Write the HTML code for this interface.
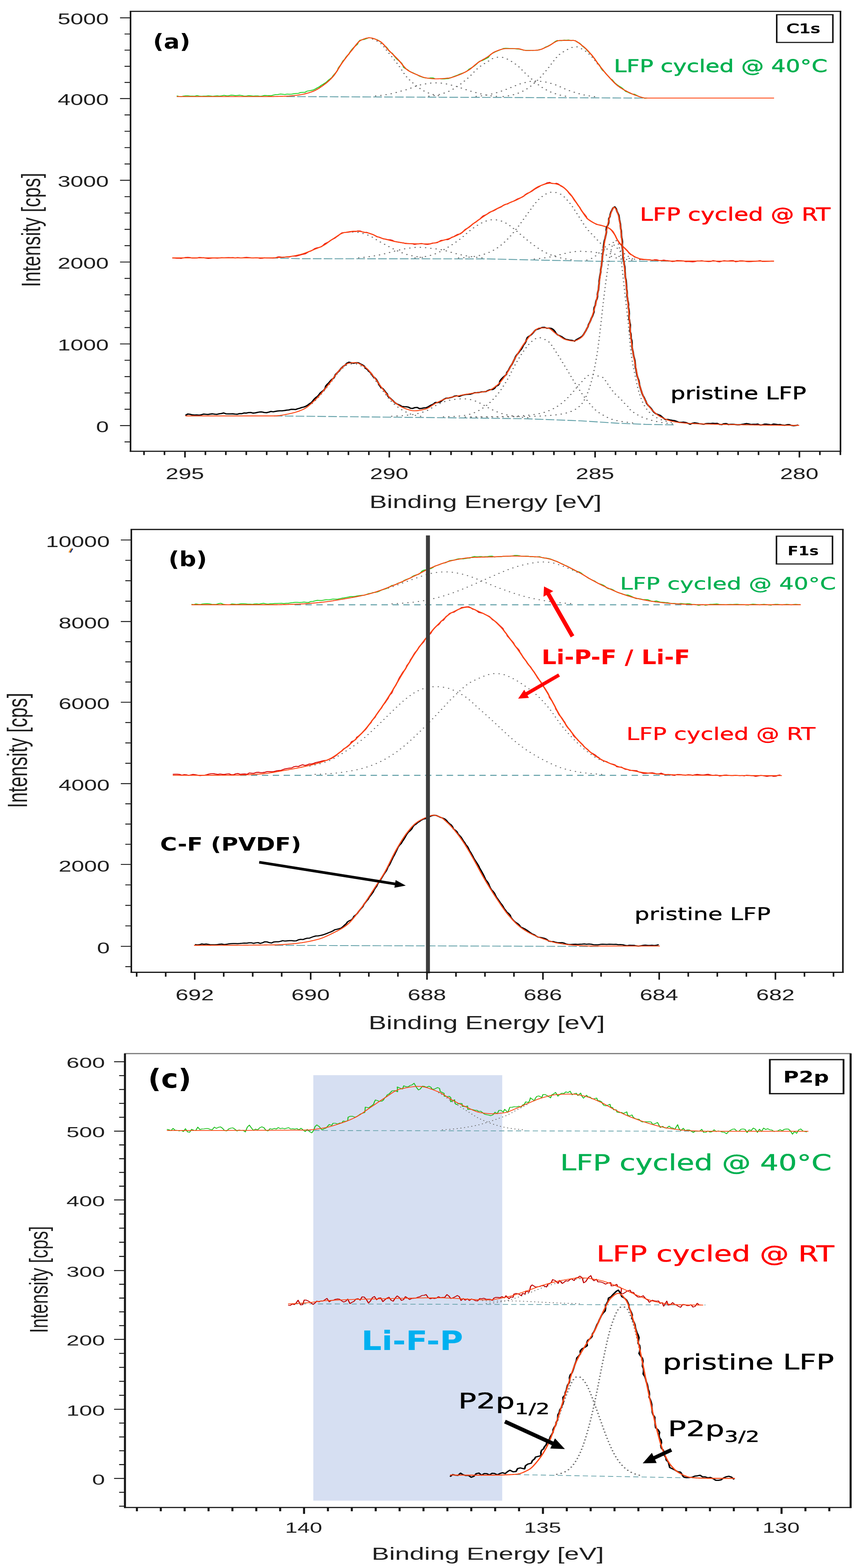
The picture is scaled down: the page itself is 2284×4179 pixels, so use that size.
<!DOCTYPE html>
<html lang="en"><head><meta charset="utf-8"><title>XPS spectra of LFP electrodes</title>
<style>html,body{margin:0;padding:0;background:#fff;overflow:hidden}svg{display:block}</style></head><body>
<svg width="2284" height="4179" viewBox="0 0 2284 4179">
<rect width="2284" height="4179" fill="#fff"/>
<g transform="scale(1.4 1)">
<g id="panel-a">
<path d="M545 257.4L1229.29 261.4" fill="none" stroke="#62a0a8" stroke-width="2.4" stroke-dasharray="16.4 4.3"/>
<path d="M709.29 104L710.71 104.7L712.14 105.5L713.57 106.4L715 107.4L716.43 108.4L717.86 109.5L719.29 110.6L720.71 111.8L722.14 113L723.57 114.3L725 115.9L726.43 117.8L727.86 119.9L729.29 122.1L730.71 124.6L732.14 127.1L733.57 129.7L735 132.4L736.43 135L737.86 137.6L739.29 140.2L740.71 142.6L742.14 145L743.57 147.4L745 149.8L746.43 152.3L747.86 154.7L749.29 157.2L750.71 159.7L752.14 162.2L753.57 164.8L755 167.3L756.43 170L757.86 172.6L759.29 175.4L760.71 178.2L762.14 181.2L763.57 184.2L765 187.2L766.43 190.2L767.86 193.2L769.29 196.1L770.71 198.9L772.14 201.6L773.57 204.1L775 206.4L776.43 208.5L777.86 210.6L779.29 212.5L780.71 214.5L782.14 216.3L783.57 218.1L785 219.9L786.43 221.6L787.86 223.3L789.29 225L790.71 226.6L792.14 228.2L793.57 229.8L795 231.3L796.43 232.8L797.86 234.3L799.29 235.7L800.71 237.1L802.14 238.4L803.57 239.7L805 240.9L806.43 242L807.86 243.1L809.29 244.1L810.71 245L812.14 245.9L813.57 246.7L815 247.5L816.43 248.3L817.86 249L819.29 249.7L820.71 250.4L822.14 251L823.57 251.5L825 252.1L826.43 252.6L827.86 253.1L829.29 253.5L830.71 253.9L832.14 254.3L833.57 254.7L835 255L836.43 255.3L837.86 255.6L839.29 255.9L840.71 256.2L842.14 256.4L843.57 256.6" fill="none" stroke="#6c6c6c" stroke-width="2.8" stroke-dasharray="0.1 10" stroke-linecap="round"/>
<path d="M715 255.7L716.43 255.6L717.86 255.4L719.29 255.2L720.71 255L722.14 254.8L723.57 254.5L725 254.3L726.43 254L727.86 253.8L729.29 253.5L730.71 253.2L732.14 252.9L733.57 252.6L735 252.3L736.43 252L737.86 251.7L739.29 251.3L740.71 250.9L742.14 250.5L743.57 250.1L745 249.7L746.43 249.2L747.86 248.7L749.29 248.2L750.71 247.7L752.14 247.2L753.57 246.7L755 246.1L756.43 245.5L757.86 244.9L759.29 244.4L760.71 243.8L762.14 243.3L763.57 242.7L765 242.2L766.43 241.7L767.86 241.2L769.29 240.6L770.71 240.1L772.14 239.6L773.57 239L775 238.4L776.43 237.7L777.86 237L779.29 236.3L780.71 235.5L782.14 234.8L783.57 234L785 233.3L786.43 232.5L787.86 231.7L789.29 231L790.71 230.3L792.14 229.6L793.57 228.9L795 228.2L796.43 227.7L797.86 227.1L799.29 226.6L800.71 226.1L802.14 225.7L803.57 225.3L805 224.9L806.43 224.5L807.86 224.2L809.29 223.8L810.71 223.4L812.14 223L813.57 222.6L815 222.3L816.43 222L817.86 221.8L819.29 221.6L820.71 221.4L822.14 221.2L823.57 221.1L825 221L826.43 220.9L827.86 220.9L829.29 220.9L830.71 220.8L832.14 220.8L833.57 220.9L835 221L836.43 221.1L837.86 221.2L839.29 221.4L840.71 221.6L842.14 221.8L843.57 222.1L845 222.4L846.43 222.7L847.86 223.1L849.29 223.5L850.71 224L852.14 224.4L853.57 224.9L855 225.4L856.43 225.9L857.86 226.4L859.29 226.9L860.71 227.4L862.14 227.9L863.57 228.4L865 228.9L866.43 229.4L867.86 230L869.29 230.5L870.71 231.1L872.14 231.8L873.57 232.4L875 233.1L876.43 233.8L877.86 234.5L879.29 235.2L880.71 235.9L882.14 236.6L883.57 237.3L885 237.9L886.43 238.6L887.86 239.3L889.29 240L890.71 240.6L892.14 241.3L893.57 241.9L895 242.5L896.43 243.1L897.86 243.7L899.29 244.2L900.71 244.8L902.14 245.3L903.57 245.9L905 246.4L906.43 246.9L907.86 247.5L909.29 248L910.71 248.6L912.14 249.1L913.57 249.6L915 250.1L916.43 250.6L917.86 251.1L919.29 251.5L920.71 252L922.14 252.4L923.57 252.8L925 253.2L926.43 253.5L927.86 253.8L929.29 254.2L930.71 254.5L932.14 254.8L933.57 255L935 255.3L936.43 255.5L937.86 255.8L939.29 256L940.71 256.2L942.14 256.5L943.57 256.7L945 256.9L946.43 257.1L947.86 257.2" fill="none" stroke="#6c6c6c" stroke-width="2.8" stroke-dasharray="0.1 10" stroke-linecap="round"/>
<path d="M816.43 256.3L817.86 256.1L819.29 255.9L820.71 255.7L822.14 255.4L823.57 255.1L825 254.9L826.43 254.6L827.86 254.2L829.29 253.9L830.71 253.5L832.14 253.1L833.57 252.7L835 252.2L836.43 251.8L837.86 251.3L839.29 250.7L840.71 250.2L842.14 249.6L843.57 249L845 248.3L846.43 247.7L847.86 247L849.29 246.2L850.71 245.5L852.14 244.7L853.57 243.9L855 243L856.43 242.1L857.86 241.1L859.29 240.1L860.71 239L862.14 237.9L863.57 236.7L865 235.5L866.43 234.2L867.86 232.9L869.29 231.6L870.71 230.2L872.14 228.8L873.57 227.4L875 225.9L876.43 224.5L877.86 223L879.29 221.4L880.71 219.9L882.14 218.3L883.57 216.6L885 215L886.43 213.3L887.86 211.6L889.29 209.8L890.71 208.1L892.14 206.3L893.57 204.5L895 202.6L896.43 200.6L897.86 198.5L899.29 196.4L900.71 194.3L902.14 192.2L903.57 190.1L905 188L906.43 186L907.86 184.1L909.29 182.3L910.71 180.6L912.14 179L913.57 177.5L915 176L916.43 174.6L917.86 173.3L919.29 172L920.71 170.8L922.14 169.5L923.57 168.3L925 167.1L926.43 166L927.86 164.8L929.29 163.5L930.71 162.2L932.14 160.8L933.57 159.5L935 158.2L936.43 157L937.86 155.9L939.29 155L940.71 154.2L942.14 153.7L943.57 153.3L945 153L946.43 152.7L947.86 152.5L949.29 152.4L950.71 152.3L952.14 152.3L953.57 152.4L955 152.6L956.43 152.9L957.86 153.3L959.29 153.8L960.71 154.4L962.14 155.2L963.57 156L965 157L966.43 158L967.86 159L969.29 160.1L970.71 161.2L972.14 162.4L973.57 163.6L975 164.9L976.43 166.1L977.86 167.5L979.29 168.9L980.71 170.3L982.14 171.7L983.57 173.2L985 174.7L986.43 176.4L987.86 178.2L989.29 180.1L990.71 182.1L992.14 184.1L993.57 186.1L995 188.2L996.43 190.3L997.86 192.3L999.29 194.3L1000.71 196.2L1002.14 198.1L1003.57 199.9L1005 201.7L1006.43 203.5L1007.86 205.3L1009.29 207.1L1010.71 209L1012.14 210.8L1013.57 212.5L1015 214.3L1016.43 216.1L1017.86 217.8L1019.29 219.5L1020.71 221.2L1022.14 222.9L1023.57 224.5L1025 226.1L1026.43 227.6L1027.86 229.1L1029.29 230.4L1030.71 231.8L1032.14 233.1L1033.57 234.3L1035 235.5L1036.43 236.7L1037.86 237.9L1039.29 239L1040.71 240.1L1042.14 241.1L1043.57 242.1L1045 243.1L1046.43 244L1047.86 244.9L1049.29 245.7L1050.71 246.5L1052.14 247.3L1053.57 248L1055 248.7L1056.43 249.4L1057.86 250.1L1059.29 250.7L1060.71 251.3L1062.14 251.9L1063.57 252.5L1065 253L1066.43 253.5L1067.86 254L1069.29 254.5L1070.71 254.9L1072.14 255.3L1073.57 255.7L1075 256.1L1076.43 256.4L1077.86 256.7L1079.29 257L1080.71 257.3L1082.14 257.5L1083.57 257.7L1085 258" fill="none" stroke="#6c6c6c" stroke-width="2.8" stroke-dasharray="0.1 10" stroke-linecap="round"/>
<path d="M906.43 256.9L907.86 256.7L909.29 256.5L910.71 256.3L912.14 256.1L913.57 255.9L915 255.6L916.43 255.4L917.86 255.1L919.29 254.9L920.71 254.6L922.14 254.3L923.57 254L925 253.7L926.43 253.3L927.86 253L929.29 252.6L930.71 252.2L932.14 251.8L933.57 251.3L935 250.8L936.43 250.3L937.86 249.8L939.29 249.3L940.71 248.7L942.14 248.2L943.57 247.6L945 247.1L946.43 246.5L947.86 245.9L949.29 245.2L950.71 244.6L952.14 243.9L953.57 243.2L955 242.5L956.43 241.8L957.86 241.1L959.29 240.4L960.71 239.6L962.14 238.9L963.57 238.2L965 237.4L966.43 236.7L967.86 235.9L969.29 235.1L970.71 234.3L972.14 233.5L973.57 232.7L975 231.9L976.43 231.1L977.86 230.3L979.29 229.4L980.71 228.6L982.14 227.8L983.57 226.9L985 226.1L986.43 225.3L987.86 224.6L989.29 223.9L990.71 223.3L992.14 222.7L993.57 222.2L995 221.6L996.43 221.1L997.86 220.6L999.29 220.1L1000.71 219.6L1002.14 219.1L1003.57 218.6L1005 218.2L1006.43 217.7L1007.86 217.3L1009.29 217L1010.71 216.7L1012.14 216.4L1013.57 216.2L1015 216L1016.43 215.9L1017.86 215.9L1019.29 215.8L1020.71 215.9L1022.14 216L1023.57 216.1L1025 216.3L1026.43 216.4L1027.86 216.6L1029.29 216.8L1030.71 217L1032.14 217.2L1033.57 217.4L1035 217.7L1036.43 218.1L1037.86 218.4L1039.29 218.8L1040.71 219.3L1042.14 219.8L1043.57 220.3L1045 220.8L1046.43 221.3L1047.86 221.9L1049.29 222.4L1050.71 223L1052.14 223.6L1053.57 224.2L1055 224.9L1056.43 225.6L1057.86 226.3L1059.29 227L1060.71 227.8L1062.14 228.7L1063.57 229.5L1065 230.4L1066.43 231.4L1067.86 232.3L1069.29 233.2L1070.71 234.1L1072.14 235L1073.57 235.9L1075 236.7L1076.43 237.6L1077.86 238.4L1079.29 239.2L1080.71 239.9L1082.14 240.7L1083.57 241.4L1085 242.1L1086.43 242.8L1087.86 243.5L1089.29 244.1L1090.71 244.8L1092.14 245.4L1093.57 246L1095 246.7L1096.43 247.3L1097.86 247.9L1099.29 248.5L1100.71 249.1L1102.14 249.7L1103.57 250.3L1105 250.8L1106.43 251.3L1107.86 251.8L1109.29 252.2L1110.71 252.7L1112.14 253.1L1113.57 253.5L1115 253.9L1116.43 254.3L1117.86 254.7L1119.29 255L1120.71 255.4L1122.14 255.7L1123.57 256L1125 256.3L1126.43 256.6L1127.86 256.9L1129.29 257.1L1130.71 257.4L1132.14 257.6L1133.57 257.9L1135 258.1L1136.43 258.3" fill="none" stroke="#6c6c6c" stroke-width="2.8" stroke-dasharray="0.1 10" stroke-linecap="round"/>
<path d="M957.86 257.2L959.29 257L960.71 256.7L962.14 256.5L963.57 256.2L965 255.9L966.43 255.6L967.86 255.3L969.29 254.9L970.71 254.6L972.14 254.2L973.57 253.7L975 253.3L976.43 252.8L977.86 252.2L979.29 251.7L980.71 251.1L982.14 250.4L983.57 249.8L985 249L986.43 248.3L987.86 247.5L989.29 246.7L990.71 245.9L992.14 245L993.57 244.1L995 243.2L996.43 242.2L997.86 241.1L999.29 240L1000.71 238.9L1002.14 237.6L1003.57 236.4L1005 235L1006.43 233.6L1007.86 232.2L1009.29 230.7L1010.71 229.1L1012.14 227.5L1013.57 225.9L1015 224.2L1016.43 222.5L1017.86 220.7L1019.29 218.9L1020.71 217.1L1022.14 215.3L1023.57 213.4L1025 211.5L1026.43 209.4L1027.86 207.3L1029.29 205.2L1030.71 202.9L1032.14 200.6L1033.57 198.3L1035 195.9L1036.43 193.5L1037.86 191.1L1039.29 188.7L1040.71 186.3L1042.14 183.9L1043.57 181.4L1045 178.9L1046.43 176.3L1047.86 173.7L1049.29 171L1050.71 168.4L1052.14 165.7L1053.57 163.1L1055 160.5L1056.43 158L1057.86 155.5L1059.29 153.2L1060.71 151L1062.14 148.9L1063.57 147L1065 145.2L1066.43 143.7L1067.86 142.3L1069.29 140.9L1070.71 139.6L1072.14 138.3L1073.57 137.1L1075 135.9L1076.43 134.8L1077.86 133.7L1079.29 132.6L1080.71 131.6L1082.14 130.6L1083.57 129.6L1085 128.7L1086.43 127.8L1087.86 127L1089.29 126.2L1090.71 125.4L1092.14 124.7L1093.57 124.3L1095 124.2L1096.43 124.3L1097.86 124.7L1099.29 125.2L1100.71 125.9L1102.14 126.7L1103.57 127.6L1105 128.6L1106.43 129.6L1107.86 130.6L1109.29 131.6L1110.71 132.7L1112.14 133.9L1113.57 135.2L1115 136.6L1116.43 138.1L1117.86 139.8L1119.29 141.5L1120.71 143.3L1122.14 145.1L1123.57 147L1125 149L1126.43 151L1127.86 153.2L1129.29 155.5L1130.71 157.9L1132.14 160.5L1133.57 163.1L1135 165.8L1136.43 168.4L1137.86 171.1L1139.29 173.7L1140.71 176.2" fill="none" stroke="#6c6c6c" stroke-width="2.8" stroke-dasharray="0.1 10" stroke-linecap="round"/>
<path d="M336.43 255.5L340.72 257L345 257.5L349.29 256.1L353.57 255.3L357.86 255.3L362.14 256L366.43 256.1L370.72 256.3L375 254.7L379.29 256L383.57 256.5L387.86 256.2L392.14 256L396.43 255.3L400.71 255.9L405 256.6L409.29 255.9L413.57 255.4L417.86 256.1L422.14 255.3L426.43 254L430.71 255.1L435 255.3L439.28 253.7L443.57 253.9L447.86 254.8L452.14 254.4L456.42 253.7L460.71 254.8L465 256.2L469.29 255.8L473.57 254.8L477.86 255.4L482.14 256.2L486.43 255.6L490.71 255.7L495 256.5L499.29 255.8L503.54 254.4L507.85 254.7L512.16 254.8L516.48 255.1L520.69 253.3L524.92 252.1L529.22 251.9L533.45 250.7L537.8 251.2L542.17 252L546.39 250.8L550.78 251.1L555.12 251L559.32 249.9L563.54 249.1L567.83 248.9L571.91 246.7L576.16 246.2L580.52 246.1L584.3 243L588.48 242L592.71 240.9L596.88 239.5L600.64 236.8L604.26 233.8L608.1 231.2L611.34 227.5L615.07 224.6L618.63 221.4L622.04 217.9L625.08 213.8L628.55 210.3L631.78 206.4L634.27 201.6L637.02 197.1L639.86 192.6L642.47 187.8L643.74 182.2L646.05 177.2L648.74 172.5L650.83 167.4L652.88 162.3L655.99 158.1L658.2 153.1L660.86 148.5L664.19 144.5L666.01 139.2L668.51 134.4L671.15 129.9L674.06 125.5L677.47 121.5L680.65 117.5L682.31 111.8L685.21 107.3L689.73 105.9L694.09 104.9L697.96 102.8L701.95 100.5L706.26 101L710.38 102.6L714.51 104.3L718.63 106.3L722.27 109.4L725.63 113L728.94 116.8L731.99 121.1L735.2 125.2L737.99 129.7L740.11 134.9L743.25 139.1L747.1 142.4L749.46 147.4L752.13 152L754.77 156.6L758.1 160.6L761.61 164.4L764.79 168.6L766.73 174L768.38 179.6L772.23 183.2L776.24 186.1L779.38 190L783.33 192.5L787.3 194.8L791.16 197.3L795 199.9L798.64 203.1L802.76 205L806.83 207L811.15 207.8L815.42 208.5L819.82 207.7L824.09 207.5L828.23 209.9L832.51 210L836.8 210L841.11 210.3L845.44 210.5L849.73 210L854.03 209.3L858.19 207.5L862.08 204.9L866.02 202.7L870.08 200.8L873.95 198.3L877.94 196.2L882.05 194.3L886.05 191.9L889.68 188.8L892.66 184.6L896.34 181.5L900.16 178.4L903.77 174.9L907.06 171.1L909.94 166.7L913.26 163L917.8 161.5L921.71 158.9L925.51 156L929.52 153.2L932.03 148.1L935.12 144L938.87 141L942.66 138.3L946.61 136.1L950.51 133.7L954.52 131.7L958.48 129.1L962.86 128.7L967.19 128.9L971.47 129.3L975.76 129.3L980.04 129.8L984.28 130.6L988.47 130.9L992.63 132.2L996.79 133.7L1001.08 134.2L1005.34 134.2L1009.61 134L1013.91 134.3L1018.2 134.2L1022.5 134.2L1026.57 132.2L1030.8 131.2L1034.7 128.7L1038.3 125.5L1042.36 123.5L1046.12 120.7L1049.94 117.8L1053.44 114.4L1056.83 110.7L1060.81 108L1065.38 108.3L1069.61 108.4L1073.89 106.8L1078.18 107.1L1082.46 106.5L1086.75 108.3L1091.06 107.5L1095.33 108.5L1098.71 112.2L1102.86 114.6L1106.09 118.5L1108.84 123.1L1112.17 126.8L1115.51 130.6L1118.33 135.1L1121.36 139.3L1124.34 143.7L1127.25 148.1L1129.73 153L1132.61 157.6L1134.82 162.7L1137.31 167.5L1140.33 172L1142.58 177L1144.42 182.5L1147.04 187.2L1150.46 191.2L1153.13 195.9L1156.07 200.3L1159.09 204.6L1161.83 209.2L1165.55 212.8L1168.17 217.4L1171.04 221.8L1174.39 225.6L1177.93 229L1181.61 232L1185.02 235.5L1188.05 239.7L1191.22 243.8L1195.38 245.8L1199.24 248.5L1203.31 250.6L1207.9 251.2L1211.67 253.9L1215.34 257L1219.54 258.5L1223.62 260.3L1227.8 261.9L1232.14 261" fill="none" stroke="#20d020" stroke-width="2.2" stroke-linejoin="round" />
<path d="M336.43 257.4L337.86 257.4L339.29 257.4L340.71 257.4L342.14 257.4L343.57 257.4L345 257.4L346.43 257.4L347.86 257.4L349.29 257.4L350.71 257.4L352.14 257.4L353.57 257.4L355 257.4L356.43 257.4L357.86 257.4L359.29 257.4L360.71 257.4L362.14 257.4L363.57 257.4L365 257.4L366.43 257.4L367.86 257.4L369.29 257.4L370.71 257.4L372.14 257.4L373.57 257.4L375 257.4L376.43 257.4L377.86 257.4L379.29 257.4L380.71 257.4L382.14 257.4L383.57 257.4L385 257.4L386.43 257.4L387.86 257.4L389.29 257.4L390.71 257.4L392.14 257.4L393.57 257.4L395 257.4L396.43 257.4L397.86 257.4L399.29 257.4L400.71 257.4L402.14 257.4L403.57 257.4L405 257.4L406.43 257.4L407.86 257.4L409.29 257.4L410.71 257.4L412.14 257.4L413.57 257.4L415 257.4L416.43 257.4L417.86 257.4L419.29 257.4L420.71 257.4L422.14 257.4L423.57 257.4L425 257.4L426.43 257.4L427.86 257.4L429.29 257.4L430.71 257.4L432.14 257.4L433.57 257.4L435 257.4L436.43 257.4L437.86 257.4L439.29 257.4L440.71 257.4L442.14 257.4L443.57 257.4L445 257.4L446.43 257.4L447.86 257.4L449.29 257.4L450.71 257.4L452.14 257.4L453.57 257.4L455 257.4L456.43 257.4L457.86 257.4L459.29 257.4L460.71 257.4L462.14 257.4L463.57 257.4L465 257.4L466.43 257.4L467.86 257.4L469.29 257.4L470.71 257.4L472.14 257.4L473.57 257.4L475 257.4L476.43 257.4L477.86 257.4L479.29 257.4L480.71 257.4L482.14 257.4L483.57 257.4L485 257.4L486.43 257.4L487.86 257.4L489.29 257.4L490.71 257.4L492.14 257.4L493.57 257.4L495 257.4L496.43 257.4L497.86 257.4L499.29 257.4L500.71 257.4L502.14 257.4L503.57 257.4L505 257.4L506.43 257.4L507.86 257.4L509.29 257.4L510.71 257.3L512.14 257.3L513.57 257.3L515 257.3L516.43 257.3L517.86 257.2L519.29 257.2L520.71 257.2L522.14 257.1L523.57 257.1L525 257.1L526.43 257L527.86 257L529.29 257L530.71 256.9L532.14 256.9L533.57 256.8L535 256.8L536.43 256.7L537.86 256.7L539.29 256.6L540.71 256.6L542.14 256.5L543.57 256.5L545 256.4L546.43 256.3L547.86 256.2L549.29 256.1L550.71 256L552.14 255.8L553.57 255.7L555 255.5L556.43 255.3L557.86 255.1L559.29 254.9L560.71 254.6L562.14 254.4L563.57 254.1L565 253.9L566.43 253.6L567.86 253.3L569.29 253L570.71 252.8L572.14 252.4L573.57 252.1L575 251.7L576.43 251.3L577.86 250.9L579.29 250.5L580.71 250L582.14 249.5L583.57 249L585 248.4L586.43 247.9L587.86 247.3L589.29 246.6L590.71 246L592.14 245.3L593.57 244.6L595 243.9L596.43 243.2L597.86 242.3L599.29 241.4L600.71 240.4L602.14 239.3L603.57 238.2L605 237L606.43 235.8L607.86 234.5L609.29 233.2L610.71 231.8L612.14 230.5L613.57 229.1L615 227.6L616.43 226.2L617.86 224.7L619.29 223.2L620.71 221.7L622.14 220L623.57 218.4L625 216.6L626.43 214.8L627.86 212.9L629.29 211L630.71 208.9L632.14 206.8L633.57 204.6L635 202.3L636.43 199.7L637.86 197L639.29 194L640.71 190.9L642.14 187.8L643.57 184.5L645 181.3L646.43 178L647.86 174.8L649.29 171.7L650.71 168.7L652.14 165.9L653.57 163.2L655 160.4L656.43 157.7L657.86 155.1L659.29 152.4L660.71 149.8L662.14 147.2L663.57 144.7L665 142.2L666.43 139.7L667.86 137.2L669.29 134.8L670.71 132.4L672.14 129.8L673.57 127.2L675 124.6L676.43 121.9L677.86 119.3L679.29 116.9L680.71 114.6L682.14 112.4L683.57 110.6L685 109L686.43 107.7L687.86 106.8L689.29 105.9L690.71 105L692.14 104.2L693.57 103.5L695 102.8L696.43 102.2L697.86 101.7L699.29 101.3L700.71 101L702.14 100.8L703.57 100.8L705 100.9L706.43 101.2L707.86 101.5L709.29 102L710.71 102.5L712.14 103.2L713.57 103.9L715 104.7L716.43 105.6L717.86 106.5L719.29 107.4L720.71 108.4L722.14 109.4L723.57 110.4L725 111.7L726.43 113.3L727.86 115.2L729.29 117.2L730.71 119.3L732.14 121.6L733.57 123.9L735 126.2L736.43 128.5L737.86 130.8L739.29 133L740.71 135L742.14 137L743.57 139L745 140.9L746.43 142.9L747.86 144.8L749.29 146.8L750.71 148.8L752.14 150.7L753.57 152.7L755 154.8L756.43 156.8L757.86 158.9L759.29 161L760.71 163.3L762.14 165.7L763.57 168.1L765 170.6L766.43 173.1L767.86 175.6L769.29 177.9L770.71 180.2L772.14 182.3L773.57 184.2L775 185.8L776.43 187.3L777.86 188.6L779.29 189.8L780.71 190.9L782.14 192L783.57 193L785 194L786.43 194.9L787.86 195.8L789.29 196.7L790.71 197.5L792.14 198.3L793.57 199.1L795 199.9L796.43 200.8L797.86 201.6L799.29 202.4L800.71 203.2L802.14 204L803.57 204.8L805 205.5L806.43 206.1L807.86 206.7L809.29 207.1L810.71 207.5L812.14 207.8L813.57 208.1L815 208.4L816.43 208.7L817.86 208.9L819.29 209.2L820.71 209.4L822.14 209.6L823.57 209.7L825 209.9L826.43 210L827.86 210.1L829.29 210.1L830.71 210.1L832.14 210.1L833.57 210L835 210L836.43 209.9L837.86 209.8L839.29 209.7L840.71 209.6L842.14 209.5L843.57 209.4L845 209.2L846.43 209.1L847.86 208.9L849.29 208.7L850.71 208.5L852.14 208.3L853.57 208.1L855 207.9L856.43 207.5L857.86 207.1L859.29 206.6L860.71 206.1L862.14 205.5L863.57 204.9L865 204.2L866.43 203.5L867.86 202.8L869.29 202L870.71 201.2L872.14 200.5L873.57 199.7L875 198.9L876.43 198.1L877.86 197.3L879.29 196.4L880.71 195.5L882.14 194.6L883.57 193.6L885 192.6L886.43 191.5L887.86 190.4L889.29 189.2L890.71 188.1L892.14 186.9L893.57 185.6L895 184.1L896.43 182.6L897.86 181L899.29 179.3L900.71 177.5L902.14 175.8L903.57 174.1L905 172.3L906.43 170.7L907.86 169.1L909.29 167.6L910.71 166.2L912.14 164.9L913.57 163.7L915 162.5L916.43 161.3L917.86 160.2L919.29 159L920.71 157.9L922.14 156.8L923.57 155.6L925 154.4L926.43 153.2L927.86 151.9L929.29 150.6L930.71 149.1L932.14 147.5L933.57 145.9L935 144.3L936.43 142.8L937.86 141.3L939.29 140L940.71 138.8L942.14 137.9L943.57 137.1L945 136.3L946.43 135.4L947.86 134.7L949.29 133.9L950.71 133.2L952.14 132.5L953.57 131.9L955 131.3L956.43 130.8L957.86 130.4L959.29 130L960.71 129.8L962.14 129.6L963.57 129.6L965 129.6L966.43 129.6L967.86 129.6L969.29 129.6L970.71 129.6L972.14 129.6L973.57 129.6L975 129.6L976.43 129.6L977.86 129.6L979.29 129.6L980.71 129.6L982.14 129.6L983.57 129.6L985 129.6L986.43 129.8L987.86 130L989.29 130.5L990.71 131L992.14 131.5L993.57 132.1L995 132.7L996.43 133.3L997.86 133.8L999.29 134.2L1000.71 134.5L1002.14 134.6L1003.57 134.6L1005 134.6L1006.43 134.6L1007.86 134.5L1009.29 134.5L1010.71 134.4L1012.14 134.4L1013.57 134.3L1015 134.2L1016.43 134.1L1017.86 134.1L1019.29 134L1020.71 133.8L1022.14 133.7L1023.57 133.6L1025 133.4L1026.43 133L1027.86 132.5L1029.29 131.9L1030.71 131.2L1032.14 130.4L1033.57 129.6L1035 128.7L1036.43 127.7L1037.86 126.8L1039.29 125.9L1040.71 125L1042.14 124.2L1043.57 123.2L1045 122.1L1046.43 121L1047.86 119.8L1049.29 118.5L1050.71 117.2L1052.14 115.9L1053.57 114.6L1055 113.4L1056.43 112.2L1057.86 111.1L1059.29 110.2L1060.71 109.3L1062.14 108.6L1063.57 108.1L1065 107.8L1066.43 107.7L1067.86 107.7L1069.29 107.7L1070.71 107.7L1072.14 107.7L1073.57 107.7L1075 107.7L1076.43 107.7L1077.86 107.7L1079.29 107.7L1080.71 107.7L1082.14 107.7L1083.57 107.7L1085 107.7L1086.43 107.7L1087.86 107.7L1089.29 107.7L1090.71 107.7L1092.14 107.8L1093.57 108.1L1095 108.8L1096.43 109.6L1097.86 110.7L1099.29 112L1100.71 113.3L1102.14 114.8L1103.57 116.3L1105 117.9L1106.43 119.5L1107.86 121.1L1109.29 122.5L1110.71 124.1L1112.14 125.8L1113.57 127.5L1115 129.4L1116.43 131.3L1117.86 133.4L1119.29 135.5L1120.71 137.6L1122.14 139.8L1123.57 142.1L1125 144.3L1126.43 146.7L1127.86 149L1129.29 151.6L1130.71 154.3L1132.14 157.1L1133.57 160L1135 162.9L1136.43 165.8L1137.86 168.6L1139.29 171.4L1140.71 174L1142.14 176.6L1143.57 179.2L1145 181.7L1146.43 184.2L1147.86 186.7L1149.29 189.1L1150.71 191.5L1152.14 193.9L1153.57 196.3L1155 198.6L1156.43 200.9L1157.86 203.1L1159.29 205.3L1160.71 207.5L1162.14 209.7L1163.57 211.9L1165 214L1166.43 216.1L1167.86 218.2L1169.29 220.2L1170.71 222.2L1172.14 224.1L1173.57 225.8L1175 227.5L1176.43 229.1L1177.86 230.5L1179.29 232L1180.71 233.3L1182.14 234.6L1183.57 235.9L1185 237.1L1186.43 238.3L1187.86 239.4L1189.29 240.5L1190.71 241.6L1192.14 242.6L1193.57 243.6L1195 244.7L1196.43 245.7L1197.86 246.6L1199.29 247.6L1200.71 248.6L1202.14 249.5L1203.57 250.4L1205 251.3L1206.43 252.1L1207.86 252.9L1209.29 253.6L1210.71 254.4L1212.14 255L1213.57 255.7L1215 256.4L1216.43 257.1L1217.86 257.8L1219.29 258.5L1220.71 259.2L1222.14 259.7L1223.57 260.3L1225 260.7L1226.43 261.1L1227.86 261.3L1229.29 261.4L1230.71 261.4L1232.14 261.4L1233.57 261.4L1235 261.4L1236.43 261.4L1237.86 261.4L1239.29 261.4L1240.71 261.4L1242.14 261.4L1243.57 261.4L1245 261.4L1246.43 261.4L1247.86 261.4L1249.29 261.4L1250.71 261.4L1252.14 261.4L1253.57 261.4L1255 261.4L1256.43 261.4L1257.86 261.4L1259.29 261.4L1260.71 261.4L1262.14 261.4L1263.57 261.4L1265 261.4L1266.43 261.4L1267.86 261.4L1269.29 261.4L1270.71 261.4L1272.14 261.4L1273.57 261.4L1275 261.4L1276.43 261.4L1277.86 261.4L1279.29 261.4L1280.71 261.4L1282.14 261.4L1283.57 261.4L1285 261.4L1286.43 261.4L1287.86 261.4L1289.29 261.4L1290.71 261.4L1292.14 261.4L1293.57 261.4L1295 261.4L1296.43 261.4L1297.86 261.4L1299.29 261.4L1300.71 261.4L1302.14 261.4L1303.57 261.4L1305 261.4L1306.43 261.4L1307.86 261.4L1309.29 261.4L1310.71 261.4L1312.14 261.4L1313.57 261.4L1315 261.4L1316.43 261.4L1317.86 261.4L1319.29 261.4L1320.71 261.4L1322.14 261.4L1323.57 261.4L1325 261.4L1326.43 261.4L1327.86 261.4L1329.29 261.4L1330.71 261.4L1332.14 261.4L1333.57 261.4L1335 261.4L1336.43 261.4L1337.86 261.4L1339.29 261.4L1340.71 261.4L1342.14 261.4L1343.57 261.4L1345 261.4L1346.43 261.4L1347.86 261.4L1349.29 261.4L1350.71 261.4L1352.14 261.4L1353.57 261.4L1355 261.4L1356.43 261.4L1357.86 261.4L1359.29 261.4L1360.71 261.4L1362.14 261.4L1363.57 261.4L1365 261.4L1366.43 261.4L1367.86 261.4L1369.29 261.4L1370.71 261.4L1372.14 261.4L1373.57 261.4L1375 261.4L1376.43 261.4L1377.86 261.4L1379.29 261.4L1380.71 261.4L1382.14 261.4L1383.57 261.4L1385 261.4L1386.43 261.4L1387.86 261.4L1389.29 261.4L1390.71 261.4L1392.14 261.4L1393.57 261.4L1395 261.4L1396.43 261.4L1397.86 261.4L1399.29 261.4L1400.71 261.4L1402.14 261.4L1403.57 261.4L1405 261.4L1406.43 261.4L1407.86 261.4L1409.29 261.4L1410.71 261.4L1412.14 261.4L1413.57 261.4L1415 261.4L1416.43 261.4L1417.86 261.4L1419.29 261.4L1420.71 261.4L1422.14 261.4L1423.57 261.4L1425 261.4L1426.43 261.4L1427.86 261.4L1429.29 261.4L1430.71 261.4L1432.14 261.4L1433.57 261.4L1435 261.4L1436.43 261.4L1437.86 261.4L1439.29 261.4L1440.71 261.4L1442.14 261.4L1443.57 261.4L1445 261.4L1446.43 261.4L1447.86 261.4L1449.29 261.4L1450.71 261.4L1452.14 261.4L1453.57 261.4L1455 261.4L1456.43 261.4L1457.86 261.4L1459.29 261.4L1460.71 261.4L1462.14 261.4L1463.57 261.4L1465 261.4L1466.43 261.4L1467.86 261.4L1469.29 261.4L1470.71 261.4L1472.14 261.4L1473.57 261.4" fill="none" stroke="#ff4612" stroke-width="2.4" stroke-linejoin="round" />
<path d="M512.86 687.5L571.43 689.5L928.57 690L1035.71 693.5L1142.86 696.5L1285.71 696" fill="none" stroke="#62a0a8" stroke-width="2.4" stroke-dasharray="16.4 4.3"/>
<path d="M671.43 618.4L672.86 618.4L674.29 618.4L675.71 618.5L677.14 618.6L678.57 618.8L680 619L681.43 619.3L682.86 619.6L684.29 620L685.71 620.4L687.14 620.9L688.57 621.3L690 621.9L691.43 622.4L692.86 623L694.29 623.6L695.71 624.3L697.14 624.9L698.57 625.6L700 626.3L701.43 627L702.86 627.8L704.29 628.7L705.71 629.7L707.14 630.8L708.57 631.9L710 633.1L711.43 634.3L712.86 635.6L714.29 636.8L715.71 638.1L717.14 639.4L718.57 640.6L720 641.8L721.43 643L722.86 644.1L724.29 645.2L725.71 646.3L727.14 647.4L728.57 648.4L730 649.5L731.43 650.6L732.86 651.7L734.29 652.7L735.71 653.8L737.14 654.9L738.57 655.9L740 657L741.43 658L742.86 659.1L744.29 660.1L745.71 661.2L747.14 662.2L748.57 663.2L750 664.3L751.43 665.2L752.86 666.2L754.29 667.2L755.71 668.1L757.14 669L758.57 669.9L760 670.8L761.43 671.6L762.86 672.4L764.29 673.2L765.71 673.9L767.14 674.7L768.57 675.4L770 676.1L771.43 676.8L772.86 677.4L774.29 678.1L775.71 678.7L777.14 679.2L778.57 679.8L780 680.3L781.43 680.8L782.86 681.3L784.29 681.7L785.71 682.1L787.14 682.6L788.57 682.9L790 683.3L791.43 683.7L792.86 684L794.29 684.3L795.71 684.7L797.14 685L798.57 685.2L800 685.5L801.43 685.8L802.86 686L804.29 686.2L805.71 686.4L807.14 686.6L808.57 686.8L810 687L811.43 687.2" fill="none" stroke="#6c6c6c" stroke-width="2.8" stroke-dasharray="0.1 10" stroke-linecap="round"/>
<path d="M682.86 687.1L684.29 686.9L685.71 686.8L687.14 686.6L688.57 686.4L690 686.2L691.43 686L692.86 685.8L694.29 685.6L695.71 685.4L697.14 685.1L698.57 684.9L700 684.6L701.43 684.3L702.86 684L704.29 683.7L705.71 683.4L707.14 683.1L708.57 682.8L710 682.5L711.43 682.2L712.86 681.9L714.29 681.6L715.71 681.2L717.14 680.9L718.57 680.5L720 680.1L721.43 679.8L722.86 679.3L724.29 678.9L725.71 678.5L727.14 678L728.57 677.5L730 677.1L731.43 676.6L732.86 676.1L734.29 675.5L735.71 675L737.14 674.5L738.57 674L740 673.4L741.43 672.9L742.86 672.4L744.29 671.8L745.71 671.3L747.14 670.8L748.57 670.3L750 669.7L751.43 669.2L752.86 668.7L754.29 668.2L755.71 667.8L757.14 667.3L758.57 666.8L760 666.3L761.43 665.8L762.86 665.4L764.29 664.9L765.71 664.5L767.14 664.1L768.57 663.7L770 663.3L771.43 662.9L772.86 662.6L774.29 662.3L775.71 662L777.14 661.7L778.57 661.4L780 661.1L781.43 660.8L782.86 660.6L784.29 660.3L785.71 660.1L787.14 659.9L788.57 659.7L790 659.5L791.43 659.4L792.86 659.3L794.29 659.2L795.71 659.2L797.14 659.1L798.57 659.1L800 659.2L801.43 659.2L802.86 659.3L804.29 659.4L805.71 659.5L807.14 659.7L808.57 659.8L810 660L811.43 660.3L812.86 660.5L814.29 660.8L815.71 661.1L817.14 661.3L818.57 661.5L820 661.8L821.43 662L822.86 662.2L824.29 662.4L825.71 662.6L827.14 662.8L828.57 663.1L830 663.3L831.43 663.6L832.86 663.8L834.29 664.1L835.71 664.4L837.14 664.8L838.57 665.1L840 665.5L841.43 665.9L842.86 666.4L844.29 666.8L845.71 667.3L847.14 667.8L848.57 668.4L850 668.9L851.43 669.5L852.86 670.1L854.29 670.6L855.71 671.2L857.14 671.8L858.57 672.4L860 672.9L861.43 673.5L862.86 674.1L864.29 674.6L865.71 675.2L867.14 675.7L868.57 676.2L870 676.7L871.43 677.2L872.86 677.7L874.29 678.2L875.71 678.6L877.14 679L878.57 679.4L880 679.8L881.43 680.2L882.86 680.6L884.29 681L885.71 681.3L887.14 681.7L888.57 682L890 682.4L891.43 682.7L892.86 683L894.29 683.3L895.71 683.7L897.14 683.9L898.57 684.2L900 684.5L901.43 684.8L902.86 685.1L904.29 685.3L905.71 685.6L907.14 685.8L908.57 686L910 686.2L911.43 686.5L912.86 686.6L914.29 686.8L915.71 687L917.14 687.2L918.57 687.4" fill="none" stroke="#6c6c6c" stroke-width="2.8" stroke-dasharray="0.1 10" stroke-linecap="round"/>
<path d="M790 687.3L791.43 687.1L792.86 686.9L794.29 686.7L795.71 686.5L797.14 686.3L798.57 686L800 685.8L801.43 685.5L802.86 685.2L804.29 684.9L805.71 684.6L807.14 684.3L808.57 683.9L810 683.6L811.43 683.2L812.86 682.8L814.29 682.4L815.71 681.9L817.14 681.5L818.57 681L820 680.4L821.43 679.9L822.86 679.3L824.29 678.6L825.71 678L827.14 677.2L828.57 676.5L830 675.7L831.43 674.9L832.86 674L834.29 673.1L835.71 672.1L837.14 671.1L838.57 670.1L840 669.1L841.43 668L842.86 666.9L844.29 665.8L845.71 664.7L847.14 663.5L848.57 662.4L850 661.2L851.43 660.1L852.86 658.9L854.29 657.7L855.71 656.4L857.14 655.2L858.57 653.9L860 652.7L861.43 651.4L862.86 650L864.29 648.7L865.71 647.4L867.14 646L868.57 644.6L870 643.3L871.43 641.8L872.86 640.4L874.29 638.9L875.71 637.3L877.14 635.7L878.57 634.1L880 632.4L881.43 630.7L882.86 629L884.29 627.2L885.71 625.5L887.14 623.7L888.57 621.9L890 620.2L891.43 618.4L892.86 616.7L894.29 615L895.71 613.4L897.14 611.8L898.57 610.2L900 608.7L901.43 607.3L902.86 605.9L904.29 604.5L905.71 603.2L907.14 602L908.57 600.7L910 599.5L911.43 598.3L912.86 597.2L914.29 596L915.71 595L917.14 594L918.57 593L920 592L921.43 591.2L922.86 590.3L924.29 589.6L925.71 588.9L927.14 588.2L928.57 587.6L930 587.1L931.43 586.7L932.86 586.3L934.29 586L935.71 585.8L937.14 585.6L938.57 585.5L940 585.5L941.43 585.6L942.86 585.7L944.29 585.9L945.71 586.1L947.14 586.5L948.57 586.9L950 587.3L951.43 587.9L952.86 588.5L954.29 589.1L955.71 589.9L957.14 590.7L958.57 591.5L960 592.5L961.43 593.5L962.86 594.5L964.29 595.7L965.71 596.9L967.14 598.1L968.57 599.5L970 600.9L971.43 602.3L972.86 603.8L974.29 605.3L975.71 606.9L977.14 608.5L978.57 610.2L980 611.8L981.43 613.5L982.86 615.2L984.29 616.8L985.71 618.5L987.14 620.2L988.57 621.9L990 623.6L991.43 625.3L992.86 627L994.29 628.7L995.71 630.4L997.14 632.1L998.57 633.8L1000 635.5L1001.43 637.2L1002.86 638.8L1004.29 640.5L1005.71 642.2L1007.14 643.8L1008.57 645.4L1010 647L1011.43 648.5L1012.86 650L1014.29 651.5L1015.71 653L1017.14 654.4L1018.57 655.8L1020 657.2L1021.43 658.6L1022.86 660L1024.29 661.4L1025.71 662.7L1027.14 664L1028.57 665.3L1030 666.6L1031.43 667.8L1032.86 668.9L1034.29 670.1L1035.71 671.1L1037.14 672.2L1038.57 673.2L1040 674.2L1041.43 675.2L1042.86 676.1L1044.29 677L1045.71 677.8L1047.14 678.6L1048.57 679.4L1050 680.2L1051.43 681L1052.86 681.7L1054.29 682.4L1055.71 683L1057.14 683.7L1058.57 684.3L1060 684.8L1061.43 685.4L1062.86 685.9L1064.29 686.4L1065.71 686.9L1067.14 687.4L1068.57 687.8L1070 688.2L1071.43 688.7L1072.86 689.1L1074.29 689.4L1075.71 689.8L1077.14 690.1L1078.57 690.5L1080 690.8L1081.43 691.1L1082.86 691.4L1084.29 691.6L1085.71 691.9L1087.14 692.1L1088.57 692.4" fill="none" stroke="#6c6c6c" stroke-width="2.8" stroke-dasharray="0.1 10" stroke-linecap="round"/>
<path d="M872.86 687.4L874.29 687.3L875.71 687.2L877.14 687.1L878.57 687L880 686.9L881.43 686.7L882.86 686.6L884.29 686.5L885.71 686.3L887.14 686.1L888.57 686L890 685.8L891.43 685.6L892.86 685.4L894.29 685.1L895.71 684.9L897.14 684.7L898.57 684.4L900 684.1L901.43 683.8L902.86 683.5L904.29 683.2L905.71 682.9L907.14 682.5L908.57 682.2L910 681.8L911.43 681.3L912.86 680.9L914.29 680.4L915.71 679.9L917.14 679.4L918.57 678.8L920 678.2L921.43 677.6L922.86 677L924.29 676.3L925.71 675.6L927.14 674.8L928.57 674L930 673.2L931.43 672.4L932.86 671.5L934.29 670.6L935.71 669.6L937.14 668.6L938.57 667.6L940 666.5L941.43 665.4L942.86 664.2L944.29 662.9L945.71 661.6L947.14 660.3L948.57 658.9L950 657.4L951.43 655.9L952.86 654.4L954.29 652.8L955.71 651.1L957.14 649.4L958.57 647.6L960 645.8L961.43 643.9L962.86 641.9L964.29 639.9L965.71 637.9L967.14 635.8L968.57 633.7L970 631.6L971.43 629.4L972.86 627.2L974.29 624.9L975.71 622.6L977.14 620.2L978.57 617.9L980 615.4L981.43 613L982.86 610.5L984.29 607.9L985.71 605.3L987.14 602.7L988.57 600L990 597.3L991.43 594.6L992.86 591.8L994.29 589L995.71 586.2L997.14 583.4L998.57 580.6L1000 577.8L1001.43 575L1002.86 572.3L1004.29 569.5L1005.71 566.8L1007.14 564.1L1008.57 561.3L1010 558.5L1011.43 555.8L1012.86 553L1014.29 550.3L1015.71 547.6L1017.14 545L1018.57 542.4L1020 539.9L1021.43 537.6L1022.86 535.3L1024.29 533.2L1025.71 531.2L1027.14 529.4L1028.57 527.7L1030 526L1031.43 524.4L1032.86 522.9L1034.29 521.4L1035.71 520.1L1037.14 518.8L1038.57 517.6L1040 516.5L1041.43 515.5L1042.86 514.6L1044.29 513.8L1045.71 513.2L1047.14 512.7L1048.57 512.3L1050 512.1L1051.43 512L1052.86 512L1054.29 512.1L1055.71 512.4L1057.14 512.7L1058.57 513.2L1060 513.7L1061.43 514.3L1062.86 515L1064.29 515.8L1065.71 516.6L1067.14 517.5L1068.57 518.6L1070 519.9L1071.43 521.4L1072.86 523.2L1074.29 525L1075.71 527L1077.14 529.1L1078.57 531.3L1080 533.6L1081.43 535.9L1082.86 538.2L1084.29 540.6L1085.71 543.1L1087.14 545.7L1088.57 548.5L1090 551.4L1091.43 554.4L1092.86 557.5L1094.29 560.6L1095.71 563.7L1097.14 566.8L1098.57 569.9L1100 573L1101.43 576L1102.86 579L1104.29 582.1L1105.71 585.3L1107.14 588.5L1108.57 591.8L1110 595L1111.43 598.1L1112.86 601.2L1114.29 604.2L1115.71 607L1117.14 609.6L1118.57 612L1120 614.2L1121.43 616.3L1122.86 618.4L1124.29 620.5L1125.71 622.6L1127.14 624.7L1128.57 626.7L1130 628.8L1131.43 631L1132.86 633.1L1134.29 635.2L1135.71 637.4L1137.14 639.5L1138.57 641.7L1140 643.8L1141.43 645.8L1142.86 647.8L1144.29 649.8L1145.71 651.7L1147.14 653.6L1148.57 655.5L1150 657.2L1151.43 659L1152.86 660.7L1154.29 662.3L1155.71 663.8L1157.14 665.3L1158.57 666.8L1160 668.2L1161.43 669.5L1162.86 670.8L1164.29 672L1165.71 673.2L1167.14 674.4L1168.57 675.7L1170 677.1L1171.43 678.5L1172.86 679.8L1174.29 681L1175.71 682L1177.14 682.8L1178.57 683.5L1180 684.1L1181.43 684.6L1182.86 685.1L1184.29 685.6L1185.71 686L1187.14 686.3L1188.57 686.7L1190 687L1191.43 687.3L1192.86 687.7L1194.29 688L1195.71 688.3L1197.14 688.7L1198.57 689L1200 689.3L1201.43 689.6L1202.86 689.9L1204.29 690.1L1205.71 690.3L1207.14 690.6L1208.57 690.8L1210 691L1211.43 691.3L1212.86 691.5L1214.29 691.8L1215.71 692L1217.14 692.1L1218.57 692.3L1220 692.3L1221.43 692.4" fill="none" stroke="#6c6c6c" stroke-width="2.8" stroke-dasharray="0.1 10" stroke-linecap="round"/>
<path d="M1017.14 690.3L1018.57 690.1L1020 690L1021.43 689.8L1022.86 689.6L1024.29 689.4L1025.71 689.2L1027.14 689L1028.57 688.8L1030 688.6L1031.43 688.3L1032.86 688.1L1034.29 687.8L1035.71 687.5L1037.14 687.2L1038.57 686.9L1040 686.6L1041.43 686.3L1042.86 685.9L1044.29 685.5L1045.71 685.2L1047.14 684.8L1048.57 684.4L1050 684L1051.43 683.6L1052.86 683.1L1054.29 682.7L1055.71 682.2L1057.14 681.8L1058.57 681.3L1060 680.8L1061.43 680.4L1062.86 679.9L1064.29 679.3L1065.71 678.8L1067.14 678.3L1068.57 677.8L1070 677.3L1071.43 676.8L1072.86 676.3L1074.29 675.8L1075.71 675.4L1077.14 674.9L1078.57 674.5L1080 674L1081.43 673.6L1082.86 673.2L1084.29 672.7L1085.71 672.3L1087.14 672L1088.57 671.6L1090 671.3L1091.43 671.1L1092.86 670.8L1094.29 670.6L1095.71 670.4L1097.14 670.3L1098.57 670.1L1100 670L1101.43 669.8L1102.86 669.7L1104.29 669.7L1105.71 669.7L1107.14 669.7L1108.57 669.8L1110 669.9L1111.43 670L1112.86 670.2L1114.29 670.3L1115.71 670.5L1117.14 670.6L1118.57 670.7L1120 670.7L1121.43 670.8L1122.86 670.9L1124.29 671L1125.71 671.1L1127.14 671.3L1128.57 671.5L1130 671.7L1131.43 672L1132.86 672.3L1134.29 672.7L1135.71 673.1L1137.14 673.5L1138.57 674L1140 674.4L1141.43 674.9L1142.86 675.5L1144.29 676L1145.71 676.5L1147.14 677L1148.57 677.5L1150 678.1L1151.43 678.6L1152.86 679.2L1154.29 679.8L1155.71 680.3L1157.14 680.9L1158.57 681.4L1160 682L1161.43 682.5L1162.86 683L1164.29 683.5L1165.71 684.1L1167.14 684.6L1168.57 685.3L1170 686L1171.43 686.7L1172.86 687.3L1174.29 687.9L1175.71 688.5L1177.14 688.9L1178.57 689.3L1180 689.6L1181.43 689.9L1182.86 690.2L1184.29 690.4L1185.71 690.7L1187.14 690.9L1188.57 691.1L1190 691.3L1191.43 691.5L1192.86 691.7L1194.29 692L1195.71 692.2L1197.14 692.4L1198.57 692.6L1200 692.8L1201.43 693L1202.86 693.2L1204.29 693.4L1205.71 693.6L1207.14 693.7" fill="none" stroke="#6c6c6c" stroke-width="2.8" stroke-dasharray="0.1 10" stroke-linecap="round"/>
<path d="M1117.14 693.1L1118.57 692.7L1120 692.2L1121.43 691.5L1122.86 690.8L1124.29 690L1125.71 689.1L1127.14 688.1L1128.57 687L1130 685.8L1131.43 684.4L1132.86 683L1134.29 681.4L1135.71 679.7L1137.14 678L1138.57 676.2L1140 674.3L1141.43 672.4L1142.86 670.4L1144.29 668.4L1145.71 666.4L1147.14 664.4L1148.57 662.5L1150 660.7L1151.43 658.9L1152.86 657.3L1154.29 655.8L1155.71 654.5L1157.14 653.4L1158.57 652.4L1160 651.7L1161.43 651.1L1162.86 650.8L1164.29 650.7L1165.71 650.9L1167.14 651.5L1168.57 652.7L1170 654.4L1171.43 656.3L1172.86 658.5L1174.29 660.5L1175.71 662.4L1177.14 664.1L1178.57 665.7L1180 667.2L1181.43 668.7L1182.86 670.2L1184.29 671.7L1185.71 673.1L1187.14 674.6L1188.57 676L1190 677.4L1191.43 678.9L1192.86 680.3L1194.29 681.7L1195.71 683.1L1197.14 684.5L1198.57 685.7L1200 686.9L1201.43 688L1202.86 689L1204.29 689.9L1205.71 690.7L1207.14 691.4L1208.57 692.1L1210 692.7L1211.43 693.3L1212.86 693.8" fill="none" stroke="#6c6c6c" stroke-width="2.8" stroke-dasharray="0.1 10" stroke-linecap="round"/>
<path d="M327.86 687.2L332.14 687.9L336.43 688.2L340.71 688.1L345 688.7L349.29 687.1L353.57 686.2L357.86 685.9L362.14 686.5L366.43 687.9L370.71 687.7L375 687.5L379.29 686.1L383.57 686.4L387.86 686.6L392.14 688L396.43 688.7L400.71 688.3L405 687.6L409.29 687.6L413.57 688L417.86 687.3L422.14 686.7L426.43 686.9L430.71 686.7L435 686.5L439.29 686.7L443.57 686.5L447.86 687.4L452.14 686.4L456.43 687L460.71 687.1L465 686.5L469.29 686L473.57 686.4L477.86 687L482.14 687.2L486.43 686.9L490.71 687L495 688.6L499.29 688.4L503.57 687L507.86 687.6L512.14 687.6L516.43 687.5L520.74 687.7L525 686.8L529.18 684.8L533.47 684.8L537.84 685.8L542.09 685.1L546.38 684.7L550.73 684.8L554.87 683.1L559.19 682.6L563.61 682.5L567.79 681.1L571.96 679.5L576.13 677.9L580.48 676.7L584.27 673.8L587.93 670.7L592.03 668.8L595.75 665.9L599.36 662.6L603.39 660.6L607.74 659.3L611.89 657.4L615.2 653.7L618.35 649.8L622.24 647.1L626.04 644.1L629.54 640.6L633.31 637.5L637.24 634.8L640.62 631.2L644.12 627.8L647.39 624L651.01 620.6L655.45 619.6L659.83 619.4L664.07 618.5L668.27 617.6L672.5 617.1L676.73 617.1L681.07 615.5L685.44 615.6L689.53 617.8L693.63 619.5L698.09 619.3L702.1 621.5L706.14 623.4L710.3 625.1L714.03 628L717.74 631L722.14 632.1L726.02 634.5L730 636.7L734.38 637.3L738.54 638.8L742.94 639.1L747.06 640.7L750.94 643.4L755.17 644.4L759.4 645.3L763.59 646.5L767.8 647.5L771.98 649L776.28 649.3L780.6 649.1L784.87 649.7L789.13 651.3L793.44 650.4L797.73 650L802.03 648.9L806.3 650.1L810.59 651L814.91 651.2L819.21 650.1L823.27 647.9L827.61 647.5L831.96 646.8L835.77 643.9L839.52 641L843.89 640.1L848.1 638.8L852.66 638.5L856.48 635.8L860.07 632.4L864.16 630.5L867.76 627.4L871.5 624.7L876.08 623.4L879.65 620L882.59 615.7L885.67 611.6L889.48 608.5L893.26 605.3L896.5 601.4L899.61 597.4L903.18 594L906.86 590.8L910.05 586.9L913.74 583.7L916.68 579.4L919.91 575.5L923.96 572.9L927.82 570.1L931.2 566.5L935.13 563.8L939.37 561.9L943.11 559L946.74 555.9L950.7 553.5L954.55 550.9L957.96 547.3L961.83 544.7L966.27 543.6L969.9 540.4L973.8 538L977.86 536L981.6 533.2L985.32 530.3L989.38 528.1L993.37 525.7L997.09 522.7L1000.21 518.6L1003.85 515.4L1007.91 513L1011.76 510.1L1015.28 506.6L1018.77 503.2L1022.47 500.2L1026.19 497.5L1029.76 494.3L1033.76 492.2L1037.82 490.2L1041.75 487.3L1046.19 486.1L1050.58 489.1L1054.84 489.4L1059.54 488.6L1063.56 491L1066.89 495L1070.6 497.7L1074.13 501.1L1077.39 505.1L1080.48 509.3L1082.93 514.1L1085.66 518.7L1088.69 523L1091.06 528L1093.21 533.1L1095.95 537.9L1098.44 542.8L1100.75 547.8L1103.49 552.5L1105.45 557.8L1107.76 562.9L1110.45 567.7L1113.23 572.4L1115.86 577.1L1117.66 582.5L1121.21 586L1124.8 589.3L1128.41 592.5L1132.15 595.4L1135.95 598.2L1140.28 599.3L1144.49 600.5L1148.55 602.3L1152.63 604.1L1156.63 606.2L1160.48 609L1163.68 612.9L1166.26 617.5L1168.67 622.3L1171.11 627.4L1172.9 632.8L1174.76 638.2L1177.07 643.3L1179.16 648.5L1182.33 652.7L1185.64 656.7L1188.9 660.7L1191.94 665L1194.93 669.2L1197.36 674.2L1200.57 678.2L1204.64 680.8L1207.83 684.8L1212.11 686.6L1216.11 688.7L1220.1 691.1L1224.42 691.8L1228.77 691.7L1233.07 692L1237.34 692.5L1241.57 693.6L1245.94 692.3L1250.23 692.4L1254.43 694.1L1258.72 694.3L1263.06 693.3L1267.31 694.1L1271.57 694.7L1275.83 695.8L1280.1 697.1L1284.4 696.4L1288.69 694.4L1292.98 694.7L1297.26 695L1301.55 695.8L1305.83 697.3L1310.12 696.8L1314.4 697.4L1318.69 697.9L1322.97 697.1L1327.26 695.6L1331.55 695.6L1335.83 695L1340.12 696.1L1344.4 696.6L1348.69 697.1L1352.97 696.9L1357.26 694.8L1361.55 695.6L1365.83 697.1L1370.12 697.7L1374.4 696.2L1378.69 695L1382.98 695.7L1387.26 695.4L1391.55 694.6L1395.83 694.7L1400.12 697.5L1404.4 696.9L1408.69 695.1L1412.98 695.3L1417.26 695.9L1421.55 697L1425.83 697.4L1430.12 697.1L1434.4 696.5L1438.69 696.3L1442.98 695.7L1447.26 694.7L1451.55 696.9L1455.83 696.8L1460.12 696.6L1464.4 696.4L1468.69 695.9L1472.98 696" fill="none" stroke="#e00000" stroke-width="2.4" stroke-linejoin="round" />
<path d="M327.86 687.2L329.29 687.2L330.71 687.2L332.14 687.2L333.57 687.2L335 687.2L336.43 687.2L337.86 687.2L339.29 687.2L340.71 687.2L342.14 687.2L343.57 687.2L345 687.2L346.43 687.2L347.86 687.2L349.29 687.2L350.71 687.2L352.14 687.2L353.57 687.2L355 687.2L356.43 687.2L357.86 687.2L359.29 687.2L360.71 687.2L362.14 687.2L363.57 687.2L365 687.2L366.43 687.2L367.86 687.2L369.29 687.2L370.71 687.2L372.14 687.2L373.57 687.2L375 687.2L376.43 687.2L377.86 687.2L379.29 687.2L380.71 687.2L382.14 687.2L383.57 687.2L385 687.2L386.43 687.2L387.86 687.2L389.29 687.2L390.71 687.2L392.14 687.2L393.57 687.2L395 687.2L396.43 687.2L397.86 687.2L399.29 687.2L400.71 687.2L402.14 687.2L403.57 687.2L405 687.2L406.43 687.2L407.86 687.2L409.29 687.2L410.71 687.2L412.14 687.2L413.57 687.2L415 687.2L416.43 687.2L417.86 687.2L419.29 687.2L420.71 687.2L422.14 687.2L423.57 687.2L425 687.2L426.43 687.2L427.86 687.2L429.29 687.2L430.71 687.2L432.14 687.2L433.57 687.2L435 687.2L436.43 687.2L437.86 687.2L439.29 687.2L440.71 687.2L442.14 687.2L443.57 687.2L445 687.2L446.43 687.2L447.86 687.2L449.29 687.2L450.71 687.2L452.14 687.2L453.57 687.2L455 687.2L456.43 687.2L457.86 687.2L459.29 687.2L460.71 687.2L462.14 687.2L463.57 687.2L465 687.2L466.43 687.2L467.86 687.2L469.29 687.2L470.71 687.2L472.14 687.2L473.57 687.2L475 687.2L476.43 687.2L477.86 687.2L479.29 687.2L480.71 687.2L482.14 687.2L483.57 687.2L485 687.2L486.43 687.2L487.86 687.2L489.29 687.2L490.71 687.2L492.14 687.2L493.57 687.2L495 687.2L496.43 687.2L497.86 687.2L499.29 687.2L500.71 687.2L502.14 687.2L503.57 687.2L505 687.2L506.43 687.2L507.86 687.2L509.29 687.2L510.71 687.2L512.14 687.2L513.57 687.2L515 687.2L516.43 687.2L517.86 687.1L519.29 687.1L520.71 687L522.14 686.9L523.57 686.9L525 686.8L526.43 686.7L527.86 686.5L529.29 686.4L530.71 686.3L532.14 686.2L533.57 686L535 685.9L536.43 685.7L537.86 685.6L539.29 685.4L540.71 685.2L542.14 685.1L543.57 684.9L545 684.7L546.43 684.5L547.86 684.3L549.29 684.1L550.71 683.8L552.14 683.6L553.57 683.3L555 683L556.43 682.6L557.86 682.3L559.29 681.9L560.71 681.6L562.14 681.2L563.57 680.8L565 680.3L566.43 679.9L567.86 679.5L569.29 679L570.71 678.6L572.14 678.1L573.57 677.5L575 677L576.43 676.4L577.86 675.7L579.29 675.1L580.71 674.4L582.14 673.7L583.57 672.9L585 672.2L586.43 671.4L587.86 670.7L589.29 669.9L590.71 669.1L592.14 668.3L593.57 667.5L595 666.7L596.43 665.9L597.86 665.1L599.29 664.3L600.71 663.5L602.14 662.7L603.57 661.9L605 661.1L606.43 660.3L607.86 659.4L609.29 658.6L610.71 657.7L612.14 656.7L613.57 655.8L615 654.7L616.43 653.7L617.86 652.5L619.29 651.3L620.71 649.9L622.14 648.5L623.57 647L625 645.5L626.43 644L627.86 642.4L629.29 641L630.71 639.5L632.14 638.1L633.57 636.8L635 635.6L636.43 634.3L637.86 632.9L639.29 631.6L640.71 630.3L642.14 629L643.57 627.7L645 626.4L646.43 625.2L647.86 624.1L649.29 623.1L650.71 622.2L652.14 621.4L653.57 620.7L655 620.2L656.43 619.7L657.86 619.3L659.29 618.9L660.71 618.5L662.14 618.2L663.57 617.8L665 617.5L666.43 617.2L667.86 616.9L669.29 616.7L670.71 616.5L672.14 616.3L673.57 616.2L675 616.1L676.43 616.1L677.86 616.1L679.29 616.2L680.71 616.3L682.14 616.5L683.57 616.7L685 616.9L686.43 617.1L687.86 617.4L689.29 617.8L690.71 618.1L692.14 618.5L693.57 618.8L695 619.2L696.43 619.6L697.86 620.1L699.29 620.5L700.71 620.9L702.14 621.4L703.57 621.9L705 622.5L706.43 623.3L707.86 624.1L709.29 624.9L710.71 625.8L712.14 626.7L713.57 627.6L715 628.6L716.43 629.5L717.86 630.4L719.29 631.2L720.71 632L722.14 632.8L723.57 633.4L725 634.1L726.43 634.7L727.86 635.3L729.29 635.9L730.71 636.4L732.14 637L733.57 637.5L735 638.1L736.43 638.6L737.86 639.1L739.29 639.6L740.71 640.1L742.14 640.6L743.57 641.1L745 641.6L746.43 642.1L747.86 642.5L749.29 643L750.71 643.5L752.14 643.9L753.57 644.4L755 644.8L756.43 645.2L757.86 645.5L759.29 645.9L760.71 646.2L762.14 646.5L763.57 646.8L765 647L766.43 647.3L767.86 647.6L769.29 647.8L770.71 648.1L772.14 648.3L773.57 648.5L775 648.7L776.43 648.9L777.86 649L779.29 649.2L780.71 649.3L782.14 649.4L783.57 649.4L785 649.5L786.43 649.5L787.86 649.5L789.29 649.6L790.71 649.6L792.14 649.6L793.57 649.7L795 649.7L796.43 649.7L797.86 649.8L799.29 649.8L800.71 649.8L802.14 649.8L803.57 649.8L805 649.9L806.43 649.9L807.86 649.9L809.29 649.9L810.71 649.9L812.14 649.9L813.57 649.9L815 649.9L816.43 649.8L817.86 649.7L819.29 649.5L820.71 649.2L822.14 648.9L823.57 648.6L825 648.2L826.43 647.8L827.86 647.3L829.29 646.8L830.71 646.3L832.14 645.7L833.57 645.1L835 644.5L836.43 643.9L837.86 643.3L839.29 642.6L840.71 642L842.14 641.3L843.57 640.7L845 640L846.43 639.4L847.86 638.8L849.29 638.2L850.71 637.5L852.14 636.9L853.57 636.3L855 635.6L856.43 635L857.86 634.3L859.29 633.5L860.71 632.8L862.14 632L863.57 631.2L865 630.4L866.43 629.5L867.86 628.6L869.29 627.7L870.71 626.7L872.14 625.7L873.57 624.6L875 623.5L876.43 622.2L877.86 620.9L879.29 619.6L880.71 618.1L882.14 616.7L883.57 615.2L885 613.7L886.43 612.1L887.86 610.5L889.29 608.9L890.71 607.3L892.14 605.7L893.57 604.1L895 602.5L896.43 601L897.86 599.4L899.29 597.9L900.71 596.4L902.14 595L903.57 593.6L905 592.2L906.43 590.8L907.86 589.4L909.29 588L910.71 586.6L912.14 585.2L913.57 583.8L915 582.4L916.43 581L917.86 579.6L919.29 578.2L920.71 576.9L922.14 575.5L923.57 574.2L925 572.9L926.43 571.6L927.86 570.3L929.29 569.1L930.71 567.8L932.14 566.6L933.57 565.4L935 564.3L936.43 563.2L937.86 562L939.29 561L940.71 559.9L942.14 558.8L943.57 557.8L945 556.7L946.43 555.7L947.86 554.7L949.29 553.7L950.71 552.7L952.14 551.8L953.57 550.8L955 549.9L956.43 548.9L957.86 548L959.29 547.1L960.71 546.1L962.14 545.2L963.57 544.3L965 543.4L966.43 542.6L967.86 541.8L969.29 541L970.71 540.2L972.14 539.4L973.57 538.6L975 537.8L976.43 537L977.86 536.2L979.29 535.4L980.71 534.6L982.14 533.7L983.57 532.8L985 531.8L986.43 530.8L987.86 529.8L989.29 528.7L990.71 527.5L992.14 526.4L993.57 525.2L995 524L996.43 522.8L997.86 521.6L999.29 520.4L1000.71 519.1L1002.14 517.9L1003.57 516.7L1005 515.4L1006.43 514.2L1007.86 512.9L1009.29 511.6L1010.71 510.2L1012.14 508.7L1013.57 507.3L1015 505.9L1016.43 504.4L1017.86 503L1019.29 501.7L1020.71 500.4L1022.14 499.2L1023.57 498.1L1025 497.1L1026.43 496.2L1027.86 495.5L1029.29 494.8L1030.71 494L1032.14 493.3L1033.57 492.6L1035 491.9L1036.43 491.3L1037.86 490.7L1039.29 490.2L1040.71 489.7L1042.14 489.2L1043.57 488.9L1045 488.6L1046.43 488.4L1047.86 488.3L1049.29 488.3L1050.71 488.4L1052.14 488.6L1053.57 488.9L1055 489.2L1056.43 489.6L1057.86 490.1L1059.29 490.7L1060.71 491.2L1062.14 491.8L1063.57 492.5L1065 493.2L1066.43 493.9L1067.86 494.7L1069.29 495.8L1070.71 497.1L1072.14 498.5L1073.57 500.1L1075 501.9L1076.43 503.8L1077.86 505.7L1079.29 507.8L1080.71 509.8L1082.14 512L1083.57 514.1L1085 516.2L1086.43 518.6L1087.86 521.1L1089.29 523.8L1090.71 526.6L1092.14 529.5L1093.57 532.4L1095 535.4L1096.43 538.5L1097.86 541.5L1099.29 544.5L1100.71 547.4L1102.14 550.2L1103.57 553.1L1105 556.2L1106.43 559.4L1107.86 562.6L1109.29 565.8L1110.71 568.9L1112.14 572L1113.57 574.9L1115 577.6L1116.43 580L1117.86 582.2L1119.29 584.1L1120.71 585.6L1122.14 587.1L1123.57 588.5L1125 589.8L1126.43 591L1127.86 592.2L1129.29 593.2L1130.71 594.3L1132.14 595.2L1133.57 596.1L1135 596.9L1136.43 597.7L1137.86 598.5L1139.29 599.2L1140.71 599.7L1142.14 600.3L1143.57 600.8L1145 601.2L1146.43 601.7L1147.86 602.1L1149.29 602.6L1150.71 603.2L1152.14 603.8L1153.57 604.4L1155 605.2L1156.43 606.1L1157.86 607.1L1159.29 608.2L1160.71 609.4L1162.14 610.8L1163.57 612.4L1165 614.2L1166.43 616.2L1167.86 619.1L1169.29 622.6L1170.71 626.6L1172.14 630.7L1173.57 634.8L1175 638.5L1176.43 641.6L1177.86 644.3L1179.29 646.9L1180.71 649.3L1182.14 651.6L1183.57 653.8L1185 655.9L1186.43 658L1187.86 660L1189.29 662L1190.71 664L1192.14 666L1193.57 668L1195 670L1196.43 671.9L1197.86 673.8L1199.29 675.6L1200.71 677.3L1202.14 678.8L1203.57 680.2L1205 681.4L1206.43 682.6L1207.86 683.7L1209.29 684.7L1210.71 685.7L1212.14 686.6L1213.57 687.5L1215 688.2L1216.43 688.9L1217.86 689.4L1219.29 689.8L1220.71 690.1L1222.14 690.4L1223.57 690.7L1225 691L1226.43 691.3L1227.86 691.5L1229.29 691.7L1230.71 691.9L1232.14 692.1L1233.57 692.3L1235 692.5L1236.43 692.7L1237.86 692.8L1239.29 693L1240.71 693.1L1242.14 693.3L1243.57 693.4L1245 693.5L1246.43 693.6L1247.86 693.7L1249.29 693.9L1250.71 694L1252.14 694.1L1253.57 694.2L1255 694.3L1256.43 694.4L1257.86 694.5L1259.29 694.6L1260.71 694.7L1262.14 694.8L1263.57 694.9L1265 695L1266.43 695.1L1267.86 695.2L1269.29 695.3L1270.71 695.4L1272.14 695.4L1273.57 695.5L1275 695.5L1276.43 695.6L1277.86 695.6L1279.29 695.7L1280.71 695.7L1282.14 695.7L1283.57 695.7L1285 695.7L1286.43 695.7L1287.86 695.7L1289.29 695.7L1290.71 695.7L1292.14 695.7L1293.57 695.7L1295 695.7L1296.43 695.8L1297.86 695.8L1299.29 695.8L1300.71 695.8L1302.14 695.8L1303.57 695.8L1305 695.8L1306.43 695.8L1307.86 695.8L1309.29 695.8L1310.71 695.8L1312.14 695.8L1313.57 695.8L1315 695.8L1316.43 695.8L1317.86 695.8L1319.29 695.8L1320.71 695.8L1322.14 695.8L1323.57 695.8L1325 695.8L1326.43 695.8L1327.86 695.8L1329.29 695.8L1330.71 695.9L1332.14 695.9L1333.57 695.9L1335 695.9L1336.43 695.9L1337.86 695.9L1339.29 695.9L1340.71 695.9L1342.14 695.9L1343.57 695.9L1345 695.9L1346.43 695.9L1347.86 695.9L1349.29 695.9L1350.71 695.9L1352.14 695.9L1353.57 695.9L1355 695.9L1356.43 695.9L1357.86 695.9L1359.29 695.9L1360.71 695.9L1362.14 695.9L1363.57 695.9L1365 695.9L1366.43 695.9L1367.86 695.9L1369.29 695.9L1370.71 695.9L1372.14 695.9L1373.57 695.9L1375 695.9L1376.43 695.9L1377.86 695.9L1379.29 695.9L1380.71 695.9L1382.14 695.9L1383.57 696L1385 696L1386.43 696L1387.86 696L1389.29 696L1390.71 696L1392.14 696L1393.57 696L1395 696L1396.43 696L1397.86 696L1399.29 696L1400.71 696L1402.14 696L1403.57 696L1405 696L1406.43 696L1407.86 696L1409.29 696L1410.71 696L1412.14 696L1413.57 696L1415 696L1416.43 696L1417.86 696L1419.29 696L1420.71 696L1422.14 696L1423.57 696L1425 696L1426.43 696L1427.86 696L1429.29 696L1430.71 696L1432.14 696L1433.57 696L1435 696L1436.43 696L1437.86 696L1439.29 696L1440.71 696L1442.14 696L1443.57 696L1445 696L1446.43 696L1447.86 696L1449.29 696L1450.71 696L1452.14 696L1453.57 696L1455 696L1456.43 696L1457.86 696L1459.29 696L1460.71 696L1462.14 696L1463.57 696L1465 696L1466.43 696L1467.86 696L1469.29 696L1470.71 696L1472.14 696L1473.57 696" fill="none" stroke="#ff4612" stroke-width="2.4" stroke-linejoin="round" />
<path d="M521.43 1108.5L857.14 1113.5L1000 1116L1105.71 1121.6L1176.43 1128L1228.57 1131L1285.71 1132.5" fill="none" stroke="#62a0a8" stroke-width="2.4" stroke-dasharray="16.4 4.3"/>
<path d="M594.29 1075.2L595.71 1073.4L597.14 1071.5L598.57 1069.6L600 1067.8L601.43 1065.8L602.86 1063.8L604.29 1061.7L605.71 1059.6L607.14 1057.4L608.57 1055.2L610 1053L611.43 1050.7L612.86 1048.3L614.29 1046L615.71 1043.6L617.14 1041.2L618.57 1038.8L620 1036.3L621.43 1033.9L622.86 1031.4L624.29 1029L625.71 1026.6L627.14 1024.1L628.57 1021.6L630 1019L631.43 1016.2L632.86 1013.5L634.29 1010.6L635.71 1007.8L637.14 1005L638.57 1002.2L640 999.5L641.43 996.9L642.86 994.4L644.29 992.1L645.71 989.9L647.14 987.9L648.57 986L650 984.1L651.43 982.2L652.86 980.3L654.29 978.5L655.71 976.8L657.14 975.3L658.57 973.9L660 972.7L661.43 971.8L662.86 971.2L664.29 970.8L665.71 970.5L667.14 970.3L668.57 970L670 969.8L671.43 969.7L672.86 969.6L674.29 969.5L675.71 969.5L677.14 969.7L678.57 970L680 970.5L681.43 971.1L682.86 971.9L684.29 972.8L685.71 973.8L687.14 974.9L688.57 976.1L690 977.4L691.43 978.7L692.86 980L694.29 981.4L695.71 982.8L697.14 984.3L698.57 986L700 987.9L701.43 990.1L702.86 992.4L704.29 994.8L705.71 997.3L707.14 999.9L708.57 1002.6L710 1005.2L711.43 1007.8L712.86 1010.3L714.29 1013L715.71 1015.7L717.14 1018.5L718.57 1021.4L720 1024.3L721.43 1027.2L722.86 1030.1L724.29 1033L725.71 1035.8L727.14 1038.5L728.57 1041.1L730 1043.7L731.43 1046.4L732.86 1049L734.29 1051.6L735.71 1054.2L737.14 1056.8L738.57 1059.3L740 1061.8L741.43 1064.1L742.86 1066.5L744.29 1068.7L745.71 1070.8L747.14 1072.8L748.57 1074.6L750 1076.4L751.43 1078.1L752.86 1079.8L754.29 1081.5L755.71 1083.1L757.14 1084.7L758.57 1086.2L760 1087.7L761.43 1089.1L762.86 1090.4L764.29 1091.7L765.71 1092.9L767.14 1094L768.57 1095.1L770 1096.1L771.43 1097.1L772.86 1098.1L774.29 1099.1L775.71 1100L777.14 1100.9L778.57 1101.8L780 1102.6L781.43 1103.4L782.86 1104.1L784.29 1104.7L785.71 1105.3L787.14 1105.9L788.57 1106.4L790 1106.8L791.43 1107.3L792.86 1107.6L794.29 1108L795.71 1108.4L797.14 1108.7L798.57 1109L800 1109.3L801.43 1109.5L802.86 1109.8L804.29 1110.1" fill="none" stroke="#6c6c6c" stroke-width="2.8" stroke-dasharray="0.1 10" stroke-linecap="round"/>
<path d="M745.71 1109.3L747.14 1109.3L748.57 1109.2L750 1109.1L751.43 1109L752.86 1108.9L754.29 1108.8L755.71 1108.7L757.14 1108.6L758.57 1108.5L760 1108.4L761.43 1108.3L762.86 1108.1L764.29 1108L765.71 1107.8L767.14 1107.7L768.57 1107.5L770 1107.3L771.43 1107.1L772.86 1106.9L774.29 1106.7L775.71 1106.5L777.14 1106.3L778.57 1106.1L780 1105.9L781.43 1105.6L782.86 1105.4L784.29 1105.2L785.71 1104.9L787.14 1104.6L788.57 1104.3L790 1103.9L791.43 1103.5L792.86 1103L794.29 1102.5L795.71 1102L797.14 1101.5L798.57 1101L800 1100.4L801.43 1099.8L802.86 1099.2L804.29 1098.6L805.71 1098L807.14 1097.3L808.57 1096.7L810 1096.1L811.43 1095.3L812.86 1094.5L814.29 1093.5L815.71 1092.4L817.14 1091.3L818.57 1090.1L820 1088.8L821.43 1087.6L822.86 1086.3L824.29 1085L825.71 1083.8L827.14 1082.6L828.57 1081.5L830 1080.5L831.43 1079.5L832.86 1078.5L834.29 1077.5L835.71 1076.6L837.14 1075.6L838.57 1074.7L840 1073.8L841.43 1072.9L842.86 1072.1L844.29 1071.3L845.71 1070.6L847.14 1069.9L848.57 1069.2L850 1068.6L851.43 1068.1L852.86 1067.6L854.29 1067.2L855.71 1066.7L857.14 1066.3L858.57 1066L860 1065.6L861.43 1065.3L862.86 1065L864.29 1064.7L865.71 1064.5L867.14 1064.3L868.57 1064L870 1063.8L871.43 1063.6L872.86 1063.5L874.29 1063.3L875.71 1063.2L877.14 1063.1L878.57 1063L880 1063L881.43 1063L882.86 1063L884.29 1063L885.71 1063.1L887.14 1063.3L888.57 1063.4L890 1063.6L891.43 1063.9L892.86 1064.2L894.29 1064.5L895.71 1065L897.14 1065.4L898.57 1065.9L900 1066.5L901.43 1067.1L902.86 1067.8L904.29 1068.5L905.71 1069.3L907.14 1070.1L908.57 1071L910 1071.9L911.43 1072.9L912.86 1073.8L914.29 1074.9L915.71 1075.9L917.14 1077L918.57 1078.1L920 1079.2L921.43 1080.3L922.86 1081.4L924.29 1082.6L925.71 1083.7L927.14 1084.9L928.57 1086L930 1087.1L931.43 1088.2L932.86 1089.2L934.29 1090.2L935.71 1091.2L937.14 1092.1L938.57 1093L940 1093.9L941.43 1094.8L942.86 1095.7L944.29 1096.5L945.71 1097.4L947.14 1098.2L948.57 1099L950 1099.7L951.43 1100.4L952.86 1101L954.29 1101.7L955.71 1102.3L957.14 1102.9L958.57 1103.5L960 1104L961.43 1104.5L962.86 1105L964.29 1105.5L965.71 1106L967.14 1106.4L968.57 1106.8L970 1107.2L971.43 1107.6L972.86 1107.9L974.29 1108.3L975.71 1108.6L977.14 1108.9L978.57 1109.3L980 1109.6L981.43 1109.8L982.86 1110.1L984.29 1110.4L985.71 1110.7L987.14 1110.9L988.57 1111.1L990 1111.4L991.43 1111.6L992.86 1111.8L994.29 1112L995.71 1112.2L997.14 1112.3L998.57 1112.5L1000 1112.7L1001.43 1112.9L1002.86 1113L1004.29 1113.2L1005.71 1113.4L1007.14 1113.6L1008.57 1113.8L1010 1113.9L1011.43 1114.1" fill="none" stroke="#6c6c6c" stroke-width="2.8" stroke-dasharray="0.1 10" stroke-linecap="round"/>
<path d="M844.29 1110.8L845.71 1110.8L847.14 1110.7L848.57 1110.7L850 1110.7L851.43 1110.6L852.86 1110.6L854.29 1110.5L855.71 1110.5L857.14 1110.4L858.57 1110.4L860 1110.3L861.43 1110.2L862.86 1110.1L864.29 1110L865.71 1109.9L867.14 1109.8L868.57 1109.7L870 1109.5L871.43 1109.4L872.86 1109.2L874.29 1109L875.71 1108.8L877.14 1108.6L878.57 1108.4L880 1108.1L881.43 1107.8L882.86 1107.5L884.29 1107.2L885.71 1106.8L887.14 1106.4L888.57 1106L890 1105.5L891.43 1105.1L892.86 1104.5L894.29 1104L895.71 1103.4L897.14 1102.7L898.57 1102.1L900 1101.4L901.43 1100.6L902.86 1099.8L904.29 1099L905.71 1098.1L907.14 1097.1L908.57 1096.2L910 1095.1L911.43 1094.1L912.86 1092.9L914.29 1091.8L915.71 1090.6L917.14 1089.3L918.57 1088L920 1086.7L921.43 1085.3L922.86 1083.9L924.29 1082.4L925.71 1080.9L927.14 1079.3L928.57 1077.8L930 1076.1L931.43 1074.4L932.86 1072.5L934.29 1070.6L935.71 1068.6L937.14 1066.6L938.57 1064.5L940 1062.3L941.43 1060L942.86 1057.8L944.29 1055.5L945.71 1053.2L947.14 1050.8L948.57 1048.3L950 1045.7L951.43 1043L952.86 1040.3L954.29 1037.4L955.71 1034.4L957.14 1031.4L958.57 1028.3L960 1025.2L961.43 1022L962.86 1018.8L964.29 1015.6L965.71 1012.2L967.14 1008.6L968.57 1004.9L970 1001.1L971.43 997.2L972.86 993.2L974.29 989.2L975.71 985.3L977.14 981.4L978.57 977.5L980 973.8L981.43 970.3L982.86 966.8L984.29 963.4L985.71 960L987.14 956.6L988.57 953.3L990 950.1L991.43 946.9L992.86 943.8L994.29 940.8L995.71 937.8L997.14 935L998.57 932.2L1000 929.6L1001.43 926.9L1002.86 924.4L1004.29 921.8L1005.71 919.4L1007.14 917.1L1008.57 914.9L1010 912.8L1011.43 911L1012.86 909.3L1014.29 907.9L1015.71 906.4L1017.14 904.9L1018.57 903.5L1020 902.2L1021.43 901.1L1022.86 900.3L1024.29 899.7L1025.71 899.5L1027.14 899.7L1028.57 900.2L1030 900.9L1031.43 901.5L1032.86 902.3L1034.29 903L1035.71 903.8L1037.14 904.7L1038.57 905.6L1040 906.6L1041.43 907.7L1042.86 908.9L1044.29 910.5L1045.71 912.5L1047.14 914.7L1048.57 917.2L1050 919.9L1051.43 922.8L1052.86 925.8L1054.29 928.9L1055.71 931.9L1057.14 935L1058.57 938.1L1060 941L1061.43 944L1062.86 947.2L1064.29 950.4L1065.71 953.7L1067.14 957L1068.57 960.4L1070 963.8L1071.43 967.1L1072.86 970.5L1074.29 973.8L1075.71 977.1L1077.14 980.4L1078.57 983.6L1080 986.8L1081.43 990.1L1082.86 993.5L1084.29 996.9L1085.71 1000.2L1087.14 1003.6L1088.57 1007L1090 1010.4L1091.43 1013.8L1092.86 1017.1L1094.29 1020.3L1095.71 1023.5L1097.14 1026.7L1098.57 1029.8L1100 1032.8L1101.43 1035.9L1102.86 1038.9L1104.29 1042L1105.71 1045L1107.14 1048L1108.57 1050.8L1110 1053.6L1111.43 1056.2L1112.86 1058.8L1114.29 1061.3L1115.71 1063.9L1117.14 1066.4L1118.57 1068.9L1120 1071.5L1121.43 1074L1122.86 1076.4L1124.29 1078.8L1125.71 1081.1L1127.14 1083.4L1128.57 1085.6L1130 1087.7L1131.43 1089.7L1132.86 1091.7L1134.29 1093.5L1135.71 1095.2L1137.14 1096.8L1138.57 1098.2L1140 1099.5L1141.43 1100.8L1142.86 1102L1144.29 1103.2L1145.71 1104.3L1147.14 1105.5L1148.57 1106.7L1150 1107.9L1151.43 1109L1152.86 1110.1L1154.29 1111.2L1155.71 1112.2L1157.14 1113.2L1158.57 1114.1L1160 1115L1161.43 1115.8L1162.86 1116.6L1164.29 1117.3L1165.71 1117.9L1167.14 1118.5L1168.57 1119.1L1170 1119.7L1171.43 1120.2L1172.86 1120.7L1174.29 1121.1L1175.71 1121.5L1177.14 1121.9L1178.57 1122.2L1180 1122.5L1181.43 1122.8L1182.86 1123.2L1184.29 1123.5L1185.71 1123.9L1187.14 1124.1L1188.57 1124.4L1190 1124.7L1191.43 1124.9L1192.86 1125.2L1194.29 1125.4L1195.71 1125.6L1197.14 1125.9L1198.57 1126.2L1200 1126.5L1201.43 1126.7L1202.86 1126.9L1204.29 1127.1" fill="none" stroke="#6c6c6c" stroke-width="2.8" stroke-dasharray="0.1 10" stroke-linecap="round"/>
<path d="M885.71 1111.5L887.14 1111.4L888.57 1111.4L890 1111.4L891.43 1111.4L892.86 1111.4L894.29 1111.3L895.71 1111.3L897.14 1111.3L898.57 1111.3L900 1111.2L901.43 1111.2L902.86 1111.2L904.29 1111.1L905.71 1111.1L907.14 1111.1L908.57 1111.1L910 1111L911.43 1111L912.86 1111L914.29 1111L915.71 1110.9L917.14 1110.9L918.57 1110.9L920 1110.9L921.43 1110.9L922.86 1110.9L924.29 1110.8L925.71 1110.8L927.14 1110.8L928.57 1110.8L930 1110.8L931.43 1110.8L932.86 1110.8L934.29 1110.7L935.71 1110.7L937.14 1110.7L938.57 1110.7L940 1110.7L941.43 1110.6L942.86 1110.6L944.29 1110.6L945.71 1110.6L947.14 1110.5L948.57 1110.5L950 1110.5L951.43 1110.4L952.86 1110.4L954.29 1110.4L955.71 1110.3L957.14 1110.3L958.57 1110.2L960 1110.2L961.43 1110.1L962.86 1110.1L964.29 1110L965.71 1109.9L967.14 1109.9L968.57 1109.8L970 1109.7L971.43 1109.6L972.86 1109.5L974.29 1109.4L975.71 1109.3L977.14 1109.2L978.57 1109.1L980 1109L981.43 1108.9L982.86 1108.8L984.29 1108.7L985.71 1108.6L987.14 1108.5L988.57 1108.4L990 1108.2L991.43 1108.1L992.86 1108L994.29 1107.8L995.71 1107.7L997.14 1107.5L998.57 1107.4L1000 1107.2L1001.43 1107.1L1002.86 1106.9L1004.29 1106.8L1005.71 1106.6L1007.14 1106.4L1008.57 1106.2L1010 1106L1011.43 1105.8L1012.86 1105.6L1014.29 1105.3L1015.71 1105L1017.14 1104.7L1018.57 1104.4L1020 1104.1L1021.43 1103.7L1022.86 1103.4L1024.29 1103L1025.71 1102.6L1027.14 1102.2L1028.57 1101.8L1030 1101.3L1031.43 1100.8L1032.86 1100.3L1034.29 1099.8L1035.71 1099.2L1037.14 1098.6L1038.57 1097.9L1040 1097.2L1041.43 1096.4L1042.86 1095.6L1044.29 1094.8L1045.71 1094L1047.14 1093.1L1048.57 1092.2L1050 1091.3L1051.43 1090.4L1052.86 1089.5L1054.29 1088.5L1055.71 1087.4L1057.14 1086.3L1058.57 1085.1L1060 1083.9L1061.43 1082.6L1062.86 1081.3L1064.29 1079.9L1065.71 1078.5L1067.14 1077L1068.57 1075.5L1070 1073.9L1071.43 1072.3L1072.86 1070.6L1074.29 1068.8L1075.71 1067L1077.14 1065.1L1078.57 1063.1L1080 1061L1081.43 1059L1082.86 1056.9L1084.29 1054.7L1085.71 1052.6L1087.14 1050.4L1088.57 1048.2L1090 1045.9L1091.43 1043.7L1092.86 1041.4L1094.29 1039L1095.71 1036.6L1097.14 1034.2L1098.57 1031.8L1100 1029.4L1101.43 1027L1102.86 1024.6L1104.29 1022.3L1105.71 1020.2L1107.14 1018L1108.57 1015.8L1110 1013.5L1111.43 1011.3L1112.86 1009.1L1114.29 1006.9L1115.71 1005L1117.14 1003.2L1118.57 1001.7L1120 1000.6L1121.43 999.6L1122.86 998.9L1124.29 998.4L1125.71 998.2L1127.14 998.1L1128.57 998.2L1130 998.6L1131.43 999.1L1132.86 999.7L1134.29 1000.3L1135.71 1001L1137.14 1001.6L1138.57 1002.2L1140 1002.3L1141.43 1002.3L1142.86 1002.7L1144.29 1003.4L1145.71 1004.2L1147.14 1005.5L1148.57 1007.4L1150 1009.7L1151.43 1012.2L1152.86 1015L1154.29 1017.9L1155.71 1021L1157.14 1024.1L1158.57 1027.1L1160 1030.1L1161.43 1033L1162.86 1035.9L1164.29 1038.6L1165.71 1041.1L1167.14 1043.4L1168.57 1045.8L1170 1048.1L1171.43 1050.4L1172.86 1052.5L1174.29 1054.4L1175.71 1056.1L1177.14 1057.8L1178.57 1059.4L1180 1061L1181.43 1062.9L1182.86 1065.4L1184.29 1068L1185.71 1070.4L1187.14 1072.5L1188.57 1074.5L1190 1076.5L1191.43 1078.5L1192.86 1080.3L1194.29 1082.2L1195.71 1084.2L1197.14 1086.5L1198.57 1089.4L1200 1092.4L1201.43 1094.8L1202.86 1096.4L1204.29 1097.7L1205.71 1098.8L1207.14 1099.9L1208.57 1101L1210 1102.2L1211.43 1103.5L1212.86 1104.9L1214.29 1106.1L1215.71 1107.2L1217.14 1108.2L1218.57 1109.2L1220 1110.2L1221.43 1111.1L1222.86 1112L1224.29 1112.9L1225.71 1113.7L1227.14 1114.4L1228.57 1115.1L1230 1115.8L1231.43 1116.4L1232.86 1117.1L1234.29 1117.7L1235.71 1118.3L1237.14 1118.9L1238.57 1119.5L1240 1120L1241.43 1120.5L1242.86 1121.1L1244.29 1121.6L1245.71 1122.1L1247.14 1122.6L1248.57 1123.1L1250 1123.5L1251.43 1124L1252.86 1124.4L1254.29 1124.8L1255.71 1125.2L1257.14 1125.6L1258.57 1125.9L1260 1126.2L1261.43 1126.5L1262.86 1126.8L1264.29 1127.1L1265.71 1127.4L1267.14 1127.6L1268.57 1127.9L1270 1128.1L1271.43 1128.4L1272.86 1128.6L1274.29 1128.8L1275.71 1129L1277.14 1129.2L1278.57 1129.4L1280 1129.6L1281.43 1129.7L1282.86 1129.8L1284.29 1130" fill="none" stroke="#6c6c6c" stroke-width="2.8" stroke-dasharray="0.1 10" stroke-linecap="round"/>
<path d="M897.14 1111.7L898.57 1111.7L900 1111.7L901.43 1111.6L902.86 1111.6L904.29 1111.6L905.71 1111.6L907.14 1111.6L908.57 1111.6L910 1111.5L911.43 1111.5L912.86 1111.5L914.29 1111.5L915.71 1111.5L917.14 1111.5L918.57 1111.5L920 1111.5L921.43 1111.5L922.86 1111.5L924.29 1111.5L925.71 1111.5L927.14 1111.5L928.57 1111.5L930 1111.5L931.43 1111.5L932.86 1111.5L934.29 1111.5L935.71 1111.4L937.14 1111.4L938.57 1111.4L940 1111.4L941.43 1111.4L942.86 1111.4L944.29 1111.4L945.71 1111.4L947.14 1111.4L948.57 1111.4L950 1111.4L951.43 1111.3L952.86 1111.3L954.29 1111.3L955.71 1111.3L957.14 1111.2L958.57 1111.2L960 1111.2L961.43 1111.2L962.86 1111.1L964.29 1111.1L965.71 1111.1L967.14 1111L968.57 1111L970 1110.9L971.43 1110.9L972.86 1110.8L974.29 1110.8L975.71 1110.7L977.14 1110.7L978.57 1110.6L980 1110.6L981.43 1110.5L982.86 1110.5L984.29 1110.4L985.71 1110.4L987.14 1110.3L988.57 1110.3L990 1110.2L991.43 1110.2L992.86 1110.1L994.29 1110.1L995.71 1110L997.14 1110L998.57 1109.9L1000 1109.8L1001.43 1109.8L1002.86 1109.8L1004.29 1109.8L1005.71 1109.7L1007.14 1109.7L1008.57 1109.7L1010 1109.6L1011.43 1109.6L1012.86 1109.6L1014.29 1109.5L1015.71 1109.5L1017.14 1109.4L1018.57 1109.3L1020 1109.3L1021.43 1109.2L1022.86 1109.1L1024.29 1109.1L1025.71 1109L1027.14 1108.9L1028.57 1108.8L1030 1108.8L1031.43 1108.7L1032.86 1108.6L1034.29 1108.5L1035.71 1108.4L1037.14 1108.3L1038.57 1108.1L1040 1108L1041.43 1107.8L1042.86 1107.7L1044.29 1107.5L1045.71 1107.3L1047.14 1107.2L1048.57 1107L1050 1106.9L1051.43 1106.7L1052.86 1106.5L1054.29 1106.3L1055.71 1106.1L1057.14 1105.9L1058.57 1105.7L1060 1105.4L1061.43 1105.2L1062.86 1104.9L1064.29 1104.6L1065.71 1104.3L1067.14 1104L1068.57 1103.6L1070 1103.3L1071.43 1102.9L1072.86 1102.5L1074.29 1102L1075.71 1101.5L1077.14 1101L1078.57 1100.5L1080 1099.9L1081.43 1099.3L1082.86 1098.7L1084.29 1098L1085.71 1097.3L1087.14 1096.5L1088.57 1095.7L1090 1094.9L1091.43 1093.9L1092.86 1092.9L1094.29 1091.9L1095.71 1090.7L1097.14 1089.4L1098.57 1088L1100 1086.5L1101.43 1084.9L1102.86 1083.1L1104.29 1081.2L1105.71 1079.1L1107.14 1076.9L1108.57 1074.4L1110 1071.5L1111.43 1068.4L1112.86 1064.9L1114.29 1061.1L1115.71 1056.9L1117.14 1052.4L1118.57 1047.5L1120 1042.3L1121.43 1036.7L1122.86 1030.7L1124.29 1024.1L1125.71 1017.1L1127.14 1009.6L1128.57 1001.5L1130 992.9L1131.43 983.6L1132.86 973.7L1134.29 963L1135.71 951.4L1137.14 939L1138.57 925.4L1140 910L1141.43 893.4L1142.86 876.3L1144.29 858.6L1145.71 840.3L1147.14 822L1148.57 804.6L1150 787.9L1151.43 771.6L1152.86 755.9L1154.29 741.1L1155.71 727.2L1157.14 714L1158.57 701.5L1160 689.8L1161.43 679.4L1162.86 670.2L1164.29 661.7L1165.71 653.8L1167.14 647.2L1168.57 642.7L1170 640.5L1171.43 640.1L1172.86 641.1L1174.29 643.1L1175.71 645.9L1177.14 650.6L1178.57 657.3L1180 665.8L1181.43 677.9L1182.86 695L1184.29 714.5L1185.71 733.3L1187.14 751.3L1188.57 769.3L1190 787.4L1191.43 805.3L1192.86 822.9L1194.29 840.4L1195.71 858.6L1197.14 878.9L1198.57 901.7L1200 924.1L1201.43 942.6L1202.86 956.5L1204.29 968.2L1205.71 978.6L1207.14 988.3L1208.57 997.9L1210 1007.6L1211.43 1017.2L1212.86 1026.4L1214.29 1034.7L1215.71 1042.1L1217.14 1048.6L1218.57 1054.8L1220 1060.5L1221.43 1065.7L1222.86 1070.6L1224.29 1074.9L1225.71 1078.8L1227.14 1082.3L1228.57 1085.4L1230 1088.4L1231.43 1091.1L1232.86 1093.6L1234.29 1095.9L1235.71 1098.1L1237.14 1100L1238.57 1101.9L1240 1103.6L1241.43 1105.2L1242.86 1106.7L1244.29 1108.1L1245.71 1109.5L1247.14 1110.8L1248.57 1112L1250 1113.2L1251.43 1114.3L1252.86 1115.3L1254.29 1116.2L1255.71 1117.1L1257.14 1117.9L1258.57 1118.6L1260 1119.3L1261.43 1120L1262.86 1120.7L1264.29 1121.3L1265.71 1121.9L1267.14 1122.5L1268.57 1123L1270 1123.6L1271.43 1124.1L1272.86 1124.5L1274.29 1125L1275.71 1125.4L1277.14 1125.8L1278.57 1126.2L1280 1126.5L1281.43 1126.8L1282.86 1127L1284.29 1127.3" fill="none" stroke="#6c6c6c" stroke-width="2.8" stroke-dasharray="0.1 10" stroke-linecap="round"/>
<path d="M353.05 1107.3L357.24 1103.5L361.54 1104.1L365.87 1105.7L370.18 1106.1L374.46 1105.9L378.77 1106.5L383.03 1105.5L387.27 1103.7L391.58 1104.2L395.88 1104.6L400.14 1103.6L404.42 1103L408.73 1103.8L413.03 1104.3L417.29 1102.9L421.55 1102.1L425.8 1100.6L430.16 1102.9L434.46 1103.1L438.75 1103.1L443.04 1103L447.36 1103.6L451.67 1104L455.9 1102.4L460.2 1102.5L464.43 1100.7L468.74 1101L472.98 1099.6L477.26 1099.3L481.61 1101L485.89 1100.4L490.14 1099.1L494.39 1098L498.68 1098L503.03 1099.4L507.34 1099.9L511.58 1098.5L515.81 1096.6L520.14 1097.5L524.36 1096.4L528.53 1095.3L532.8 1094.8L537.24 1094.9L541.53 1094.1L545.68 1093.2L549.86 1092.6L553.95 1091L558.19 1090.9L562.58 1091.5L566.57 1089.6L570.58 1087.9L574.49 1086L578.6 1084.7L582.53 1082.5L586.07 1079.5L589.25 1076L592.89 1073L595.55 1068.6L598.1 1064L601.08 1060L604.53 1056.5L607.25 1052.1L609.72 1047.4L613.11 1043.7L616.46 1039.9L619.05 1035.3L620.16 1029.4L622.67 1024.8L625.83 1020.8L628.39 1016.3L631.25 1011.9L634.9 1008.2L637.09 1003.2L638.79 997.9L641.87 993.8L644.75 989.4L647.56 984.9L650.31 980.4L653.49 976.3L657.16 973L660.08 968.3L664.2 965.3L668.96 967.1L673.28 968.1L677.5 966.7L682.03 966.9L685.9 969.9L689.83 972.5L693.39 975.9L695.86 980.9L699.18 984.6L702.09 988.9L705.13 993.2L707.91 997.8L709.93 1003L713.47 1007L716.4 1011.5L718.52 1016.7L720.74 1021.8L722.54 1027.2L725.05 1032.1L728.83 1035.9L731.57 1040.6L734.12 1045.4L736.97 1049.9L738.39 1055.7L741.67 1059.8L744.92 1063.9L748.06 1067.9L750.96 1072.1L754.14 1075.5L757.86 1078L761.6 1080.3L765.07 1083.4L769.34 1083.9L773.58 1084.2L777.63 1085.1L781.42 1088.1L785.69 1088.5L789.87 1086.3L794.2 1085.8L798.49 1089.1L802.76 1088.3L806.93 1087.1L811.18 1086.7L815 1084.4L818.37 1081.4L821.91 1078.9L825.58 1076.6L828.65 1072.7L833.73 1072.8L838.11 1071.4L841.31 1067.4L844.97 1064.3L848.79 1061.5L853.24 1061L857.39 1059.6L861.55 1058.2L865.5 1055.7L869.79 1055L874.48 1056.3L878.46 1054L882.59 1052.5L886.8 1051.4L891.1 1050.8L895.4 1050.5L899.49 1048.7L903.6 1046.7L907.91 1046.5L912.2 1046L916.34 1044.5L920.66 1044.1L925 1043.6L928.86 1040.9L932.75 1038.7L937.86 1038.2L941.45 1034.7L943.99 1029.7L948.19 1026.9L950.7 1022L951.81 1015.8L954.21 1011L957.16 1006.6L960.56 1002.4L963.82 998.1L965.09 992.3L967.76 987.5L969.78 982.2L971.76 976.9L974.17 971.8L976.18 966.5L978.01 961.1L980.02 955.8L981.71 950.3L984.1 945.3L986.94 940.5L989.32 935.5L992.23 930.8L994.37 925.7L996.16 920.3L998.87 915.6L1001.02 910.4L1002.47 904.7L1004.16 899.2L1008.03 895.5L1011.56 891.6L1014.53 887.4L1017.19 882.8L1020.31 878.7L1024.49 876.8L1028.03 875.1L1032.12 872.7L1036.41 872.4L1040.62 874.6L1044.93 874.4L1049.96 875.3L1053.68 879L1056.41 883.5L1058.55 888.8L1061.81 892.6L1065.87 895.2L1069.83 897.9L1073.12 901.4L1076.77 904.3L1080.98 905.4L1085.12 906.7L1089.32 907.2L1093.72 909.2L1097.28 905.3L1100.9 902.5L1104.68 899.7L1108.29 896.3L1110.92 891.6L1113.12 886.4L1115.35 881.2L1117.2 875.8L1119.29 870.5L1120.5 864.8L1122.52 859.5L1124.28 854L1125.76 848.3L1127.67 842.9L1129.13 837.2L1130.59 831.5L1130.7 825.4L1131.36 819.5L1133.26 813.9L1133.98 808L1134.75 802.1L1136.39 796.4L1137.33 790.5L1137.37 784.5L1138.13 778.5L1139.16 772.7L1139.6 766.7L1140.02 760.7L1140.61 754.8L1140.69 748.8L1141.39 742.8L1141.93 736.9L1142.66 731L1143.49 725.1L1143.62 719L1144.34 713.1L1145.09 707.2L1145.43 701.2L1146.09 695.3L1146.46 689.3L1146.78 683.3L1147.45 677.4L1148.07 671.4L1149 665.5L1148.79 659.5L1149.34 653.5L1149.89 647.6L1150.66 641.7L1151.89 635.8L1152.67 629.9L1153.65 624.1L1154.41 618.1L1154.16 612L1154.88 606.1L1156.92 600.5L1158.38 594.8L1158.89 588.8L1159.12 582.8L1161.03 577.2L1161.76 571.3L1163.09 565.6L1164.98 560.1L1166.8 554.7L1170.19 551.2L1173.02 556.5L1174.2 562.3L1176.01 567.8L1177.82 573.4L1178.56 579.3L1179.14 585.2L1179.99 591.1L1180.88 597L1181.19 603L1181.66 608.9L1182.54 614.9L1182.75 620.9L1182.95 626.9L1183.34 632.8L1184.25 638.8L1184.73 644.7L1184.53 650.7L1184.53 656.8L1185.02 662.7L1185.6 668.7L1185.87 674.7L1186.09 680.7L1186.22 686.7L1186.88 692.6L1187.89 698.5L1188.2 704.5L1189.16 710.4L1189.46 716.4L1189.62 722.4L1190.01 728.4L1190.19 734.4L1190.64 740.3L1191.63 746.2L1192.02 752.2L1192.37 758.2L1192.66 764.2L1192.82 770.2L1193.59 776.1L1193.78 782.1L1193.68 788.1L1194.48 794L1194.91 800L1195.81 805.9L1196.39 811.9L1196.1 817.9L1197.01 823.9L1197.55 829.8L1197.77 835.8L1197.54 841.8L1197.45 847.9L1198.32 853.8L1198.79 859.8L1199.82 865.7L1199.64 871.7L1199.42 877.7L1199.55 883.7L1200.89 889.6L1201.23 895.6L1201.29 901.6L1202.59 907.5L1203.03 913.4L1203.01 919.4L1203.24 925.4L1203.91 931.4L1204.96 937.2L1205.56 943.2L1206.31 949.1L1207.38 954.9L1208.4 960.7L1208.9 966.7L1209.42 972.7L1209.67 978.7L1210.8 984.5L1211.43 990.4L1212.2 996.3L1213.05 1002.2L1214.4 1008L1215.8 1013.7L1216.68 1019.5L1217.33 1025.5L1218.48 1031.3L1219.69 1037L1221.01 1042.7L1222.3 1048.4L1223.91 1054L1226.01 1059.3L1227.73 1064.8L1229.68 1070.1L1231.33 1075.7L1234 1080.5L1237 1084.9L1239.89 1089.4L1242.32 1094.3L1245.11 1098.8L1248.53 1102.6L1252.81 1105L1256.96 1107.2L1260.1 1111.1L1263.41 1114.9L1267.03 1118.2L1271.87 1118L1276.04 1119.4L1280.2 1120.4L1284.37 1121.2L1288.41 1123.3L1292.46 1125.6L1296.8 1125.7L1301.16 1125.2L1305.4 1126L1309.54 1128.2L1313.72 1130.7L1318.16 1128L1322.49 1126.9L1326.75 1127.8L1330.99 1129.4L1335.27 1129.9L1339.54 1130.7L1343.86 1129.1L1348.16 1128.6L1352.44 1128.9L1356.74 1128.1L1361.02 1128.7L1365.31 1128.4L1369.55 1131.1L1373.83 1131.7L1378.15 1129.3L1382.45 1128.9L1386.69 1131.5L1390.99 1131L1395.28 1130.8L1399.55 1131.5L1403.83 1132.1L1408.12 1132L1412.42 1131L1416.72 1130.2L1421.02 1128.9L1425.29 1129.9L1429.56 1131.3L1433.85 1131L1438.14 1131L1442.43 1130.2L1446.69 1132.9L1450.98 1132.5L1455.29 1130.4L1459.57 1130.5L1463.85 1131.3L1468.12 1132.5L1472.43 1130.1L1476.71 1130.9L1480.99 1131.8L1485.28 1131.5L1489.55 1133L1493.84 1133.5L1498.13 1132L1502.42 1131.7L1506.7 1133.9L1510.98 1134.7L1515.27 1133.9L1519.56 1132.8" fill="none" stroke="#000" stroke-width="3.3" stroke-linejoin="round" />
<path d="M353 1108.5L354.43 1108.5L355.86 1108.5L357.29 1108.5L358.71 1108.5L360.14 1108.5L361.57 1108.5L363 1108.5L364.43 1108.5L365.86 1108.5L367.29 1108.5L368.71 1108.5L370.14 1108.5L371.57 1108.5L373 1108.5L374.43 1108.5L375.86 1108.5L377.29 1108.5L378.71 1108.5L380.14 1108.5L381.57 1108.5L383 1108.5L384.43 1108.5L385.86 1108.5L387.29 1108.5L388.71 1108.5L390.14 1108.5L391.57 1108.5L393 1108.5L394.43 1108.5L395.86 1108.5L397.29 1108.5L398.71 1108.5L400.14 1108.5L401.57 1108.5L403 1108.5L404.43 1108.5L405.86 1108.5L407.29 1108.5L408.71 1108.5L410.14 1108.5L411.57 1108.5L413 1108.5L414.43 1108.5L415.86 1108.5L417.29 1108.5L418.71 1108.5L420.14 1108.5L421.57 1108.5L423 1108.5L424.43 1108.5L425.86 1108.5L427.29 1108.5L428.71 1108.5L430.14 1108.5L431.57 1108.5L433 1108.5L434.43 1108.5L435.86 1108.5L437.29 1108.5L438.71 1108.5L440.14 1108.5L441.57 1108.5L443 1108.5L444.43 1108.5L445.86 1108.5L447.29 1108.5L448.71 1108.5L450.14 1108.5L451.57 1108.5L453 1108.5L454.43 1108.5L455.86 1108.5L457.29 1108.5L458.71 1108.5L460.14 1108.5L461.57 1108.5L463 1108.5L464.43 1108.5L465.86 1108.5L467.29 1108.5L468.71 1108.5L470.14 1108.5L471.57 1108.5L473 1108.5L474.43 1108.5L475.86 1108.5L477.29 1108.5L478.71 1108.5L480.14 1108.5L481.57 1108.5L483 1108.5L484.43 1108.5L485.86 1108.5L487.29 1108.5L488.71 1108.5L490.14 1108.5L491.57 1108.5L493 1108.5L494.43 1108.5L495.86 1108.5L497.29 1108.5L498.71 1108.5L500.14 1108.5L501.57 1108.5L503 1108.5L504.43 1108.5L505.86 1108.5L507.29 1108.5L508.71 1108.5L510.14 1108.5L511.57 1108.5L513 1108.5L514.43 1108.5L515.86 1108.5L517.29 1108.5L518.71 1108.5L520.14 1108.5L521.57 1108.5L523 1108.5L524.43 1108.4L525.86 1108.3L527.29 1108.2L528.71 1108L530.14 1107.8L531.57 1107.6L533 1107.3L534.43 1107L535.86 1106.7L537.29 1106.4L538.71 1106L540.14 1105.7L541.57 1105.3L543 1104.9L544.43 1104.5L545.86 1104.1L547.29 1103.7L548.71 1103.3L550.14 1102.8L551.57 1102.4L553 1102L554.43 1101.6L555.86 1101.1L557.29 1100.6L558.71 1100.1L560.14 1099.6L561.57 1099.1L563 1098.5L564.43 1097.9L565.86 1097.2L567.29 1096.6L568.71 1095.9L570.14 1095.1L571.57 1094.3L573 1093.5L574.43 1092.7L575.86 1091.8L577.29 1090.9L578.71 1090L580.14 1088.9L581.57 1087.7L583 1086.4L584.43 1085L585.86 1083.4L587.29 1081.8L588.71 1080.2L590.14 1078.5L591.57 1076.7L593 1074.9L594.43 1073L595.86 1071.1L597.29 1069.3L598.71 1067.4L600.14 1065.5L601.57 1063.5L603 1061.5L604.43 1059.4L605.86 1057.3L607.29 1055.1L608.71 1052.9L610.14 1050.6L611.57 1048.3L613 1045.9L614.43 1043.6L615.86 1041.2L617.29 1038.7L618.71 1036.3L620.14 1033.9L621.57 1031.4L623 1029L624.43 1026.5L625.86 1024L627.29 1021.6L628.71 1019L630.14 1016.4L631.57 1013.6L633 1010.8L634.43 1008L635.86 1005.1L637.29 1002.3L638.71 999.5L640.14 996.8L641.57 994.1L643 991.6L644.43 989.3L645.86 987.1L647.29 985.1L648.71 983.2L650.14 981.3L651.57 979.3L653 977.4L654.43 975.6L655.86 973.9L657.29 972.4L658.71 971L660.14 969.9L661.57 969L663 968.3L664.43 968L665.86 967.7L667.29 967.4L668.71 967.1L670.14 966.9L671.57 966.7L673 966.6L674.43 966.5L675.86 966.5L677.29 966.6L678.71 966.9L680.14 967.4L681.57 968L683 968.8L684.43 969.7L685.86 970.7L687.29 971.8L688.71 973L690.14 974.2L691.57 975.5L693 976.8L694.43 978.1L695.86 979.4L697.29 980.9L698.71 982.6L700.14 984.5L701.57 986.6L703 988.9L704.43 991.3L705.86 993.8L707.29 996.4L708.71 999L710.14 1001.6L711.57 1004.1L713 1006.6L714.43 1009.2L715.86 1011.9L717.29 1014.7L718.71 1017.5L720.14 1020.4L721.57 1023.3L723 1026.1L724.43 1028.9L725.86 1031.7L727.29 1034.3L728.71 1036.9L730.14 1039.4L731.57 1042L733 1044.6L734.43 1047.1L735.86 1049.7L737.29 1052.2L738.71 1054.6L740.14 1057L741.57 1059.3L743 1061.6L744.43 1063.7L745.86 1065.7L747.29 1067.6L748.71 1069.3L750.14 1070.9L751.57 1072.5L753 1074.1L754.43 1075.6L755.86 1077.1L757.29 1078.5L758.71 1079.9L760.14 1081.2L761.57 1082.4L763 1083.6L764.43 1084.6L765.86 1085.6L767.29 1086.5L768.71 1087.3L770.14 1088.1L771.57 1088.8L773 1089.6L774.43 1090.3L775.86 1091L777.29 1091.7L778.71 1092.3L780.14 1092.9L781.57 1093.4L783 1093.9L784.43 1094.3L785.86 1094.6L787.29 1094.8L788.71 1094.9L790.14 1094.9L791.57 1094.8L793 1094.7L794.43 1094.5L795.86 1094.3L797.29 1094L798.71 1093.7L800.14 1093.3L801.57 1092.9L803 1092.5L804.43 1092L805.86 1091.6L807.29 1091.1L808.71 1090.6L810.14 1090.1L811.57 1089.4L813 1088.6L814.43 1087.6L815.86 1086.5L817.29 1085.4L818.71 1084.1L820.14 1082.8L821.57 1081.5L823 1080.2L824.43 1078.8L825.86 1077.6L827.29 1076.4L828.71 1075.2L830.14 1074.2L831.57 1073.2L833 1072.2L834.43 1071.2L835.86 1070.2L837.29 1069.3L838.71 1068.3L840.14 1067.4L841.57 1066.5L843 1065.6L844.43 1064.8L845.86 1064L847.29 1063.2L848.71 1062.5L850.14 1061.9L851.57 1061.3L853 1060.8L854.43 1060.2L855.86 1059.7L857.29 1059.3L858.71 1058.8L860.14 1058.4L861.57 1057.9L863 1057.5L864.43 1057.1L865.86 1056.7L867.29 1056.3L868.71 1055.9L870.14 1055.5L871.57 1055.1L873 1054.7L874.43 1054.3L875.86 1053.9L877.29 1053.5L878.71 1053.1L880.14 1052.7L881.57 1052.3L883 1051.9L884.43 1051.5L885.86 1051.2L887.29 1050.8L888.71 1050.5L890.14 1050.1L891.57 1049.8L893 1049.4L894.43 1049.1L895.86 1048.8L897.29 1048.5L898.71 1048.2L900.14 1048L901.57 1047.7L903 1047.5L904.43 1047.3L905.86 1047L907.29 1046.8L908.71 1046.6L910.14 1046.3L911.57 1046.1L913 1045.8L914.43 1045.6L915.86 1045.3L917.29 1045L918.71 1044.7L920.14 1044.4L921.57 1044L923 1043.6L924.43 1043.2L925.86 1042.8L927.29 1042.3L928.71 1041.8L930.14 1041.1L931.57 1040.3L933 1039.4L934.43 1038.4L935.86 1037.2L937.29 1036L938.71 1034.7L940.14 1033.3L941.57 1031.8L943 1030.3L944.43 1028.8L945.86 1027.2L947.29 1025.5L948.71 1023.7L950.14 1021.7L951.57 1019.5L953 1017.3L954.43 1014.9L955.86 1012.4L957.29 1009.8L958.71 1007.1L960.14 1004.4L961.57 1001.6L963 998.7L964.43 995.8L965.86 992.7L967.29 989.3L968.71 985.8L970.14 982.1L971.57 978.4L973 974.5L974.43 970.7L975.86 966.8L977.29 963L978.71 959.2L980.14 955.6L981.57 952.2L983 948.8L984.43 945.4L985.86 942L987.29 938.7L988.71 935.4L990.14 932.1L991.57 928.9L993 925.7L994.43 922.6L995.86 919.6L997.29 916.7L998.71 913.8L1000.14 911L1001.57 908.2L1003 905.4L1004.43 902.6L1005.86 900L1007.29 897.4L1008.71 894.9L1010.14 892.6L1011.57 890.4L1013 888.4L1014.43 886.6L1015.86 884.7L1017.29 882.8L1018.71 880.9L1020.14 879.1L1021.57 877.5L1023 876.2L1024.43 875.1L1025.86 874.3L1027.29 874L1028.71 874L1030.14 874L1031.57 874L1033 874L1034.43 874L1035.86 874L1037.29 874L1038.71 874L1040.14 874L1041.57 874L1043 874.2L1044.43 874.7L1045.86 875.6L1047.29 876.7L1048.71 878.1L1050.14 879.6L1051.57 881.3L1053 883L1054.43 884.8L1055.86 886.5L1057.29 888.1L1058.71 889.6L1060.14 890.9L1061.57 892.2L1063 893.6L1064.43 895L1065.86 896.5L1067.29 897.9L1068.71 899.2L1070.14 900.5L1071.57 901.8L1073 902.9L1074.43 903.9L1075.86 904.7L1077.29 905.3L1078.71 905.8L1080.14 906.3L1081.57 906.8L1083 907.3L1084.43 907.7L1085.86 908.1L1087.29 908.4L1088.71 908.6L1090.14 908.8L1091.57 908.8L1093 908.7L1094.43 908.3L1095.86 907.8L1097.29 907L1098.71 906.2L1100.14 905.1L1101.57 904L1103 902.8L1104.43 901.5L1105.86 900.2L1107.29 898.5L1108.71 896.3L1110.14 893.6L1111.57 890.5L1113 887.1L1114.43 883.4L1115.86 879.6L1117.29 875.6L1118.71 871.5L1120.14 867.4L1121.57 863.1L1123 858.5L1124.43 853.6L1125.86 848.3L1127.29 842.7L1128.71 836.7L1130.14 830.2L1131.57 823.2L1133 815.5L1134.43 806.9L1135.86 797.3L1137.29 786.8L1138.71 774.8L1140.14 760.3L1141.57 744.6L1143 728.8L1144.43 712.8L1145.86 696.2L1147.29 680.1L1148.71 665.7L1150.14 652.2L1151.57 639.5L1153 627.5L1154.43 616.5L1155.86 606.6L1157.29 597.3L1158.71 588.5L1160.14 580.6L1161.57 573.7L1163 568.1L1164.43 562.7L1165.86 557.8L1167.29 554L1168.71 552.3L1170.14 553L1171.57 555.3L1173 558.8L1174.43 563L1175.86 567.7L1177.29 574.4L1178.71 583L1180.14 593.5L1181.57 608.1L1183 628.4L1184.43 650.9L1185.86 672.1L1187.29 692.2L1188.71 712.5L1190.14 732.7L1191.57 752.6L1193 772L1194.43 791.5L1195.86 811.9L1197.29 834.8L1198.71 861L1200.14 886.4L1201.57 907L1203 922L1204.43 934.8L1205.86 946.1L1207.29 956.7L1208.71 967.4L1210.14 978.4L1211.57 989.3L1213 999.7L1214.43 1009.3L1215.86 1017.6L1217.29 1025L1218.71 1032.1L1220.14 1038.7L1221.57 1044.8L1223 1050.5L1224.43 1055.6L1225.86 1060.2L1227.29 1064.3L1228.71 1068.1L1230.14 1071.6L1231.57 1075L1233 1078.1L1234.43 1081L1235.86 1083.8L1237.29 1086.3L1238.71 1088.7L1240.14 1091L1241.57 1093.1L1243 1095.1L1244.43 1097L1245.86 1098.9L1247.29 1100.7L1248.71 1102.4L1250.14 1104L1251.57 1105.6L1253 1107L1254.43 1108.4L1255.86 1109.6L1257.29 1110.8L1258.71 1111.8L1260.14 1112.8L1261.57 1113.8L1263 1114.7L1264.43 1115.6L1265.86 1116.5L1267.29 1117.3L1268.71 1118.1L1270.14 1118.9L1271.57 1119.6L1273 1120.3L1274.43 1121L1275.86 1121.6L1277.29 1122.2L1278.71 1122.7L1280.14 1123.2L1281.57 1123.6L1283 1123.9L1284.43 1124.3L1285.86 1124.6L1287.29 1124.9L1288.71 1125.2L1290.14 1125.4L1291.57 1125.7L1293 1126L1294.43 1126.2L1295.86 1126.4L1297.29 1126.7L1298.71 1126.9L1300.14 1127.1L1301.57 1127.3L1303 1127.5L1304.43 1127.7L1305.86 1127.8L1307.29 1128L1308.71 1128.2L1310.14 1128.3L1311.57 1128.4L1313 1128.6L1314.43 1128.7L1315.86 1128.8L1317.29 1128.9L1318.71 1129L1320.14 1129.1L1321.57 1129.2L1323 1129.3L1324.43 1129.3L1325.86 1129.4L1327.29 1129.5L1328.71 1129.6L1330.14 1129.6L1331.57 1129.7L1333 1129.8L1334.43 1129.8L1335.86 1129.9L1337.29 1129.9L1338.71 1130L1340.14 1130L1341.57 1130.1L1343 1130.2L1344.43 1130.2L1345.86 1130.2L1347.29 1130.3L1348.71 1130.3L1350.14 1130.4L1351.57 1130.4L1353 1130.5L1354.43 1130.5L1355.86 1130.5L1357.29 1130.6L1358.71 1130.6L1360.14 1130.7L1361.57 1130.7L1363 1130.7L1364.43 1130.8L1365.86 1130.8L1367.29 1130.9L1368.71 1130.9L1370.14 1131L1371.57 1131L1373 1131L1374.43 1131.1L1375.86 1131.1L1377.29 1131.2L1378.71 1131.2L1380.14 1131.2L1381.57 1131.3L1383 1131.3L1384.43 1131.4L1385.86 1131.4L1387.29 1131.4L1388.71 1131.5L1390.14 1131.5L1391.57 1131.6L1393 1131.6L1394.43 1131.6L1395.86 1131.7L1397.29 1131.7L1398.71 1131.7L1400.14 1131.8L1401.57 1131.8L1403 1131.9L1404.43 1131.9L1405.86 1131.9L1407.29 1132L1408.71 1132L1410.14 1132L1411.57 1132.1L1413 1132.1L1414.43 1132.2L1415.86 1132.2L1417.29 1132.2L1418.71 1132.3L1420.14 1132.3L1421.57 1132.3L1423 1132.4L1424.43 1132.4L1425.86 1132.4L1427.29 1132.5L1428.71 1132.5L1430.14 1132.5L1431.57 1132.6L1433 1132.6L1434.43 1132.6L1435.86 1132.7L1437.29 1132.7L1438.71 1132.7L1440.14 1132.7L1441.57 1132.8L1443 1132.8L1444.43 1132.8L1445.86 1132.9L1447.29 1132.9L1448.71 1132.9L1450.14 1132.9L1451.57 1133L1453 1133L1454.43 1133L1455.86 1133.1L1457.29 1133.1L1458.71 1133.1L1460.14 1133.1L1461.57 1133.2L1463 1133.2L1464.43 1133.2L1465.86 1133.2L1467.29 1133.2L1468.71 1133.3L1470.14 1133.3L1471.57 1133.3L1473 1133.3L1474.43 1133.4L1475.86 1133.4L1477.29 1133.4L1478.71 1133.4L1480.14 1133.4L1481.57 1133.4L1483 1133.5L1484.43 1133.5L1485.86 1133.5L1487.29 1133.5L1488.71 1133.5L1490.14 1133.5L1491.57 1133.6L1493 1133.6L1494.43 1133.6L1495.86 1133.6L1497.29 1133.6L1498.71 1133.6L1500.14 1133.6L1501.57 1133.6L1503 1133.6L1504.43 1133.7L1505.86 1133.7L1507.29 1133.7L1508.71 1133.7L1510.14 1133.7L1511.57 1133.7L1513 1133.7L1514.43 1133.7L1515.86 1133.7L1517.29 1133.7L1518.71 1133.7L1520.14 1133.7L1521.43 1133.7" fill="none" stroke="#ff4612" stroke-width="2.4" stroke-linejoin="round" />
<rect x="1478.64" y="39.2" width="106.86" height="73.9" fill="#fff" stroke="#111" stroke-width="2.9"/>
<path d="M237.07 1177.8H248.5M237.07 1134.3H248.5M237.07 1090.8H248.5M237.07 1047.2H248.5M237.07 1003.7H248.5M237.07 960.1H248.5M237.07 916.6H248.5M237.07 873H248.5M237.07 829.3H248.5M237.07 785.7H248.5M237.07 742H248.5M237.07 698.4H248.5M237.07 654.8H248.5M237.07 611.2H248.5M237.07 567.7H248.5M237.07 524.1H248.5M237.07 480.5H248.5M237.07 437H248.5M237.07 393.4H248.5M237.07 349.9H248.5M237.07 306.3H248.5M237.07 262.8H248.5M237.07 219.7H248.5M237.07 176.7H248.5M237.07 133.6H248.5M237.07 90.6H248.5M237.07 47.5H248.5M228.5 1134.3H248.5M228.5 916.6H248.5M228.5 698.4H248.5M228.5 480.5H248.5M228.5 262.8H248.5M228.5 47.5H248.5" fill="none" stroke="#161616" stroke-width="2.4"/>
<path d="M1599.8 1202.8V1212.8M1560.79 1202.8V1212.8M1521.79 1202.8V1212.8M1482.89 1202.8V1212.8M1444 1202.8V1212.8M1405.11 1202.8V1212.8M1366.21 1202.8V1212.8M1327.32 1202.8V1212.8M1288.43 1202.8V1212.8M1249.54 1202.8V1212.8M1210.64 1202.8V1212.8M1171.75 1202.8V1212.8M1132.86 1202.8V1212.8M1093.68 1202.8V1212.8M1054.5 1202.8V1212.8M1015.32 1202.8V1212.8M976.14 1202.8V1212.8M936.96 1202.8V1212.8M897.79 1202.8V1212.8M858.61 1202.8V1212.8M819.43 1202.8V1212.8M780.25 1202.8V1212.8M741.07 1202.8V1212.8M702.18 1202.8V1212.8M663.29 1202.8V1212.8M624.39 1202.8V1212.8M585.5 1202.8V1212.8M546.61 1202.8V1212.8M507.71 1202.8V1212.8M468.82 1202.8V1212.8M429.93 1202.8V1212.8M391.04 1202.8V1212.8M352.14 1202.8V1212.8M313.14 1202.8V1212.8M274.13 1202.8V1212.8M352.14 1202.8V1219.3M741.07 1202.8V1219.3M1132.86 1202.8V1219.3M1521.79 1202.8V1219.3" fill="none" stroke="#161616" stroke-width="3.0"/>
<path d="M248.5 30.2H1600" fill="none" stroke="#161616" stroke-width="3.1" stroke-linecap="square"/>
<path d="M248.5 1202.8H1600" fill="none" stroke="#161616" stroke-width="3.1" stroke-linecap="square"/>
<path d="M248.5 30.2V1204.3M1600 30.2V1204.3" fill="none" stroke="#161616" stroke-width="3.0"/>
</g>
<g id="panel-b">
<path d="M560.71 1611.8L1342.86 1611.8" fill="none" stroke="#62a0a8" stroke-width="2.8" stroke-dasharray="12.1 8.6"/>
<path d="M739.29 1567.5L740.71 1566.8L742.14 1566.1L743.57 1565.4L745 1564.7L746.43 1564L747.86 1563.3L749.29 1562.6L750.71 1561.9L752.14 1561.2L753.57 1560.5L755 1559.8L756.43 1559.1L757.86 1558.3L759.29 1557.6L760.71 1556.9L762.14 1556.1L763.57 1555.4L765 1554.7L766.43 1553.9L767.86 1553.2L769.29 1552.4L770.71 1551.7L772.14 1550.9L773.57 1550.2L775 1549.5L776.43 1548.7L777.86 1548L779.29 1547.2L780.71 1546.5L782.14 1545.8L783.57 1545L785 1544.3L786.43 1543.6L787.86 1542.9L789.29 1542.2L790.71 1541.5L792.14 1540.8L793.57 1540.1L795 1539.4L796.43 1538.7L797.86 1538L799.29 1537.3L800.71 1536.6L802.14 1535.8L803.57 1535.1L805 1534.4L806.43 1533.8L807.86 1533.1L809.29 1532.4L810.71 1531.8L812.14 1531.2L813.57 1530.6L815 1530.1L816.43 1529.6L817.86 1529.1L819.29 1528.7L820.71 1528.2L822.14 1527.8L823.57 1527.4L825 1527.1L826.43 1526.7L827.86 1526.4L829.29 1526.1L830.71 1525.8L832.14 1525.5L833.57 1525.3L835 1525.1L836.43 1524.9L837.86 1524.8L839.29 1524.6L840.71 1524.5L842.14 1524.4L843.57 1524.3L845 1524.2L846.43 1524.2L847.86 1524.2L849.29 1524.1L850.71 1524.2L852.14 1524.2L853.57 1524.3L855 1524.4L856.43 1524.5L857.86 1524.7L859.29 1524.9L860.71 1525.1L862.14 1525.4L863.57 1525.7L865 1526L866.43 1526.3L867.86 1526.6L869.29 1527L870.71 1527.4L872.14 1527.8L873.57 1528.2L875 1528.6L876.43 1529L877.86 1529.5L879.29 1529.9L880.71 1530.4L882.14 1531L883.57 1531.5L885 1532L886.43 1532.6L887.86 1533.2L889.29 1533.8L890.71 1534.4L892.14 1535.1L893.57 1535.7L895 1536.4L896.43 1537.1L897.86 1537.8L899.29 1538.6L900.71 1539.3L902.14 1540.1L903.57 1540.9L905 1541.6L906.43 1542.4L907.86 1543.2L909.29 1544L910.71 1544.8L912.14 1545.6L913.57 1546.4L915 1547.2L916.43 1548L917.86 1548.9L919.29 1549.7L920.71 1550.5L922.14 1551.3L923.57 1552.2L925 1553L926.43 1553.8L927.86 1554.6L929.29 1555.5L930.71 1556.3L932.14 1557.1L933.57 1557.9L935 1558.8L936.43 1559.6L937.86 1560.4L939.29 1561.2L940.71 1562L942.14 1562.8L943.57 1563.6L945 1564.4L946.43 1565.2L947.86 1565.9L949.29 1566.7L950.71 1567.5L952.14 1568.2L953.57 1569L955 1569.7L956.43 1570.4L957.86 1571.2L959.29 1571.9L960.71 1572.6L962.14 1573.4L963.57 1574.1L965 1574.8L966.43 1575.5L967.86 1576.2L969.29 1576.9L970.71 1577.6L972.14 1578.3L973.57 1579L975 1579.6L976.43 1580.3L977.86 1581L979.29 1581.6L980.71 1582.3L982.14 1582.9L983.57 1583.6L985 1584.2L986.43 1584.8L987.86 1585.4L989.29 1586L990.71 1586.6L992.14 1587.2L993.57 1587.8L995 1588.3L996.43 1588.9L997.86 1589.4L999.29 1589.9L1000.71 1590.5L1002.14 1591L1003.57 1591.5L1005 1592L1006.43 1592.5L1007.86 1593L1009.29 1593.4L1010.71 1593.9L1012.14 1594.3L1013.57 1594.8L1015 1595.2L1016.43 1595.6L1017.86 1596.1L1019.29 1596.5L1020.71 1596.9L1022.14 1597.3L1023.57 1597.7L1025 1598L1026.43 1598.4L1027.86 1598.8L1029.29 1599.2L1030.71 1599.5L1032.14 1599.9L1033.57 1600.2L1035 1600.5L1036.43 1600.9L1037.86 1601.2L1039.29 1601.5L1040.71 1601.8L1042.14 1602.1L1043.57 1602.4L1045 1602.7L1046.43 1603L1047.86 1603.3L1049.29 1603.5L1050.71 1603.8L1052.14 1604.1L1053.57 1604.3L1055 1604.6L1056.43 1604.8L1057.86 1605.1L1059.29 1605.3L1060.71 1605.5L1062.14 1605.7L1063.57 1606L1065 1606.2L1066.43 1606.4L1067.86 1606.6L1069.29 1606.8L1070.71 1607L1072.14 1607.1L1073.57 1607.3L1075 1607.5L1076.43 1607.6L1077.86 1607.8L1079.29 1607.9L1080.71 1608.1L1082.14 1608.2L1083.57 1608.4L1085 1608.5L1086.43 1608.6L1087.86 1608.7L1089.29 1608.9L1090.71 1609L1092.14 1609.1L1093.57 1609.2" fill="none" stroke="#6c6c6c" stroke-width="2.6" stroke-dasharray="0.1 10" stroke-linecap="round"/>
<path d="M746.43 1609.3L747.86 1609.2L749.29 1609.1L750.71 1609L752.14 1608.9L753.57 1608.8L755 1608.7L756.43 1608.6L757.86 1608.4L759.29 1608.3L760.71 1608.2L762.14 1608L763.57 1607.9L765 1607.8L766.43 1607.6L767.86 1607.5L769.29 1607.3L770.71 1607.1L772.14 1607L773.57 1606.8L775 1606.6L776.43 1606.4L777.86 1606.2L779.29 1606L780.71 1605.8L782.14 1605.6L783.57 1605.4L785 1605.2L786.43 1605L787.86 1604.7L789.29 1604.5L790.71 1604.2L792.14 1604L793.57 1603.7L795 1603.4L796.43 1603.1L797.86 1602.8L799.29 1602.5L800.71 1602.2L802.14 1601.9L803.57 1601.6L805 1601.2L806.43 1600.9L807.86 1600.5L809.29 1600.1L810.71 1599.7L812.14 1599.4L813.57 1599L815 1598.6L816.43 1598.1L817.86 1597.7L819.29 1597.3L820.71 1596.9L822.14 1596.4L823.57 1596L825 1595.5L826.43 1595L827.86 1594.5L829.29 1594L830.71 1593.5L832.14 1593L833.57 1592.5L835 1592L836.43 1591.4L837.86 1590.9L839.29 1590.3L840.71 1589.7L842.14 1589.2L843.57 1588.6L845 1588L846.43 1587.3L847.86 1586.7L849.29 1586.1L850.71 1585.4L852.14 1584.8L853.57 1584.1L855 1583.4L856.43 1582.7L857.86 1582L859.29 1581.4L860.71 1580.7L862.14 1580L863.57 1579.2L865 1578.5L866.43 1577.8L867.86 1577.1L869.29 1576.3L870.71 1575.5L872.14 1574.8L873.57 1574L875 1573.2L876.43 1572.4L877.86 1571.6L879.29 1570.8L880.71 1570L882.14 1569.1L883.57 1568.3L885 1567.5L886.43 1566.6L887.86 1565.8L889.29 1564.9L890.71 1564.1L892.14 1563.2L893.57 1562.4L895 1561.5L896.43 1560.7L897.86 1559.8L899.29 1559L900.71 1558.1L902.14 1557.3L903.57 1556.4L905 1555.6L906.43 1554.7L907.86 1553.8L909.29 1553L910.71 1552.1L912.14 1551.2L913.57 1550.4L915 1549.5L916.43 1548.6L917.86 1547.8L919.29 1546.9L920.71 1546L922.14 1545.1L923.57 1544.3L925 1543.4L926.43 1542.5L927.86 1541.6L929.29 1540.8L930.71 1539.9L932.14 1539L933.57 1538.2L935 1537.3L936.43 1536.4L937.86 1535.5L939.29 1534.7L940.71 1533.8L942.14 1532.9L943.57 1532.1L945 1531.2L946.43 1530.3L947.86 1529.5L949.29 1528.6L950.71 1527.7L952.14 1526.9L953.57 1526L955 1525.1L956.43 1524.3L957.86 1523.4L959.29 1522.6L960.71 1521.8L962.14 1520.9L963.57 1520.1L965 1519.3L966.43 1518.5L967.86 1517.8L969.29 1517L970.71 1516.3L972.14 1515.5L973.57 1514.8L975 1514.2L976.43 1513.5L977.86 1512.8L979.29 1512.2L980.71 1511.6L982.14 1510.9L983.57 1510.3L985 1509.7L986.43 1509.1L987.86 1508.6L989.29 1508L990.71 1507.5L992.14 1506.9L993.57 1506.4L995 1505.9L996.43 1505.4L997.86 1504.9L999.29 1504.5L1000.71 1504L1002.14 1503.6L1003.57 1503.2L1005 1502.7L1006.43 1502.3L1007.86 1501.9L1009.29 1501.5L1010.71 1501.2L1012.14 1500.8L1013.57 1500.5L1015 1500.1L1016.43 1499.8L1017.86 1499.5L1019.29 1499.2L1020.71 1498.9L1022.14 1498.7L1023.57 1498.4L1025 1498.2L1026.43 1498.1L1027.86 1498L1029.29 1497.9L1030.71 1497.8L1032.14 1497.8L1033.57 1497.8L1035 1497.8L1036.43 1497.9L1037.86 1498L1039.29 1498.1L1040.71 1498.2L1042.14 1498.3L1043.57 1498.5L1045 1498.6L1046.43 1498.8L1047.86 1499L1049.29 1499.3L1050.71 1499.6L1052.14 1500L1053.57 1500.5L1055 1501L1056.43 1501.5L1057.86 1502.1L1059.29 1502.7L1060.71 1503.4L1062.14 1504L1063.57 1504.8L1065 1505.5L1066.43 1506.2L1067.86 1507L1069.29 1507.8L1070.71 1508.5L1072.14 1509.3L1073.57 1510.1L1075 1510.8L1076.43 1511.6L1077.86 1512.3L1079.29 1513.1L1080.71 1513.9L1082.14 1514.8L1083.57 1515.6L1085 1516.4L1086.43 1517.3L1087.86 1518.2L1089.29 1519.1L1090.71 1520L1092.14 1520.9L1093.57 1521.8L1095 1522.7L1096.43 1523.7L1097.86 1524.6L1099.29 1525.6L1100.71 1526.6L1102.14 1527.6" fill="none" stroke="#6c6c6c" stroke-width="2.6" stroke-dasharray="0.1 10" stroke-linecap="round"/>
<path d="M364.5 1610.6L368.79 1611.6L373.07 1609.6L377.36 1610.6L381.65 1611L385.93 1609.5L390.21 1609.1L394.49 1608.8L398.78 1609.3L403.07 1610.5L407.36 1610.9L411.65 1610.8L415.92 1608.9L420.2 1607.8L424.5 1610.3L428.79 1611.4L433.08 1612L437.37 1611.8L441.64 1609.6L445.93 1610.2L450.22 1610.8L454.5 1610.1L458.78 1609.1L463.07 1609.1L467.36 1609.4L471.65 1610.1L475.93 1610L480.22 1610.7L484.5 1609.6L488.79 1609.3L493.07 1610L497.35 1608.9L501.63 1607.9L505.93 1609.3L510.23 1610L514.5 1609.1L518.79 1609.1L523.06 1608.4L527.35 1608.4L531.63 1608L535.92 1607.9L540.24 1608.7L544.51 1607.9L548.8 1607.9L553.05 1606.7L557.31 1606.1L561.57 1605.3L565.87 1605.4L570.2 1605.8L574.47 1605.3L578.73 1604.6L583.1 1605.3L587.46 1605.7L591.55 1603.1L595.87 1602.9L600.04 1601.3L604.24 1599.9L608.61 1600.3L612.91 1600.4L617.11 1599.2L621.32 1598.3L625.64 1598.5L629.85 1597.6L634.04 1596.5L638.4 1596.8L642.73 1596.9L646.88 1595.5L651.05 1594.2L655.27 1593.4L659.45 1592.2L663.64 1591.1L667.8 1589.9L672.16 1590L676.41 1589.4L680.56 1588.1L684.8 1587.3L689.07 1586.7L693.41 1586.5L697.44 1584.5L701.42 1582.3L705.64 1581.4L709.64 1579.4L714.01 1578.9L718.32 1577.7L722.29 1575.5L726.1 1572.7L730.2 1570.9L734.42 1569.3L738.33 1566.9L742.04 1564L745.55 1560.5L749.96 1559.4L754.04 1557.4L757.64 1554.2L761.94 1552.7L766.03 1550.7L769.36 1546.9L773.3 1544.5L777.38 1542.4L781.58 1540.6L784.88 1536.7L788.64 1533.9L792.86 1532.1L797.21 1530.5L800.6 1526.9L803.35 1522L807.26 1519.4L811.88 1518.3L816.22 1516.8L820.47 1515.3L824.21 1512.4L827.64 1508.8L831.84 1507.1L835.91 1505.2L839.77 1502.7L843.84 1500.8L848.21 1499.9L852.01 1497.1L855.84 1494.3L860.17 1493.4L864.47 1492.7L868.57 1490.9L872.71 1489.4L877.08 1489.2L881.51 1489.6L885.73 1488.7L889.92 1487.6L894.2 1487.5L898.32 1484.8L902.56 1483.2L906.88 1483.8L911.18 1483.7L915.46 1483.4L919.77 1484.2L924.05 1483.5L928.33 1483.3L932.59 1482.4L936.87 1482.2L941.22 1484.4L945.5 1483.9L949.76 1483.3L954.08 1483.7L958.32 1482.6L962.61 1482.5L966.9 1482.5L971.18 1482.5L975.46 1481.7L979.75 1480.4L984.05 1480.4L988.33 1481.1L992.59 1482.3L996.88 1482.5L1001.18 1482.1L1005.46 1482.4L1009.7 1483.8L1014 1483.4L1018.24 1484.5L1022.58 1483.8L1026.95 1483.5L1031.02 1485.8L1035.15 1487.3L1039.57 1487.3L1043.79 1488.4L1047.99 1489.7L1051.88 1492.3L1055.71 1494.8L1060.03 1496.1L1063.85 1498.8L1067.73 1501.4L1071.66 1503.8L1075.45 1506.6L1079.49 1508.8L1083.19 1511.7L1086.83 1514.8L1090.66 1517.5L1094.27 1520.6L1098.34 1522.9L1102.76 1524.4L1106.46 1527.4L1109.75 1531.2L1113.34 1534.5L1116.87 1537.8L1120.36 1541.2L1124.31 1543.8L1128.23 1546.4L1132.26 1548.7L1135.62 1552.4L1139.41 1555.2L1143.72 1556.9L1147.72 1559.2L1151.38 1562.2L1154.58 1566.3L1158.34 1569.1L1163.05 1569.7L1166.99 1572L1170.54 1575.4L1174.35 1578.1L1178.35 1580.3L1182.64 1581.6L1186.59 1583.8L1190.71 1585.5L1195.27 1585.7L1199.26 1587.8L1203.15 1590.2L1206.98 1593L1210.95 1595.3L1215.46 1595.2L1219.67 1596.3L1223.75 1598.1L1228.17 1598.1L1232.58 1598L1236.58 1600.2L1240.63 1602.4L1244.93 1602.8L1249.4 1601.5L1253.54 1603.2L1257.69 1604.9L1262 1605L1266.23 1605.9L1270.52 1606.1L1274.71 1607.5L1278.95 1608.4L1283.27 1608.2L1287.53 1608.9L1291.8 1609.4L1296.14 1608.4L1300.4 1609L1304.66 1609.7L1308.99 1608.8L1313.26 1609.2L1317.49 1610.8L1321.78 1610.8L1326.04 1612L1330.31 1613.4L1334.63 1612L1338.92 1611.7L1343.2 1613.3L1347.49 1612.2L1351.77 1610.5L1356.06 1610.6L1360.34 1610.1L1364.63 1609.6L1368.92 1610.9L1373.2 1611.2L1377.49 1611.4L1381.77 1611.9L1386.06 1611L1390.34 1610.8L1394.63 1611.1L1398.92 1610.7L1403.2 1610.4L1407.49 1611.2L1411.77 1611.4L1416.06 1611.6L1420.35 1612.3L1424.63 1612.7L1428.92 1611L1433.2 1610.1L1437.49 1610.7L1441.77 1611.3L1446.06 1612.1L1450.34 1611.1L1454.63 1610.5L1458.92 1611.3L1463.2 1612.4L1467.49 1613L1471.77 1611.3L1476.06 1610.6L1480.34 1610.6L1484.63 1611.6L1488.92 1612.1L1493.2 1611.3L1497.49 1610.7L1501.77 1611.2L1506.06 1612.2L1510.35 1611.2L1514.63 1610.7L1518.92 1611.2L1523.2 1611.4" fill="none" stroke="#20d020" stroke-width="2.2" stroke-linejoin="round" />
<path d="M364.5 1611.8L365.93 1611.8L367.36 1611.8L368.79 1611.8L370.21 1611.8L371.64 1611.8L373.07 1611.8L374.5 1611.8L375.93 1611.8L377.36 1611.8L378.79 1611.8L380.21 1611.8L381.64 1611.8L383.07 1611.8L384.5 1611.8L385.93 1611.8L387.36 1611.8L388.79 1611.8L390.21 1611.8L391.64 1611.8L393.07 1611.8L394.5 1611.8L395.93 1611.8L397.36 1611.8L398.79 1611.8L400.21 1611.8L401.64 1611.8L403.07 1611.8L404.5 1611.8L405.93 1611.8L407.36 1611.8L408.79 1611.8L410.21 1611.8L411.64 1611.8L413.07 1611.8L414.5 1611.8L415.93 1611.8L417.36 1611.8L418.79 1611.8L420.21 1611.8L421.64 1611.8L423.07 1611.8L424.5 1611.8L425.93 1611.8L427.36 1611.8L428.79 1611.8L430.21 1611.8L431.64 1611.8L433.07 1611.8L434.5 1611.8L435.93 1611.8L437.36 1611.8L438.79 1611.8L440.21 1611.8L441.64 1611.8L443.07 1611.8L444.5 1611.8L445.93 1611.8L447.36 1611.8L448.79 1611.8L450.21 1611.8L451.64 1611.8L453.07 1611.8L454.5 1611.8L455.93 1611.8L457.36 1611.8L458.79 1611.8L460.21 1611.8L461.64 1611.8L463.07 1611.8L464.5 1611.8L465.93 1611.8L467.36 1611.8L468.79 1611.8L470.21 1611.8L471.64 1611.8L473.07 1611.8L474.5 1611.8L475.93 1611.8L477.36 1611.8L478.79 1611.8L480.21 1611.8L481.64 1611.8L483.07 1611.8L484.5 1611.8L485.93 1611.8L487.36 1611.8L488.79 1611.8L490.21 1611.8L491.64 1611.8L493.07 1611.8L494.5 1611.8L495.93 1611.8L497.36 1611.8L498.79 1611.8L500.21 1611.8L501.64 1611.8L503.07 1611.8L504.5 1611.8L505.93 1611.8L507.36 1611.8L508.79 1611.8L510.21 1611.8L511.64 1611.8L513.07 1611.8L514.5 1611.8L515.93 1611.8L517.36 1611.8L518.79 1611.8L520.21 1611.8L521.64 1611.8L523.07 1611.7L524.5 1611.7L525.93 1611.7L527.36 1611.7L528.79 1611.6L530.21 1611.6L531.64 1611.6L533.07 1611.5L534.5 1611.5L535.93 1611.5L537.36 1611.4L538.79 1611.4L540.21 1611.3L541.64 1611.3L543.07 1611.2L544.5 1611.2L545.93 1611.1L547.36 1611.1L548.79 1611L550.21 1610.9L551.64 1610.9L553.07 1610.8L554.5 1610.8L555.93 1610.7L557.36 1610.7L558.79 1610.6L560.21 1610.5L561.64 1610.5L563.07 1610.4L564.5 1610.3L565.93 1610.2L567.36 1610.2L568.79 1610.1L570.21 1610L571.64 1609.9L573.07 1609.7L574.5 1609.6L575.93 1609.5L577.36 1609.4L578.79 1609.3L580.21 1609.1L581.64 1609L583.07 1608.8L584.5 1608.7L585.93 1608.5L587.36 1608.4L588.79 1608.2L590.21 1608.1L591.64 1607.9L593.07 1607.7L594.5 1607.6L595.93 1607.4L597.36 1607.2L598.79 1607L600.21 1606.9L601.64 1606.7L603.07 1606.5L604.5 1606.3L605.93 1606.1L607.36 1605.9L608.79 1605.7L610.21 1605.5L611.64 1605.3L613.07 1605.1L614.5 1604.9L615.93 1604.7L617.36 1604.4L618.79 1604.2L620.21 1603.9L621.64 1603.7L623.07 1603.4L624.5 1603.1L625.93 1602.9L627.36 1602.6L628.79 1602.3L630.21 1602L631.64 1601.7L633.07 1601.4L634.5 1601L635.93 1600.7L637.36 1600.4L638.79 1600.1L640.21 1599.7L641.64 1599.4L643.07 1599.1L644.5 1598.7L645.93 1598.4L647.36 1598.1L648.79 1597.7L650.21 1597.4L651.64 1597L653.07 1596.7L654.5 1596.3L655.93 1596L657.36 1595.6L658.79 1595.3L660.21 1595L661.64 1594.6L663.07 1594.3L664.5 1593.9L665.93 1593.6L667.36 1593.2L668.79 1592.9L670.21 1592.5L671.64 1592.1L673.07 1591.8L674.5 1591.4L675.93 1591L677.36 1590.7L678.79 1590.3L680.21 1589.9L681.64 1589.5L683.07 1589.1L684.5 1588.7L685.93 1588.3L687.36 1587.9L688.79 1587.4L690.21 1587L691.64 1586.6L693.07 1586.1L694.5 1585.7L695.93 1585.2L697.36 1584.7L698.79 1584.3L700.21 1583.8L701.64 1583.3L703.07 1582.8L704.5 1582.2L705.93 1581.7L707.36 1581.1L708.79 1580.6L710.21 1580L711.64 1579.4L713.07 1578.7L714.5 1578.1L715.93 1577.4L717.36 1576.8L718.79 1576.1L720.21 1575.4L721.64 1574.7L723.07 1574L724.5 1573.3L725.93 1572.6L727.36 1571.8L728.79 1571.1L730.21 1570.3L731.64 1569.6L733.07 1568.8L734.5 1568L735.93 1567.3L737.36 1566.5L738.79 1565.7L740.21 1564.9L741.64 1564.1L743.07 1563.4L744.5 1562.6L745.93 1561.8L747.36 1561L748.79 1560.2L750.21 1559.4L751.64 1558.6L753.07 1557.8L754.5 1557L755.93 1556.1L757.36 1555.3L758.79 1554.4L760.21 1553.6L761.64 1552.7L763.07 1551.8L764.5 1550.9L765.93 1550L767.36 1549.2L768.79 1548.3L770.21 1547.3L771.64 1546.4L773.07 1545.5L774.5 1544.6L775.93 1543.7L777.36 1542.7L778.79 1541.8L780.21 1540.9L781.64 1539.9L783.07 1539L784.5 1538L785.93 1537.1L787.36 1536.1L788.79 1535.2L790.21 1534.2L791.64 1533.3L793.07 1532.3L794.5 1531.4L795.93 1530.4L797.36 1529.4L798.79 1528.4L800.21 1527.3L801.64 1526.3L803.07 1525.3L804.5 1524.2L805.93 1523.2L807.36 1522.1L808.79 1521.1L810.21 1520.1L811.64 1519.1L813.07 1518.1L814.5 1517.2L815.93 1516.3L817.36 1515.4L818.79 1514.5L820.21 1513.6L821.64 1512.8L823.07 1511.9L824.5 1511.1L825.93 1510.2L827.36 1509.4L828.79 1508.6L830.21 1507.8L831.64 1507L833.07 1506.3L834.5 1505.5L835.93 1504.8L837.36 1504.1L838.79 1503.4L840.21 1502.7L841.64 1502L843.07 1501.3L844.5 1500.6L845.93 1500L847.36 1499.3L848.79 1498.6L850.21 1498L851.64 1497.4L853.07 1496.8L854.5 1496.2L855.93 1495.6L857.36 1495.1L858.79 1494.6L860.21 1494.1L861.64 1493.7L863.07 1493.3L864.5 1492.8L865.93 1492.4L867.36 1492L868.79 1491.6L870.21 1491.2L871.64 1490.9L873.07 1490.5L874.5 1490.1L875.93 1489.8L877.36 1489.4L878.79 1489.1L880.21 1488.7L881.64 1488.4L883.07 1488.1L884.5 1487.8L885.93 1487.5L887.36 1487.3L888.79 1487L890.21 1486.8L891.64 1486.6L893.07 1486.4L894.5 1486.2L895.93 1486L897.36 1485.9L898.79 1485.8L900.21 1485.7L901.64 1485.6L903.07 1485.5L904.5 1485.4L905.93 1485.3L907.36 1485.3L908.79 1485.2L910.21 1485.1L911.64 1485.1L913.07 1485L914.5 1485L915.93 1484.9L917.36 1484.8L918.79 1484.8L920.21 1484.7L921.64 1484.7L923.07 1484.7L924.5 1484.6L925.93 1484.6L927.36 1484.5L928.79 1484.5L930.21 1484.4L931.64 1484.4L933.07 1484.3L934.5 1484.3L935.93 1484.2L937.36 1484.2L938.79 1484.1L940.21 1484L941.64 1484L943.07 1483.9L944.5 1483.8L945.93 1483.7L947.36 1483.6L948.79 1483.5L950.21 1483.4L951.64 1483.3L953.07 1483.2L954.5 1483.1L955.93 1483L957.36 1482.8L958.79 1482.7L960.21 1482.6L961.64 1482.5L963.07 1482.4L964.5 1482.3L965.93 1482.2L967.36 1482.2L968.79 1482.1L970.21 1482.1L971.64 1482L973.07 1482L974.5 1482L975.93 1482L977.36 1482L978.79 1482L980.21 1482L981.64 1482.1L983.07 1482.1L984.5 1482.1L985.93 1482.1L987.36 1482.2L988.79 1482.2L990.21 1482.3L991.64 1482.3L993.07 1482.4L994.5 1482.4L995.93 1482.5L997.36 1482.5L998.79 1482.6L1000.21 1482.7L1001.64 1482.7L1003.07 1482.8L1004.5 1482.9L1005.93 1483L1007.36 1483.1L1008.79 1483.1L1010.21 1483.2L1011.64 1483.3L1013.07 1483.4L1014.5 1483.5L1015.93 1483.6L1017.36 1483.7L1018.79 1483.8L1020.21 1483.9L1021.64 1484.1L1023.07 1484.2L1024.5 1484.4L1025.93 1484.6L1027.36 1484.9L1028.79 1485.1L1030.21 1485.4L1031.64 1485.8L1033.07 1486.1L1034.5 1486.4L1035.93 1486.8L1037.36 1487.2L1038.79 1487.6L1040.21 1488L1041.64 1488.5L1043.07 1488.9L1044.5 1489.4L1045.93 1489.9L1047.36 1490.3L1048.79 1490.8L1050.21 1491.4L1051.64 1492L1053.07 1492.7L1054.5 1493.5L1055.93 1494.2L1057.36 1495L1058.79 1495.9L1060.21 1496.8L1061.64 1497.7L1063.07 1498.6L1064.5 1499.5L1065.93 1500.5L1067.36 1501.4L1068.79 1502.4L1070.21 1503.4L1071.64 1504.3L1073.07 1505.2L1074.5 1506.2L1075.93 1507.1L1077.36 1508L1078.79 1508.9L1080.21 1509.9L1081.64 1510.8L1083.07 1511.8L1084.5 1512.8L1085.93 1513.8L1087.36 1514.8L1088.79 1515.8L1090.21 1516.8L1091.64 1517.8L1093.07 1518.8L1094.5 1519.9L1095.93 1520.9L1097.36 1522L1098.79 1523L1100.21 1524.1L1101.64 1525.2L1103.07 1526.3L1104.5 1527.4L1105.93 1528.5L1107.36 1529.6L1108.79 1530.8L1110.21 1532L1111.64 1533.2L1113.07 1534.4L1114.5 1535.6L1115.93 1536.8L1117.36 1538L1118.79 1539.2L1120.21 1540.4L1121.64 1541.6L1123.07 1542.7L1124.5 1543.9L1125.93 1545L1127.36 1546.2L1128.79 1547.3L1130.21 1548.3L1131.64 1549.4L1133.07 1550.5L1134.5 1551.5L1135.93 1552.6L1137.36 1553.6L1138.79 1554.7L1140.21 1555.7L1141.64 1556.7L1143.07 1557.7L1144.5 1558.7L1145.93 1559.7L1147.36 1560.7L1148.79 1561.7L1150.21 1562.6L1151.64 1563.6L1153.07 1564.5L1154.5 1565.5L1155.93 1566.4L1157.36 1567.3L1158.79 1568.2L1160.21 1569.1L1161.64 1570L1163.07 1570.9L1164.5 1571.8L1165.93 1572.7L1167.36 1573.6L1168.79 1574.4L1170.21 1575.3L1171.64 1576.1L1173.07 1577L1174.5 1577.8L1175.93 1578.6L1177.36 1579.4L1178.79 1580.2L1180.21 1580.9L1181.64 1581.7L1183.07 1582.4L1184.5 1583.1L1185.93 1583.8L1187.36 1584.5L1188.79 1585.2L1190.21 1585.8L1191.64 1586.5L1193.07 1587.1L1194.5 1587.8L1195.93 1588.4L1197.36 1589L1198.79 1589.7L1200.21 1590.2L1201.64 1590.8L1203.07 1591.4L1204.5 1592L1205.93 1592.5L1207.36 1593L1208.79 1593.5L1210.21 1594L1211.64 1594.5L1213.07 1595L1214.5 1595.4L1215.93 1595.9L1217.36 1596.3L1218.79 1596.8L1220.21 1597.2L1221.64 1597.6L1223.07 1598.1L1224.5 1598.5L1225.93 1598.9L1227.36 1599.3L1228.79 1599.7L1230.21 1600.1L1231.64 1600.5L1233.07 1600.8L1234.5 1601.2L1235.93 1601.5L1237.36 1601.9L1238.79 1602.2L1240.21 1602.5L1241.64 1602.8L1243.07 1603.1L1244.5 1603.4L1245.93 1603.7L1247.36 1604L1248.79 1604.2L1250.21 1604.4L1251.64 1604.7L1253.07 1604.9L1254.5 1605.1L1255.93 1605.4L1257.36 1605.6L1258.79 1605.8L1260.21 1606L1261.64 1606.3L1263.07 1606.5L1264.5 1606.7L1265.93 1606.9L1267.36 1607.1L1268.79 1607.3L1270.21 1607.5L1271.64 1607.6L1273.07 1607.8L1274.5 1608L1275.93 1608.2L1277.36 1608.3L1278.79 1608.5L1280.21 1608.6L1281.64 1608.8L1283.07 1608.9L1284.5 1609.1L1285.93 1609.2L1287.36 1609.3L1288.79 1609.4L1290.21 1609.5L1291.64 1609.6L1293.07 1609.7L1294.5 1609.8L1295.93 1609.9L1297.36 1610L1298.79 1610.1L1300.21 1610.2L1301.64 1610.3L1303.07 1610.4L1304.5 1610.5L1305.93 1610.6L1307.36 1610.7L1308.79 1610.7L1310.21 1610.8L1311.64 1610.9L1313.07 1611L1314.5 1611.1L1315.93 1611.1L1317.36 1611.2L1318.79 1611.3L1320.21 1611.3L1321.64 1611.4L1323.07 1611.5L1324.5 1611.5L1325.93 1611.6L1327.36 1611.6L1328.79 1611.6L1330.21 1611.7L1331.64 1611.7L1333.07 1611.7L1334.5 1611.8L1335.93 1611.8L1337.36 1611.8L1338.79 1611.8L1340.21 1611.8L1341.64 1611.8L1343.07 1611.8L1344.5 1611.8L1345.93 1611.8L1347.36 1611.8L1348.79 1611.8L1350.21 1611.8L1351.64 1611.8L1353.07 1611.8L1354.5 1611.8L1355.93 1611.8L1357.36 1611.8L1358.79 1611.8L1360.21 1611.8L1361.64 1611.8L1363.07 1611.8L1364.5 1611.8L1365.93 1611.8L1367.36 1611.8L1368.79 1611.8L1370.21 1611.8L1371.64 1611.8L1373.07 1611.8L1374.5 1611.8L1375.93 1611.8L1377.36 1611.8L1378.79 1611.8L1380.21 1611.8L1381.64 1611.8L1383.07 1611.8L1384.5 1611.8L1385.93 1611.8L1387.36 1611.8L1388.79 1611.8L1390.21 1611.8L1391.64 1611.8L1393.07 1611.8L1394.5 1611.8L1395.93 1611.8L1397.36 1611.8L1398.79 1611.8L1400.21 1611.8L1401.64 1611.8L1403.07 1611.8L1404.5 1611.8L1405.93 1611.8L1407.36 1611.8L1408.79 1611.8L1410.21 1611.8L1411.64 1611.8L1413.07 1611.8L1414.5 1611.8L1415.93 1611.8L1417.36 1611.8L1418.79 1611.8L1420.21 1611.8L1421.64 1611.8L1423.07 1611.8L1424.5 1611.8L1425.93 1611.8L1427.36 1611.8L1428.79 1611.8L1430.21 1611.8L1431.64 1611.8L1433.07 1611.8L1434.5 1611.8L1435.93 1611.8L1437.36 1611.8L1438.79 1611.8L1440.21 1611.8L1441.64 1611.8L1443.07 1611.8L1444.5 1611.8L1445.93 1611.8L1447.36 1611.8L1448.79 1611.8L1450.21 1611.8L1451.64 1611.8L1453.07 1611.8L1454.5 1611.8L1455.93 1611.8L1457.36 1611.8L1458.79 1611.8L1460.21 1611.8L1461.64 1611.8L1463.07 1611.8L1464.5 1611.8L1465.93 1611.8L1467.36 1611.8L1468.79 1611.8L1470.21 1611.8L1471.64 1611.8L1473.07 1611.8L1474.5 1611.8L1475.93 1611.8L1477.36 1611.8L1478.79 1611.8L1480.21 1611.8L1481.64 1611.8L1483.07 1611.8L1484.5 1611.8L1485.93 1611.8L1487.36 1611.8L1488.79 1611.8L1490.21 1611.8L1491.64 1611.8L1493.07 1611.8L1494.5 1611.8L1495.93 1611.8L1497.36 1611.8L1498.79 1611.8L1500.21 1611.8L1501.64 1611.8L1503.07 1611.8L1504.5 1611.8L1505.93 1611.8L1507.36 1611.8L1508.79 1611.8L1510.21 1611.8L1511.64 1611.8L1513.07 1611.8L1514.5 1611.8L1515.93 1611.8L1517.36 1611.8L1518.79 1611.8L1520.21 1611.8L1521.64 1611.8L1523.07 1611.8L1524.43 1611.8" fill="none" stroke="#ff4612" stroke-width="2.4" stroke-linejoin="round" />
<path d="M457.14 2066.4L1285.71 2066.4" fill="none" stroke="#62a0a8" stroke-width="2.8" stroke-dasharray="12.1 8.6"/>
<path d="M590 2041.6L591.43 2041.2L592.86 2040.8L594.29 2040.3L595.71 2039.9L597.14 2039.4L598.57 2039L600 2038.5L601.43 2038L602.86 2037.6L604.29 2037.1L605.71 2036.6L607.14 2036L608.57 2035.5L610 2035L611.43 2034.4L612.86 2033.9L614.29 2033.3L615.71 2032.7L617.14 2032.1L618.57 2031.5L620 2030.8L621.43 2030.1L622.86 2029.5L624.29 2028.8L625.71 2028L627.14 2027.2L628.57 2026.4L630 2025.5L631.43 2024.6L632.86 2023.6L634.29 2022.6L635.71 2021.5L637.14 2020.4L638.57 2019.3L640 2018.1L641.43 2017L642.86 2015.7L644.29 2014.5L645.71 2013.3L647.14 2012L648.57 2010.7L650 2009.5L651.43 2008.2L652.86 2006.9L654.29 2005.6L655.71 2004.3L657.14 2003L658.57 2001.7L660 2000.4L661.43 1999.1L662.86 1997.9L664.29 1996.6L665.71 1995.3L667.14 1993.9L668.57 1992.6L670 1991.3L671.43 1989.9L672.86 1988.5L674.29 1987.1L675.71 1985.7L677.14 1984.3L678.57 1982.8L680 1981.3L681.43 1979.9L682.86 1978.3L684.29 1976.8L685.71 1975.3L687.14 1973.7L688.57 1972.2L690 1970.6L691.43 1968.9L692.86 1967.2L694.29 1965.5L695.71 1963.8L697.14 1962L698.57 1960.3L700 1958.5L701.43 1956.6L702.86 1954.8L704.29 1952.9L705.71 1951.1L707.14 1949.2L708.57 1947.3L710 1945.4L711.43 1943.5L712.86 1941.6L714.29 1939.8L715.71 1937.9L717.14 1936L718.57 1934.1L720 1932.2L721.43 1930.3L722.86 1928.3L724.29 1926.4L725.71 1924.4L727.14 1922.5L728.57 1920.5L730 1918.5L731.43 1916.6L732.86 1914.6L734.29 1912.6L735.71 1910.7L737.14 1908.7L738.57 1906.8L740 1904.8L741.43 1902.9L742.86 1901L744.29 1899L745.71 1897.1L747.14 1895.2L748.57 1893.2L750 1891.3L751.43 1889.3L752.86 1887.4L754.29 1885.5L755.71 1883.5L757.14 1881.6L758.57 1879.7L760 1877.8L761.43 1876L762.86 1874.2L764.29 1872.4L765.71 1870.6L767.14 1868.9L768.57 1867.2L770 1865.5L771.43 1863.9L772.86 1862.3L774.29 1860.7L775.71 1859.2L777.14 1857.6L778.57 1856.1L780 1854.6L781.43 1853.1L782.86 1851.7L784.29 1850.3L785.71 1849L787.14 1847.7L788.57 1846.4L790 1845.2L791.43 1844.1L792.86 1843L794.29 1842L795.71 1841.1L797.14 1840.1L798.57 1839.3L800 1838.4L801.43 1837.6L802.86 1836.9L804.29 1836.2L805.71 1835.5L807.14 1834.9L808.57 1834.3L810 1833.8L811.43 1833.3L812.86 1832.8L814.29 1832.4L815.71 1832.1L817.14 1831.7L818.57 1831.4L820 1831.1L821.43 1830.8L822.86 1830.6L824.29 1830.4L825.71 1830.3L827.14 1830.2L828.57 1830.1L830 1830L831.43 1830L832.86 1830.1L834.29 1830.2L835.71 1830.3L837.14 1830.4L838.57 1830.7L840 1830.9L841.43 1831.2L842.86 1831.4L844.29 1831.7L845.71 1832.1L847.14 1832.4L848.57 1832.8L850 1833.2L851.43 1833.6L852.86 1834.1L854.29 1834.7L855.71 1835.3L857.14 1836L858.57 1836.7L860 1837.5L861.43 1838.4L862.86 1839.3L864.29 1840.2L865.71 1841.2L867.14 1842.2L868.57 1843.2L870 1844.2L871.43 1845.2L872.86 1846.2L874.29 1847.3L875.71 1848.4L877.14 1849.5L878.57 1850.7L880 1851.9L881.43 1853.1L882.86 1854.3L884.29 1855.6L885.71 1857L887.14 1858.4L888.57 1859.8L890 1861.3L891.43 1862.9L892.86 1864.5L894.29 1866.2L895.71 1868L897.14 1869.8L898.57 1871.6L900 1873.4L901.43 1875.3L902.86 1877.2L904.29 1879.1L905.71 1880.9L907.14 1882.7L908.57 1884.5L910 1886.3L911.43 1888.1L912.86 1889.9L914.29 1891.7L915.71 1893.4L917.14 1895.2L918.57 1897L920 1898.7L921.43 1900.5L922.86 1902.3L924.29 1904.1L925.71 1905.8L927.14 1907.6L928.57 1909.4L930 1911.2L931.43 1913L932.86 1914.8L934.29 1916.7L935.71 1918.5L937.14 1920.4L938.57 1922.2L940 1924.1L941.43 1926L942.86 1927.9L944.29 1929.7L945.71 1931.6L947.14 1933.5L948.57 1935.4L950 1937.2L951.43 1939.1L952.86 1941L954.29 1942.8L955.71 1944.6L957.14 1946.5L958.57 1948.4L960 1950.2L961.43 1952.1L962.86 1954L964.29 1955.8L965.71 1957.7L967.14 1959.5L968.57 1961.4L970 1963.2L971.43 1965L972.86 1966.8L974.29 1968.5L975.71 1970.2L977.14 1971.9L978.57 1973.6L980 1975.3L981.43 1976.9L982.86 1978.6L984.29 1980.2L985.71 1981.8L987.14 1983.3L988.57 1984.9L990 1986.5L991.43 1988L992.86 1989.5L994.29 1991L995.71 1992.4L997.14 1993.9L998.57 1995.3L1000 1996.7L1001.43 1998.1L1002.86 1999.4L1004.29 2000.8L1005.71 2002.1L1007.14 2003.4L1008.57 2004.6L1010 2005.9L1011.43 2007.1L1012.86 2008.4L1014.29 2009.6L1015.71 2010.8L1017.14 2011.9L1018.57 2013.1L1020 2014.3L1021.43 2015.4L1022.86 2016.6L1024.29 2017.7L1025.71 2018.8L1027.14 2019.9L1028.57 2021L1030 2022.1L1031.43 2023.2L1032.86 2024.2L1034.29 2025.3L1035.71 2026.3L1037.14 2027.3L1038.57 2028.4L1040 2029.3L1041.43 2030.3L1042.86 2031.3L1044.29 2032.2L1045.71 2033.2L1047.14 2034.1L1048.57 2035.1L1050 2036L1051.43 2036.9L1052.86 2037.8L1054.29 2038.7L1055.71 2039.6L1057.14 2040.4L1058.57 2041.3L1060 2042.1L1061.43 2042.9L1062.86 2043.7L1064.29 2044.4L1065.71 2045.2L1067.14 2045.9L1068.57 2046.5L1070 2047.2L1071.43 2047.8L1072.86 2048.4L1074.29 2049L1075.71 2049.6L1077.14 2050.1L1078.57 2050.7L1080 2051.2L1081.43 2051.7L1082.86 2052.2L1084.29 2052.7L1085.71 2053.2L1087.14 2053.6L1088.57 2054.1L1090 2054.5L1091.43 2054.9L1092.86 2055.3L1094.29 2055.7L1095.71 2056.1L1097.14 2056.5L1098.57 2056.8L1100 2057.2L1101.43 2057.5L1102.86 2057.8L1104.29 2058.2L1105.71 2058.5L1107.14 2058.8L1108.57 2059L1110 2059.3L1111.43 2059.6L1112.86 2059.8L1114.29 2060.1L1115.71 2060.3L1117.14 2060.6L1118.57 2060.8L1120 2061L1121.43 2061.2L1122.86 2061.4L1124.29 2061.6L1125.71 2061.8L1127.14 2062L1128.57 2062.2L1130 2062.3L1131.43 2062.5L1132.86 2062.7L1134.29 2062.8L1135.71 2062.9L1137.14 2063.1L1138.57 2063.2L1140 2063.3L1141.43 2063.4L1142.86 2063.6L1144.29 2063.7L1145.71 2063.8L1147.14 2063.9" fill="none" stroke="#6c6c6c" stroke-width="2.6" stroke-dasharray="0.1 10" stroke-linecap="round"/>
<path d="M600 2063.9L601.43 2063.8L602.86 2063.7L604.29 2063.7L605.71 2063.6L607.14 2063.5L608.57 2063.4L610 2063.3L611.43 2063.2L612.86 2063.1L614.29 2063L615.71 2062.9L617.14 2062.8L618.57 2062.7L620 2062.6L621.43 2062.5L622.86 2062.4L624.29 2062.2L625.71 2062.1L627.14 2062L628.57 2061.8L630 2061.7L631.43 2061.5L632.86 2061.3L634.29 2061.1L635.71 2060.9L637.14 2060.7L638.57 2060.5L640 2060.3L641.43 2060.1L642.86 2059.9L644.29 2059.6L645.71 2059.4L647.14 2059.1L648.57 2058.8L650 2058.6L651.43 2058.3L652.86 2058L654.29 2057.7L655.71 2057.4L657.14 2057.1L658.57 2056.8L660 2056.5L661.43 2056.2L662.86 2055.9L664.29 2055.6L665.71 2055.2L667.14 2054.9L668.57 2054.5L670 2054.1L671.43 2053.8L672.86 2053.4L674.29 2053L675.71 2052.6L677.14 2052.2L678.57 2051.7L680 2051.3L681.43 2050.8L682.86 2050.4L684.29 2049.9L685.71 2049.4L687.14 2048.9L688.57 2048.4L690 2047.8L691.43 2047.3L692.86 2046.7L694.29 2046.1L695.71 2045.5L697.14 2044.9L698.57 2044.2L700 2043.6L701.43 2042.9L702.86 2042.2L704.29 2041.5L705.71 2040.8L707.14 2040L708.57 2039.2L710 2038.5L711.43 2037.7L712.86 2036.9L714.29 2036L715.71 2035.2L717.14 2034.3L718.57 2033.5L720 2032.6L721.43 2031.7L722.86 2030.7L724.29 2029.8L725.71 2028.8L727.14 2027.8L728.57 2026.7L730 2025.7L731.43 2024.6L732.86 2023.5L734.29 2022.4L735.71 2021.3L737.14 2020.2L738.57 2019L740 2017.8L741.43 2016.6L742.86 2015.4L744.29 2014.1L745.71 2012.8L747.14 2011.5L748.57 2010.2L750 2008.8L751.43 2007.5L752.86 2006L754.29 2004.6L755.71 2003.2L757.14 2001.7L758.57 2000.2L760 1998.6L761.43 1997.1L762.86 1995.5L764.29 1993.9L765.71 1992.3L767.14 1990.7L768.57 1989.1L770 1987.4L771.43 1985.8L772.86 1984.1L774.29 1982.4L775.71 1980.7L777.14 1978.9L778.57 1977.1L780 1975.3L781.43 1973.5L782.86 1971.7L784.29 1969.8L785.71 1968L787.14 1966.1L788.57 1964.2L790 1962.3L791.43 1960.4L792.86 1958.5L794.29 1956.6L795.71 1954.7L797.14 1952.8L798.57 1950.9L800 1948.9L801.43 1947L802.86 1945L804.29 1943.1L805.71 1941.1L807.14 1939.1L808.57 1937.1L810 1935.1L811.43 1933.1L812.86 1931.1L814.29 1929.1L815.71 1927L817.14 1925L818.57 1922.9L820 1920.9L821.43 1918.8L822.86 1916.7L824.29 1914.6L825.71 1912.5L827.14 1910.4L828.57 1908.3L830 1906.2L831.43 1904.1L832.86 1901.9L834.29 1899.8L835.71 1897.7L837.14 1895.6L838.57 1893.5L840 1891.4L841.43 1889.2L842.86 1887.1L844.29 1884.9L845.71 1882.8L847.14 1880.6L848.57 1878.4L850 1876.3L851.43 1874.1L852.86 1872L854.29 1869.8L855.71 1867.7L857.14 1865.7L858.57 1863.6L860 1861.6L861.43 1859.7L862.86 1857.8L864.29 1855.9L865.71 1854L867.14 1852L868.57 1850.1L870 1848.2L871.43 1846.3L872.86 1844.4L874.29 1842.5L875.71 1840.6L877.14 1838.7L878.57 1836.9L880 1835.1L881.43 1833.3L882.86 1831.6L884.29 1829.9L885.71 1828.2L887.14 1826.6L888.57 1825L890 1823.5L891.43 1822.1L892.86 1820.8L894.29 1819.6L895.71 1818.4L897.14 1817.3L898.57 1816.3L900 1815.3L901.43 1814.4L902.86 1813.4L904.29 1812.5L905.71 1811.6L907.14 1810.7L908.57 1809.8L910 1808.8L911.43 1807.9L912.86 1807L914.29 1806.1L915.71 1805.2L917.14 1804.3L918.57 1803.5L920 1802.7L921.43 1801.9L922.86 1801.1L924.29 1800.4L925.71 1799.7L927.14 1799.1L928.57 1798.5L930 1797.9L931.43 1797.4L932.86 1796.9L934.29 1796.5L935.71 1796.1L937.14 1795.8L938.57 1795.6L940 1795.4L941.43 1795.3L942.86 1795.3L944.29 1795.3L945.71 1795.3L947.14 1795.4L948.57 1795.5L950 1795.7L951.43 1795.9L952.86 1796.1L954.29 1796.4L955.71 1796.8L957.14 1797.2L958.57 1797.7L960 1798.3L961.43 1798.9L962.86 1799.6L964.29 1800.4L965.71 1801.2L967.14 1802.1L968.57 1803L970 1804L971.43 1804.9L972.86 1805.9L974.29 1806.9L975.71 1807.9L977.14 1808.9L978.57 1810L980 1811L981.43 1812.2L982.86 1813.3L984.29 1814.5L985.71 1815.7L987.14 1816.9L988.57 1818.2L990 1819.5L991.43 1820.8L992.86 1822.1L994.29 1823.4L995.71 1824.8L997.14 1826.2L998.57 1827.6L1000 1829L1001.43 1830.4L1002.86 1831.8L1004.29 1833.2L1005.71 1834.6L1007.14 1836.1L1008.57 1837.5L1010 1839L1011.43 1840.5L1012.86 1842L1014.29 1843.6L1015.71 1845.2L1017.14 1846.8L1018.57 1848.5L1020 1850.2L1021.43 1852L1022.86 1853.8L1024.29 1855.7L1025.71 1857.6L1027.14 1859.6L1028.57 1861.6L1030 1863.6L1031.43 1865.7L1032.86 1867.8L1034.29 1870L1035.71 1872.2L1037.14 1874.5L1038.57 1876.7L1040 1879L1041.43 1881.4L1042.86 1883.8L1044.29 1886.2L1045.71 1888.6L1047.14 1891.2L1048.57 1893.8L1050 1896.5L1051.43 1899.2L1052.86 1902L1054.29 1904.9L1055.71 1907.8L1057.14 1910.7L1058.57 1913.6L1060 1916.4L1061.43 1919.3L1062.86 1922.1L1064.29 1924.9L1065.71 1927.6L1067.14 1930.2L1068.57 1932.7L1070 1935.2L1071.43 1937.7L1072.86 1940.1L1074.29 1942.5L1075.71 1944.8L1077.14 1947.2L1078.57 1949.5L1080 1951.8L1081.43 1954L1082.86 1956.3L1084.29 1958.5L1085.71 1960.7L1087.14 1962.8L1088.57 1964.9L1090 1967L1091.43 1969.1L1092.86 1971.1L1094.29 1973.2L1095.71 1975.2L1097.14 1977.2L1098.57 1979.1L1100 1981.1L1101.43 1983L1102.86 1984.9L1104.29 1986.8L1105.71 1988.6L1107.14 1990.5L1108.57 1992.2L1110 1994L1111.43 1995.7L1112.86 1997.3L1114.29 1999L1115.71 2000.6L1117.14 2002.2L1118.57 2003.7L1120 2005.3L1121.43 2006.8L1122.86 2008.3L1124.29 2009.8L1125.71 2011.2L1127.14 2012.7L1128.57 2014L1130 2015.4L1131.43 2016.7L1132.86 2018L1134.29 2019.2L1135.71 2020.3L1137.14 2021.5L1138.57 2022.5L1140 2023.6L1141.43 2024.6L1142.86 2025.6L1144.29 2026.6L1145.71 2027.5L1147.14 2028.4L1148.57 2029.3L1150 2030.2L1151.43 2031.1L1152.86 2031.9L1154.29 2032.7L1155.71 2033.5" fill="none" stroke="#6c6c6c" stroke-width="2.6" stroke-dasharray="0.1 10" stroke-linecap="round"/>
<path d="M328.91 2063.6L333.2 2063.4L337.48 2063.4L341.77 2063.9L346.08 2066.1L350.35 2064.5L354.64 2064.9L358.95 2066.6L363.22 2065.3L367.49 2063.9L371.79 2064.7L376.09 2066L380.39 2067.2L384.67 2066.6L388.95 2066.4L393.22 2064.9L397.49 2063.2L401.76 2062.1L406.04 2062L410.34 2063L414.64 2063.9L418.91 2062.8L423.21 2063.7L427.51 2064L431.78 2062.9L436.06 2062.4L440.38 2064.7L444.67 2064.6L448.91 2062.4L453.17 2061.5L457.54 2063.8L461.81 2063L466.1 2062.8L470.47 2063.7L474.54 2060.1L478.89 2060.7L483.23 2061L487.37 2058.8L491.64 2058.3L496.02 2059.1L500.35 2059L504.62 2058.2L508.75 2056.4L513.15 2056.5L517.62 2056.9L521.94 2056.2L526.08 2054.5L530.36 2053.7L534.71 2053.2L538.72 2051L542.8 2049.2L546.97 2048.2L551.17 2047.2L555.42 2046.6L559.35 2043.6L563.51 2042.4L567.94 2043L571.85 2040.2L575.88 2038.2L580.58 2040.2L584.66 2038.5L588.63 2036.3L592.99 2036.1L597.09 2034.6L601.05 2032.4L605.18 2031.1L609.33 2029.8L613.37 2028.1L617.57 2026.9L622.08 2026.4L625.99 2024L630.03 2021.9L633.81 2019L637.29 2015.6L640.79 2012.3L643.86 2008.3L647.34 2004.7L650.88 2001.3L653.63 1996.7L657.36 1993.5L661.15 1990.3L664.36 1986.4L667.22 1982L669.36 1976.7L673.69 1974.1L677.35 1970.7L679.16 1965.1L682.81 1961.5L686.05 1957.5L689.21 1953.4L692.16 1949L695.27 1944.8L698 1940.1L700.47 1935.3L703.09 1930.5L706.12 1926.1L707.99 1920.7L710.88 1916.2L713.89 1911.7L715.81 1906.4L718.21 1901.5L720.67 1896.6L723.2 1891.7L726.09 1887.1L728.08 1881.8L730.58 1876.9L733.37 1872.2L735.64 1867.1L738.23 1862.3L740.15 1856.9L742.33 1851.8L745.48 1847.3L747.27 1841.9L748.83 1836.3L751.06 1831.2L753.5 1826.2L755.38 1820.8L757.4 1815.6L759.11 1810.1L761.17 1804.8L763.53 1799.8L765.68 1794.6L768.11 1789.6L770.93 1784.9L773.05 1779.7L774.65 1774.1L777.22 1769.2L779.8 1764.3L781.43 1758.8L783.87 1753.8L786.06 1748.7L788.22 1743.5L790.64 1738.5L793.61 1734L795.81 1728.9L798.06 1723.8L800.9 1719.2L803.92 1714.7L806.8 1710.2L808.58 1704.8L811.55 1700.3L814.5 1695.9L817.37 1691.4L820.32 1687L822.42 1681.8L825.04 1677.1L827.93 1672.7L831.03 1668.5L834.73 1664.9L837.46 1660.4L839.84 1655.4L844.11 1652.7L846.67 1647.9L849.31 1643.2L852.85 1639.7L855.77 1635.3L859.85 1632.8L864.22 1631.3L867.76 1628L871.46 1625L875.38 1622.6L879.03 1619.2L883.47 1618.5L887.81 1617.5L892.34 1617.1L896.33 1620L899.87 1623.4L904.19 1624.9L907.83 1628L911.18 1631.8L915.45 1633.3L919.74 1634.9L923.53 1637.7L927.43 1640.3L931.42 1642.9L934.5 1647L937.44 1651.3L941.17 1654.6L944.62 1658.3L947.75 1662.4L950.86 1666.6L953.95 1670.8L957.14 1675L959.06 1680.4L961.59 1685.2L964.37 1689.8L966.12 1695.3L969.1 1699.8L971.79 1704.5L974.79 1709L977.55 1713.6L979.37 1719L981.92 1723.8L985.13 1728.2L987.96 1732.8L989.73 1738.2L992.21 1743.1L994.38 1748.3L996.6 1753.4L999.42 1758L1001.98 1762.8L1004.11 1768L1006.71 1772.8L1009.82 1777.2L1012.1 1782.2L1014.54 1787.1L1017.16 1791.9L1019.27 1797.1L1021.58 1802.1L1023.77 1807.2L1026.4 1812L1029.13 1816.8L1031.45 1821.8L1033.43 1827.1L1035.95 1832.1L1038.31 1837.1L1040.6 1842.2L1042.89 1847.3L1044.85 1852.6L1045.94 1858.4L1048.44 1863.4L1050.93 1868.4L1052.87 1873.7L1055.01 1879L1057.02 1884.3L1058.33 1890L1060.7 1895.1L1062.63 1900.4L1064.66 1905.7L1067.64 1910.3L1070.24 1915.2L1072.45 1920.3L1075.03 1925.1L1076.76 1930.6L1078.93 1935.7L1081.57 1940.5L1084.7 1944.9L1087.12 1949.8L1089.78 1954.5L1091.55 1960L1094.5 1964.4L1097.79 1968.5L1100.44 1973.2L1103.63 1977.3L1106.75 1981.5L1109.72 1985.8L1112.27 1990.6L1115.71 1994.3L1119.09 1998.1L1121.96 2002.5L1125.42 2006.1L1129.35 2009.1L1132.96 2012.3L1136.15 2016.1L1139.8 2019.2L1142.98 2023.2L1146.67 2026.2L1150.75 2028.4L1154.95 2030.1L1158.61 2033.1L1162.53 2035.5L1166.84 2036.8L1170.87 2038.8L1174.1 2043.3L1178.42 2044.4L1183.04 2044.5L1186.7 2047.7L1190.59 2050.2L1195 2050.9L1198.95 2053.3L1203.44 2053.2L1207.77 2053.7L1212.03 2054.3L1215.94 2057.3L1220.1 2058.8L1224.19 2061L1228.51 2061.4L1232.91 2060.8L1237.3 2060L1241.65 2059.7L1245.86 2060.8L1250 2062.9L1254.33 2062.5L1258.75 2060.7L1262.89 2063.1L1267.08 2065.3L1271.43 2064L1275.71 2064.4L1279.95 2065.9L1284.22 2066.5L1288.57 2064.3L1292.86 2064.3L1297.13 2064.7L1301.4 2065.8L1305.68 2066.2L1309.99 2064.7L1314.27 2065.2L1318.54 2066.5L1322.84 2065L1327.14 2064L1331.41 2064.7L1335.69 2065.5L1339.98 2065.5L1344.27 2064.3L1348.56 2063.8L1352.83 2065.4L1357.11 2066.7L1361.4 2065.8L1365.69 2066L1369.96 2068.2L1374.25 2067.4L1378.54 2066L1382.83 2065.7L1387.11 2066.6L1391.4 2067.1L1395.68 2067L1399.97 2066.5L1404.25 2066.9L1408.54 2067.4L1412.83 2066.9L1417.11 2067.7L1421.4 2066.1L1425.68 2066.6L1429.97 2067.2L1434.25 2067.6L1438.53 2069.1L1442.82 2068.1L1447.11 2066.8L1451.4 2066.9L1455.68 2068.2L1459.97 2069.2L1464.25 2068.1L1468.54 2067.7L1472.82 2069L1477.11 2068.6L1481.4 2066.1L1485.68 2065.5" fill="none" stroke="#d80000" stroke-width="2.4" stroke-linejoin="round" />
<path d="M328.93 2066.4L330.36 2066.4L331.79 2066.4L333.21 2066.4L334.64 2066.4L336.07 2066.4L337.5 2066.4L338.93 2066.4L340.36 2066.4L341.79 2066.4L343.21 2066.4L344.64 2066.4L346.07 2066.4L347.5 2066.4L348.93 2066.4L350.36 2066.4L351.79 2066.4L353.21 2066.4L354.64 2066.4L356.07 2066.4L357.5 2066.4L358.93 2066.4L360.36 2066.4L361.79 2066.4L363.21 2066.4L364.64 2066.4L366.07 2066.4L367.5 2066.4L368.93 2066.4L370.36 2066.4L371.79 2066.3L373.21 2066.3L374.64 2066.3L376.07 2066.3L377.5 2066.3L378.93 2066.3L380.36 2066.3L381.79 2066.3L383.21 2066.3L384.64 2066.3L386.07 2066.3L387.5 2066.3L388.93 2066.3L390.36 2066.3L391.79 2066.3L393.21 2066.3L394.64 2066.3L396.07 2066.3L397.5 2066.3L398.93 2066.3L400.36 2066.2L401.79 2066.2L403.21 2066.2L404.64 2066.2L406.07 2066.2L407.5 2066.2L408.93 2066.2L410.36 2066.2L411.79 2066.2L413.21 2066.2L414.64 2066.2L416.07 2066.2L417.5 2066.2L418.93 2066.2L420.36 2066.1L421.79 2066.1L423.21 2066.1L424.64 2066.1L426.07 2066.1L427.5 2066.1L428.93 2066.1L430.36 2066.1L431.79 2066.1L433.21 2066.1L434.64 2066.1L436.07 2066L437.5 2066L438.93 2066L440.36 2066L441.79 2066L443.21 2066L444.64 2066L446.07 2066L447.5 2065.9L448.93 2065.9L450.36 2065.9L451.79 2065.8L453.21 2065.8L454.64 2065.7L456.07 2065.7L457.5 2065.6L458.93 2065.5L460.36 2065.5L461.79 2065.4L463.21 2065.3L464.64 2065.2L466.07 2065.2L467.5 2065.1L468.93 2065L470.36 2064.9L471.79 2064.8L473.21 2064.7L474.64 2064.6L476.07 2064.5L477.5 2064.4L478.93 2064.2L480.36 2064.1L481.79 2064L483.21 2063.9L484.64 2063.8L486.07 2063.6L487.5 2063.5L488.93 2063.4L490.36 2063.2L491.79 2063.1L493.21 2063L494.64 2062.8L496.07 2062.7L497.5 2062.5L498.93 2062.4L500.36 2062.2L501.79 2062L503.21 2061.8L504.64 2061.6L506.07 2061.4L507.5 2061.1L508.93 2060.9L510.36 2060.6L511.79 2060.3L513.21 2060L514.64 2059.7L516.07 2059.4L517.5 2059.1L518.93 2058.8L520.36 2058.5L521.79 2058.1L523.21 2057.8L524.64 2057.4L526.07 2057.1L527.5 2056.7L528.93 2056.4L530.36 2056L531.79 2055.7L533.21 2055.3L534.64 2055L536.07 2054.6L537.5 2054.2L538.93 2053.9L540.36 2053.5L541.79 2053.2L543.21 2052.8L544.64 2052.5L546.07 2052.2L547.5 2051.8L548.93 2051.5L550.36 2051.1L551.79 2050.7L553.21 2050.4L554.64 2050L556.07 2049.7L557.5 2049.3L558.93 2048.9L560.36 2048.5L561.79 2048.2L563.21 2047.8L564.64 2047.4L566.07 2047L567.5 2046.6L568.93 2046.2L570.36 2045.8L571.79 2045.4L573.21 2045L574.64 2044.5L576.07 2044.1L577.5 2043.7L578.93 2043.2L580.36 2042.8L581.79 2042.3L583.21 2041.9L584.64 2041.4L586.07 2040.9L587.5 2040.4L588.93 2040L590.36 2039.5L591.79 2039L593.21 2038.5L594.64 2038L596.07 2037.4L597.5 2036.9L598.93 2036.4L600.36 2035.9L601.79 2035.3L603.21 2034.8L604.64 2034.2L606.07 2033.6L607.5 2033L608.93 2032.4L610.36 2031.8L611.79 2031.1L613.21 2030.4L614.64 2029.8L616.07 2029.1L617.5 2028.3L618.93 2027.6L620.36 2026.8L621.79 2026L623.21 2025.2L624.64 2024.4L626.07 2023.5L627.5 2022.6L628.93 2021.6L630.36 2020.5L631.79 2019.4L633.21 2018.2L634.64 2017L636.07 2015.7L637.5 2014.4L638.93 2013.1L640.36 2011.7L641.79 2010.3L643.21 2008.8L644.64 2007.4L646.07 2005.9L647.5 2004.3L648.93 2002.8L650.36 2001.2L651.79 1999.7L653.21 1998.1L654.64 1996.5L656.07 1994.9L657.5 1993.3L658.93 1991.7L660.36 1990.1L661.79 1988.5L663.21 1986.9L664.64 1985.3L666.07 1983.7L667.5 1982L668.93 1980.3L670.36 1978.6L671.79 1976.8L673.21 1975L674.64 1973.2L676.07 1971.4L677.5 1969.5L678.93 1967.7L680.36 1965.7L681.79 1963.8L683.21 1961.8L684.64 1959.8L686.07 1957.8L687.5 1955.7L688.93 1953.6L690.36 1951.4L691.79 1949.2L693.21 1947L694.64 1944.7L696.07 1942.3L697.5 1939.9L698.93 1937.5L700.36 1935L701.79 1932.5L703.21 1929.9L704.64 1927.4L706.07 1924.8L707.5 1922.1L708.93 1919.5L710.36 1916.8L711.79 1914.1L713.21 1911.4L714.64 1908.7L716.07 1906L717.5 1903.3L718.93 1900.5L720.36 1897.7L721.79 1894.8L723.21 1891.9L724.64 1889L726.07 1886.1L727.5 1883.1L728.93 1880.1L730.36 1877.1L731.79 1874L733.21 1871L734.64 1867.9L736.07 1864.8L737.5 1861.7L738.93 1858.6L740.36 1855.4L741.79 1852.3L743.21 1849.1L744.64 1846L746.07 1842.7L747.5 1839.5L748.93 1836.2L750.36 1832.9L751.79 1829.6L753.21 1826.2L754.64 1822.8L756.07 1819.4L757.5 1816L758.93 1812.6L760.36 1809.2L761.79 1805.8L763.21 1802.4L764.64 1799.1L766.07 1795.7L767.5 1792.4L768.93 1789L770.36 1785.7L771.79 1782.5L773.21 1779.2L774.64 1775.9L776.07 1772.6L777.5 1769.3L778.93 1766L780.36 1762.7L781.79 1759.4L783.21 1756.2L784.64 1752.9L786.07 1749.7L787.5 1746.6L788.93 1743.5L790.36 1740.4L791.79 1737.4L793.21 1734.4L794.64 1731.5L796.07 1728.7L797.5 1725.8L798.93 1723L800.36 1720.3L801.79 1717.5L803.21 1714.8L804.64 1712.2L806.07 1709.5L807.5 1706.9L808.93 1704.4L810.36 1701.9L811.79 1699.4L813.21 1696.9L814.64 1694.5L816.07 1692.1L817.5 1689.7L818.93 1687.3L820.36 1685L821.79 1682.7L823.21 1680.4L824.64 1678.1L826.07 1675.8L827.5 1673.6L828.93 1671.4L830.36 1669.3L831.79 1667.2L833.21 1665.1L834.64 1663.1L836.07 1661.1L837.5 1659.1L838.93 1657.3L840.36 1655.4L841.79 1653.5L843.21 1651.7L844.64 1649.8L846.07 1648L847.5 1646.2L848.93 1644.4L850.36 1642.6L851.79 1640.9L853.21 1639.3L854.64 1637.8L856.07 1636.3L857.5 1634.9L858.93 1633.6L860.36 1632.4L861.79 1631.4L863.21 1630.4L864.64 1629.5L866.07 1628.5L867.5 1627.6L868.93 1626.6L870.36 1625.7L871.79 1624.8L873.21 1624L874.64 1623.2L876.07 1622.4L877.5 1621.7L878.93 1621L880.36 1620.4L881.79 1619.8L883.21 1619.4L884.64 1619L886.07 1618.7L887.5 1618.5L888.93 1618.4L890.36 1618.4L891.79 1618.6L893.21 1619L894.64 1619.5L896.07 1620.1L897.5 1620.9L898.93 1621.7L900.36 1622.6L901.79 1623.5L903.21 1624.5L904.64 1625.4L906.07 1626.4L907.5 1627.3L908.93 1628.1L910.36 1628.9L911.79 1629.8L913.21 1630.7L914.64 1631.5L916.07 1632.4L917.5 1633.3L918.93 1634.3L920.36 1635.3L921.79 1636.3L923.21 1637.3L924.64 1638.4L926.07 1639.5L927.5 1640.6L928.93 1641.8L930.36 1643L931.79 1644.3L933.21 1645.6L934.64 1647.1L936.07 1648.6L937.5 1650.2L938.93 1651.8L940.36 1653.6L941.79 1655.3L943.21 1657.2L944.64 1659.1L946.07 1661L947.5 1663L948.93 1665L950.36 1667L951.79 1669.1L953.21 1671.2L954.64 1673.3L956.07 1675.6L957.5 1677.9L958.93 1680.3L960.36 1682.7L961.79 1685.3L963.21 1687.9L964.64 1690.5L966.07 1693.2L967.5 1695.9L968.93 1698.7L970.36 1701.4L971.79 1704.2L973.21 1707L974.64 1709.7L976.07 1712.4L977.5 1715.1L978.93 1717.9L980.36 1720.6L981.79 1723.4L983.21 1726.1L984.64 1728.9L986.07 1731.7L987.5 1734.6L988.93 1737.4L990.36 1740.2L991.79 1743.1L993.21 1745.9L994.64 1748.7L996.07 1751.5L997.5 1754.4L998.93 1757.2L1000.36 1760L1001.79 1762.8L1003.21 1765.5L1004.64 1768.3L1006.07 1771L1007.5 1773.7L1008.93 1776.5L1010.36 1779.2L1011.79 1781.9L1013.21 1784.7L1014.64 1787.5L1016.07 1790.3L1017.5 1793.1L1018.93 1795.9L1020.36 1798.8L1021.79 1801.8L1023.21 1804.7L1024.64 1807.8L1026.07 1810.8L1027.5 1813.9L1028.93 1817L1030.36 1820.1L1031.79 1823.3L1033.21 1826.5L1034.64 1829.7L1036.07 1832.9L1037.5 1836.2L1038.93 1839.5L1040.36 1842.8L1041.79 1846.1L1043.21 1849.5L1044.64 1852.9L1046.07 1856.3L1047.5 1859.7L1048.93 1863.3L1050.36 1866.9L1051.79 1870.6L1053.21 1874.4L1054.64 1878.1L1056.07 1881.9L1057.5 1885.6L1058.93 1889.4L1060.36 1893.1L1061.79 1896.7L1063.21 1900.3L1064.64 1903.8L1066.07 1907.2L1067.5 1910.5L1068.93 1913.7L1070.36 1916.8L1071.79 1919.8L1073.21 1922.9L1074.64 1925.8L1076.07 1928.8L1077.5 1931.6L1078.93 1934.5L1080.36 1937.3L1081.79 1940.1L1083.21 1942.8L1084.64 1945.5L1086.07 1948.1L1087.5 1950.7L1088.93 1953.2L1090.36 1955.7L1091.79 1958.2L1093.21 1960.6L1094.64 1963.1L1096.07 1965.5L1097.5 1967.8L1098.93 1970.1L1100.36 1972.4L1101.79 1974.7L1103.21 1976.9L1104.64 1979.1L1106.07 1981.2L1107.5 1983.3L1108.93 1985.4L1110.36 1987.4L1111.79 1989.4L1113.21 1991.3L1114.64 1993.1L1116.07 1995L1117.5 1996.8L1118.93 1998.6L1120.36 2000.3L1121.79 2002.1L1123.21 2003.8L1124.64 2005.4L1126.07 2007.1L1127.5 2008.7L1128.93 2010.2L1130.36 2011.7L1131.79 2013.2L1133.21 2014.6L1134.64 2015.9L1136.07 2017.2L1137.5 2018.5L1138.93 2019.6L1140.36 2020.8L1141.79 2021.9L1143.21 2023L1144.64 2024.1L1146.07 2025.2L1147.5 2026.2L1148.93 2027.2L1150.36 2028.1L1151.79 2029.1L1153.21 2030L1154.64 2030.9L1156.07 2031.8L1157.5 2032.6L1158.93 2033.5L1160.36 2034.3L1161.79 2035.1L1163.21 2035.9L1164.64 2036.7L1166.07 2037.5L1167.5 2038.2L1168.93 2039L1170.36 2039.7L1171.79 2040.4L1173.21 2041.1L1174.64 2041.8L1176.07 2042.5L1177.5 2043.2L1178.93 2043.8L1180.36 2044.4L1181.79 2045.1L1183.21 2045.7L1184.64 2046.3L1186.07 2047L1187.5 2047.6L1188.93 2048.2L1190.36 2048.8L1191.79 2049.4L1193.21 2050L1194.64 2050.6L1196.07 2051.1L1197.5 2051.7L1198.93 2052.2L1200.36 2052.7L1201.79 2053.2L1203.21 2053.7L1204.64 2054.1L1206.07 2054.5L1207.5 2054.9L1208.93 2055.3L1210.36 2055.7L1211.79 2056L1213.21 2056.4L1214.64 2056.7L1216.07 2057.1L1217.5 2057.4L1218.93 2057.7L1220.36 2058L1221.79 2058.3L1223.21 2058.6L1224.64 2058.8L1226.07 2059.1L1227.5 2059.3L1228.93 2059.5L1230.36 2059.7L1231.79 2060L1233.21 2060.2L1234.64 2060.4L1236.07 2060.6L1237.5 2060.8L1238.93 2061L1240.36 2061.2L1241.79 2061.4L1243.21 2061.6L1244.64 2061.8L1246.07 2062L1247.5 2062.1L1248.93 2062.3L1250.36 2062.5L1251.79 2062.7L1253.21 2062.8L1254.64 2063L1256.07 2063.1L1257.5 2063.3L1258.93 2063.4L1260.36 2063.6L1261.79 2063.7L1263.21 2063.8L1264.64 2063.9L1266.07 2064L1267.5 2064.1L1268.93 2064.2L1270.36 2064.3L1271.79 2064.4L1273.21 2064.5L1274.64 2064.5L1276.07 2064.6L1277.5 2064.7L1278.93 2064.7L1280.36 2064.8L1281.79 2064.9L1283.21 2064.9L1284.64 2065L1286.07 2065L1287.5 2065.1L1288.93 2065.1L1290.36 2065.2L1291.79 2065.2L1293.21 2065.3L1294.64 2065.3L1296.07 2065.4L1297.5 2065.4L1298.93 2065.5L1300.36 2065.5L1301.79 2065.6L1303.21 2065.6L1304.64 2065.7L1306.07 2065.7L1307.5 2065.8L1308.93 2065.8L1310.36 2065.8L1311.79 2065.9L1313.21 2065.9L1314.64 2065.9L1316.07 2066L1317.5 2066L1318.93 2066L1320.36 2066.1L1321.79 2066.1L1323.21 2066.1L1324.64 2066.2L1326.07 2066.2L1327.5 2066.2L1328.93 2066.2L1330.36 2066.3L1331.79 2066.3L1333.21 2066.3L1334.64 2066.3L1336.07 2066.3L1337.5 2066.4L1338.93 2066.4L1340.36 2066.4L1341.79 2066.4L1343.21 2066.4L1344.64 2066.4L1346.07 2066.4L1347.5 2066.4L1348.93 2066.5L1350.36 2066.5L1351.79 2066.5L1353.21 2066.5L1354.64 2066.5L1356.07 2066.5L1357.5 2066.5L1358.93 2066.5L1360.36 2066.6L1361.79 2066.6L1363.21 2066.6L1364.64 2066.6L1366.07 2066.6L1367.5 2066.6L1368.93 2066.6L1370.36 2066.6L1371.79 2066.6L1373.21 2066.7L1374.64 2066.7L1376.07 2066.7L1377.5 2066.7L1378.93 2066.7L1380.36 2066.7L1381.79 2066.7L1383.21 2066.7L1384.64 2066.7L1386.07 2066.7L1387.5 2066.8L1388.93 2066.8L1390.36 2066.8L1391.79 2066.8L1393.21 2066.8L1394.64 2066.8L1396.07 2066.8L1397.5 2066.8L1398.93 2066.8L1400.36 2066.8L1401.79 2066.8L1403.21 2066.8L1404.64 2066.9L1406.07 2066.9L1407.5 2066.9L1408.93 2066.9L1410.36 2066.9L1411.79 2066.9L1413.21 2066.9L1414.64 2066.9L1416.07 2066.9L1417.5 2066.9L1418.93 2066.9L1420.36 2066.9L1421.79 2066.9L1423.21 2067L1424.64 2067L1426.07 2067L1427.5 2067L1428.93 2067L1430.36 2067L1431.79 2067L1433.21 2067L1434.64 2067L1436.07 2067L1437.5 2067L1438.93 2067L1440.36 2067L1441.79 2067L1443.21 2067L1444.64 2067L1446.07 2067L1447.5 2067L1448.93 2067L1450.36 2067L1451.79 2067.1L1453.21 2067.1L1454.64 2067.1L1456.07 2067.1L1457.5 2067.1L1458.93 2067.1L1460.36 2067.1L1461.79 2067.1L1463.21 2067.1L1464.64 2067.1L1466.07 2067.1L1467.5 2067.1L1468.93 2067.1L1470.36 2067.1L1471.79 2067.1L1473.21 2067.1L1474.64 2067.1L1476.07 2067.1L1477.5 2067.1L1478.93 2067.1L1480.36 2067.1L1481.79 2067.1L1483.21 2067.1L1484.64 2067.1L1486.07 2067.1L1487.5 2067.1L1488.43 2067.1" fill="none" stroke="#ff4612" stroke-width="2.4" stroke-linejoin="round" />
<path d="M522.86 2519.5L1142.86 2522.5" fill="none" stroke="#62a0a8" stroke-width="2.2" stroke-dasharray="16.4 4.3"/>
<path d="M371.06 2517.4L375.36 2518.3L379.64 2517.8L383.9 2515.8L388.2 2516.7L392.47 2516L396.78 2516.9L401.09 2518.1L405.38 2518L409.66 2518L413.94 2517.5L418.21 2516.4L422.49 2516.1L426.81 2517.5L431.08 2516.6L435.34 2515.6L439.62 2515.1L443.9 2514.7L448.19 2514.8L452.5 2515L456.78 2514.6L461.05 2514.1L465.33 2513.5L469.63 2513.7L473.89 2512.7L478.19 2512.7L482.54 2514.2L486.79 2512.9L491.05 2512.1L495.45 2514.4L499.67 2512.7L503.85 2509.9L508.16 2510.2L512.55 2512.3L516.9 2513.3L521.07 2510.6L525.34 2510L529.66 2510.1L533.89 2508.9L538.04 2507.1L542.46 2508.1L546.74 2507.6L551.01 2507.1L555.31 2507L559.69 2507.7L564.01 2507.5L568.06 2504.7L572.24 2503.5L576.68 2504.1L580.74 2502L584.87 2500.4L589.24 2500.2L593.22 2498L597.26 2496L601.38 2494.5L605.8 2494.3L610.01 2493.1L614.27 2491.8L618.31 2489.9L622.23 2487.9L626.04 2485.5L630.01 2483.6L633.8 2481.1L637.27 2477.9L641.53 2476.7L645.68 2475.1L649.8 2473.3L653.06 2469.6L656.04 2465.5L659.15 2461.8L661.46 2457.1L664.93 2454L669.19 2451.6L671.99 2447.4L673.81 2442.2L677.24 2438.5L680.21 2434.3L682.61 2429.6L685.22 2425.1L687.89 2420.6L690.75 2416.1L692.65 2410.8L695.13 2406L697.79 2401.2L700.66 2396.7L702.65 2391.4L705.38 2386.7L707.95 2381.9L710.37 2377L712.14 2371.6L714.46 2366.6L716.99 2361.7L718.65 2356.3L721.04 2351.3L723.66 2346.6L725.82 2341.5L728.1 2336.5L730.2 2331.3L732.57 2326.4L735.12 2321.4L736.97 2316.1L738.48 2310.6L741.02 2305.6L743.01 2300.3L744.74 2294.8L746.63 2289.5L748.39 2284.1L750.59 2278.9L752.44 2273.5L754.4 2268.3L756.14 2262.8L757.91 2257.5L760.42 2252.5L763.6 2248.1L765.75 2242.9L768.22 2238L770.44 2233L772.52 2227.8L774.66 2222.7L777.22 2218L780.65 2214L783.57 2209.6L785.58 2204.4L788.13 2199.7L791.94 2196.4L795.09 2192.4L798.71 2189.2L802.11 2185.7L806 2183.1L810.4 2181.8L814.32 2179.4L817.99 2176.4L821.86 2174L826.01 2172.7L830.28 2173.2L834.17 2175.6L837.96 2178.1L841.95 2180L846.15 2182.3L849.54 2186.1L852.22 2190.8L855.26 2195L858.87 2198.6L861.41 2203.4L863.08 2209L866.77 2212.7L869.94 2216.9L871.77 2222.3L874.72 2226.8L877.71 2231.3L879.98 2236.3L882.15 2241.5L884.77 2246.3L886.87 2251.5L889.8 2256.1L891.81 2261.4L893.55 2266.8L895.93 2271.9L898 2277.1L900.11 2282.3L901.91 2287.7L904.32 2292.8L906.64 2297.9L909.02 2303L911.25 2308.1L912.96 2313.6L915.22 2318.8L917.31 2324L919.37 2329.3L921.3 2334.6L923.06 2340L924.83 2345.4L927.75 2350.1L930.01 2355.2L931.51 2360.8L933.35 2366.2L935.48 2371.4L938.68 2375.9L941.3 2380.7L943.07 2386.1L945.05 2391.4L947.56 2396.3L950.09 2401.2L952.49 2406.2L955.23 2410.9L957.57 2415.9L959.59 2421.2L962.34 2425.9L964.64 2430.9L968.34 2434.7L971.15 2439.2L972.63 2445L975.29 2449.7L978.18 2454.1L981.48 2458.1L985.33 2461.5L988.56 2465.4L990.95 2470.4L995.07 2473L999.03 2475.7L1002.66 2478.8L1006.09 2482.3L1009.54 2485.7L1013.02 2489.1L1017.08 2491.3L1020.56 2494.8L1024.37 2497.6L1028.82 2498.5L1033.13 2499.7L1037.35 2501.1L1041.11 2504L1044.51 2508L1048.78 2509.3L1053.34 2509.4L1057.37 2511.3L1061.5 2512.5L1065.76 2512.6L1070.06 2512.2L1074.21 2513.7L1078.3 2516.3L1082.54 2517.3L1086.83 2517.2L1091.14 2516.7L1095.42 2516.6L1099.71 2517.1L1103.99 2516.5L1108.26 2516.2L1112.54 2515.7L1116.81 2516.6L1121.11 2516.1L1125.39 2516.5L1129.65 2517.7L1133.94 2518L1138.23 2518L1142.53 2517.1L1146.83 2516.5L1151.11 2516.7L1155.4 2516.9L1159.69 2516.4L1163.98 2516.7L1168.26 2517L1172.55 2516.7L1176.82 2517.7L1181.11 2517.6L1185.39 2517.9L1189.66 2519.5L1193.93 2520.4L1198.23 2519.3L1202.52 2519.4L1206.81 2519.4L1211.07 2520.8L1215.35 2521.4L1219.65 2520.7L1223.95 2519.6L1228.25 2518.9L1232.53 2519.6L1236.81 2519.7L1241.11 2519.3L1245.38 2520L1249.69 2519.1L1254 2517.6" fill="none" stroke="#000" stroke-width="3.0" stroke-linejoin="round" />
<path d="M369.29 2519.5L370.71 2519.5L372.14 2519.5L373.57 2519.5L375 2519.5L376.43 2519.5L377.86 2519.5L379.29 2519.5L380.71 2519.5L382.14 2519.5L383.57 2519.5L385 2519.5L386.43 2519.5L387.86 2519.5L389.29 2519.5L390.71 2519.5L392.14 2519.5L393.57 2519.5L395 2519.5L396.43 2519.5L397.86 2519.5L399.29 2519.5L400.71 2519.5L402.14 2519.4L403.57 2519.4L405 2519.4L406.43 2519.4L407.86 2519.4L409.29 2519.4L410.71 2519.4L412.14 2519.4L413.57 2519.4L415 2519.4L416.43 2519.4L417.86 2519.4L419.29 2519.4L420.71 2519.4L422.14 2519.4L423.57 2519.4L425 2519.4L426.43 2519.3L427.86 2519.3L429.29 2519.3L430.71 2519.3L432.14 2519.3L433.57 2519.3L435 2519.3L436.43 2519.3L437.86 2519.3L439.29 2519.3L440.71 2519.2L442.14 2519.2L443.57 2519.2L445 2519.2L446.43 2519.2L447.86 2519.2L449.29 2519.2L450.71 2519.2L452.14 2519.2L453.57 2519.1L455 2519.1L456.43 2519.1L457.86 2519.1L459.29 2519.1L460.71 2519.1L462.14 2519.1L463.57 2519L465 2519L466.43 2519L467.86 2519L469.29 2519L470.71 2519L472.14 2519L473.57 2518.9L475 2518.9L476.43 2518.9L477.86 2518.9L479.29 2518.9L480.71 2518.9L482.14 2518.8L483.57 2518.8L485 2518.8L486.43 2518.8L487.86 2518.8L489.29 2518.7L490.71 2518.7L492.14 2518.7L493.57 2518.7L495 2518.7L496.43 2518.6L497.86 2518.6L499.29 2518.6L500.71 2518.6L502.14 2518.6L503.57 2518.5L505 2518.5L506.43 2518.5L507.86 2518.5L509.29 2518.4L510.71 2518.4L512.14 2518.4L513.57 2518.4L515 2518.3L516.43 2518.3L517.86 2518.3L519.29 2518.3L520.71 2518.2L522.14 2518.2L523.57 2518.2L525 2518.2L526.43 2518.1L527.86 2518.1L529.29 2518L530.71 2517.9L532.14 2517.8L533.57 2517.7L535 2517.6L536.43 2517.5L537.86 2517.4L539.29 2517.3L540.71 2517.2L542.14 2517L543.57 2516.9L545 2516.7L546.43 2516.6L547.86 2516.4L549.29 2516.3L550.71 2516.1L552.14 2515.9L553.57 2515.8L555 2515.6L556.43 2515.4L557.86 2515.2L559.29 2515L560.71 2514.9L562.14 2514.7L563.57 2514.5L565 2514.2L566.43 2514L567.86 2513.8L569.29 2513.5L570.71 2513.2L572.14 2512.9L573.57 2512.7L575 2512.4L576.43 2512L577.86 2511.7L579.29 2511.4L580.71 2511L582.14 2510.7L583.57 2510.3L585 2509.9L586.43 2509.6L587.86 2509.2L589.29 2508.8L590.71 2508.3L592.14 2507.9L593.57 2507.5L595 2507L596.43 2506.6L597.86 2506.1L599.29 2505.6L600.71 2505.1L602.14 2504.6L603.57 2504.1L605 2503.6L606.43 2503.1L607.86 2502.5L609.29 2501.9L610.71 2501.2L612.14 2500.5L613.57 2499.8L615 2499L616.43 2498.2L617.86 2497.3L619.29 2496.5L620.71 2495.6L622.14 2494.7L623.57 2493.8L625 2492.8L626.43 2491.9L627.86 2490.9L629.29 2489.9L630.71 2489L632.14 2488L633.57 2487L635 2486L636.43 2485.1L637.86 2484.1L639.29 2483.1L640.71 2482.1L642.14 2481L643.57 2480L645 2478.9L646.43 2477.8L647.86 2476.7L649.29 2475.5L650.71 2474.3L652.14 2473.1L653.57 2471.8L655 2470.4L656.43 2469.1L657.86 2467.6L659.29 2466.1L660.71 2464.6L662.14 2462.9L663.57 2461.1L665 2459.2L666.43 2457.2L667.86 2455.1L669.29 2452.9L670.71 2450.6L672.14 2448.2L673.57 2445.8L675 2443.3L676.43 2440.8L677.86 2438.2L679.29 2435.6L680.71 2433L682.14 2430.3L683.57 2427.7L685 2425L686.43 2422.4L687.86 2419.7L689.29 2417.1L690.71 2414.3L692.14 2411.5L693.57 2408.6L695 2405.7L696.43 2402.8L697.86 2399.8L699.29 2396.8L700.71 2393.7L702.14 2390.6L703.57 2387.5L705 2384.4L706.43 2381.3L707.86 2378.2L709.29 2375.1L710.71 2372L712.14 2368.9L713.57 2365.8L715 2362.7L716.43 2359.7L717.86 2356.8L719.29 2353.8L720.71 2350.8L722.14 2347.9L723.57 2344.9L725 2341.8L726.43 2338.8L727.86 2335.6L729.29 2332.3L730.71 2329L732.14 2325.5L733.57 2321.9L735 2318.1L736.43 2314.3L737.86 2310.4L739.29 2306.4L740.71 2302.3L742.14 2298.2L743.57 2294.2L745 2290.1L746.43 2286L747.86 2282L749.29 2278.1L750.71 2274.2L752.14 2270.4L753.57 2266.8L755 2263.3L756.43 2259.8L757.86 2256.4L759.29 2252.9L760.71 2249.5L762.14 2246.2L763.57 2242.9L765 2239.7L766.43 2236.5L767.86 2233.4L769.29 2230.4L770.71 2227.5L772.14 2224.6L773.57 2221.9L775 2219.3L776.43 2216.8L777.86 2214.2L779.29 2211.8L780.71 2209.3L782.14 2206.9L783.57 2204.6L785 2202.4L786.43 2200.4L787.86 2198.4L789.29 2196.5L790.71 2194.8L792.14 2193.3L793.57 2191.8L795 2190.5L796.43 2189.2L797.86 2187.9L799.29 2186.7L800.71 2185.6L802.14 2184.5L803.57 2183.5L805 2182.5L806.43 2181.5L807.86 2180.6L809.29 2179.8L810.71 2179L812.14 2178.2L813.57 2177.3L815 2176.5L816.43 2175.6L817.86 2174.8L819.29 2174.1L820.71 2173.5L822.14 2173L823.57 2172.8L825 2172.7L826.43 2172.8L827.86 2173.1L829.29 2173.5L830.71 2174L832.14 2174.6L833.57 2175.2L835 2175.9L836.43 2176.7L837.86 2177.4L839.29 2178.3L840.71 2179.5L842.14 2180.8L843.57 2182.3L845 2183.9L846.43 2185.7L847.86 2187.5L849.29 2189.3L850.71 2191.2L852.14 2193L853.57 2194.9L855 2196.8L856.43 2198.8L857.86 2200.9L859.29 2203.1L860.71 2205.3L862.14 2207.6L863.57 2209.9L865 2212.2L866.43 2214.7L867.86 2217.1L869.29 2219.6L870.71 2222.1L872.14 2224.7L873.57 2227.4L875 2230.1L876.43 2232.9L877.86 2235.7L879.29 2238.6L880.71 2241.6L882.14 2244.5L883.57 2247.6L885 2250.6L886.43 2253.7L887.86 2257L889.29 2260.2L890.71 2263.6L892.14 2267L893.57 2270.4L895 2273.9L896.43 2277.4L897.86 2280.9L899.29 2284.4L900.71 2287.9L902.14 2291.4L903.57 2295L905 2298.6L906.43 2302.3L907.86 2305.9L909.29 2309.6L910.71 2313.3L912.14 2317.1L913.57 2320.8L915 2324.5L916.43 2328.1L917.86 2331.7L919.29 2335.3L920.71 2338.9L922.14 2342.3L923.57 2345.7L925 2349.1L926.43 2352.5L927.86 2355.8L929.29 2359.1L930.71 2362.4L932.14 2365.7L933.57 2368.9L935 2372.1L936.43 2375.3L937.86 2378.5L939.29 2381.6L940.71 2384.7L942.14 2387.8L943.57 2390.8L945 2393.9L946.43 2396.8L947.86 2399.8L949.29 2402.8L950.71 2405.8L952.14 2408.8L953.57 2411.7L955 2414.7L956.43 2417.6L957.86 2420.4L959.29 2423.2L960.71 2426L962.14 2428.7L963.57 2431.3L965 2433.9L966.43 2436.4L967.86 2438.8L969.29 2441.1L970.71 2443.4L972.14 2445.7L973.57 2447.9L975 2450.2L976.43 2452.3L977.86 2454.5L979.29 2456.5L980.71 2458.6L982.14 2460.6L983.57 2462.5L985 2464.3L986.43 2466.1L987.86 2467.8L989.29 2469.5L990.71 2471.1L992.14 2472.6L993.57 2474L995 2475.4L996.43 2476.8L997.86 2478.1L999.29 2479.4L1000.71 2480.7L1002.14 2481.9L1003.57 2483.1L1005 2484.2L1006.43 2485.4L1007.86 2486.4L1009.29 2487.5L1010.71 2488.5L1012.14 2489.5L1013.57 2490.5L1015 2491.5L1016.43 2492.4L1017.86 2493.3L1019.29 2494.2L1020.71 2495L1022.14 2495.9L1023.57 2496.7L1025 2497.5L1026.43 2498.2L1027.86 2499L1029.29 2499.7L1030.71 2500.5L1032.14 2501.2L1033.57 2501.9L1035 2502.6L1036.43 2503.3L1037.86 2504L1039.29 2504.7L1040.71 2505.4L1042.14 2506.1L1043.57 2506.8L1045 2507.4L1046.43 2508.1L1047.86 2508.8L1049.29 2509.4L1050.71 2510L1052.14 2510.6L1053.57 2511.2L1055 2511.7L1056.43 2512.2L1057.86 2512.6L1059.29 2513L1060.71 2513.4L1062.14 2513.7L1063.57 2514.1L1065 2514.4L1066.43 2514.7L1067.86 2515.1L1069.29 2515.4L1070.71 2515.7L1072.14 2516L1073.57 2516.3L1075 2516.6L1076.43 2516.8L1077.86 2517.1L1079.29 2517.3L1080.71 2517.6L1082.14 2517.8L1083.57 2518L1085 2518.2L1086.43 2518.4L1087.86 2518.6L1089.29 2518.8L1090.71 2519L1092.14 2519.1L1093.57 2519.3L1095 2519.4L1096.43 2519.5L1097.86 2519.6L1099.29 2519.7L1100.71 2519.9L1102.14 2520L1103.57 2520.1L1105 2520.2L1106.43 2520.3L1107.86 2520.4L1109.29 2520.5L1110.71 2520.6L1112.14 2520.7L1113.57 2520.8L1115 2520.8L1116.43 2520.9L1117.86 2521L1119.29 2521.1L1120.71 2521.1L1122.14 2521.2L1123.57 2521.2L1125 2521.3L1126.43 2521.3L1127.86 2521.4L1129.29 2521.4L1130.71 2521.4L1132.14 2521.4L1133.57 2521.4L1135 2521.4L1136.43 2521.4L1137.86 2521.4L1139.29 2521.4L1140.71 2521.4L1142.14 2521.4L1143.57 2521.4L1145 2521.4L1146.43 2521.4L1147.86 2521.4L1149.29 2521.4L1150.71 2521.4L1152.14 2521.4L1153.57 2521.4L1155 2521.4L1156.43 2521.4L1157.86 2521.4L1159.29 2521.4L1160.71 2521.4L1162.14 2521.4L1163.57 2521.4L1165 2521.4L1166.43 2521.4L1167.86 2521.4L1169.29 2521.4L1170.71 2521.4L1172.14 2521.4L1173.57 2521.4L1175 2521.4L1176.43 2521.4L1177.86 2521.4L1179.29 2521.4L1180.71 2521.4L1182.14 2521.4L1183.57 2521.4L1185 2521.4L1186.43 2521.4L1187.86 2521.4L1189.29 2521.4L1190.71 2521.4L1192.14 2521.4L1193.57 2521.4L1195 2521.4L1196.43 2521.4L1197.86 2521.4L1199.29 2521.4L1200.71 2521.4L1202.14 2521.4L1203.57 2521.4L1205 2521.4L1206.43 2521.4L1207.86 2521.4L1209.29 2521.4L1210.71 2521.4L1212.14 2521.4L1213.57 2521.4L1215 2521.4L1216.43 2521.4L1217.86 2521.4L1219.29 2521.4L1220.71 2521.4L1222.14 2521.4L1223.57 2521.4L1225 2521.4L1226.43 2521.4L1227.86 2521.4L1229.29 2521.4L1230.71 2521.4L1232.14 2521.4L1233.57 2521.4L1235 2521.4L1236.43 2521.4L1237.86 2521.4L1239.29 2521.4L1240.71 2521.4L1242.14 2521.4L1243.57 2521.4L1245 2521.4L1246.43 2521.4L1247.86 2521.4L1249.29 2521.4L1250.71 2521.4L1252.14 2521.4L1253.57 2521.4L1255 2521.4L1256 2521.4" fill="none" stroke="#ff4612" stroke-width="2.4" stroke-linejoin="round" />
<rect x="810.86" y="1427" width="7.57" height="1167" fill="#3d3d3d"/>
<polygon points="1093.27,1693.3 1047.26,1580.3 1053.16,1575.6 1035.71,1563 1034.54,1590.4 1040.44,1585.7 1086.44,1698.7" fill="#ff0000"/>
<polygon points="1062.59,1794.9 1000.73,1845 997.96,1838.3 986.36,1862.1 1006.9,1859.9 1004.13,1853.2 1065.98,1803.1" fill="#ff0000"/>
<polygon points="493.02,2301.6 751.57,2359.3 750.79,2366.1 772.43,2360.3 753.15,2345.4 752.38,2352.2 493.83,2294.4" fill="#000"/>
<rect x="1478.14" y="1429" width="106.64" height="74.1" fill="#fff" stroke="#111" stroke-width="2.9"/>
<path d="M238.57 2576.2H250M238.57 2522.1H250M238.57 2467.6H250M238.57 2413H250M238.57 2358.4H250M238.57 2303.9H250M238.57 2250.1H250M238.57 2196.2H250M238.57 2142.3H250M238.57 2088.5H250M238.57 2034.3H250M238.57 1980H250M238.57 1925.8H250M238.57 1871.6H250M238.57 1817.8H250M238.57 1764H250M238.57 1710.3H250M238.57 1656.5H250M238.57 1602.2H250M238.57 1547.8H250M238.57 1493.4H250M238.57 1439.1H250M230 2522.1H250M230 2303.9H250M230 2088.5H250M230 1871.6H250M230 1656.5H250M230 1439.1H250" fill="none" stroke="#161616" stroke-width="2.4"/>
<path d="M1586.69 2591.4V2602.9M1531.42 2591.4V2602.9M1476.14 2591.4V2602.9M1420.82 2591.4V2602.9M1365.5 2591.4V2602.9M1310.18 2591.4V2602.9M1254.86 2591.4V2602.9M1199.54 2591.4V2602.9M1144.21 2591.4V2602.9M1088.89 2591.4V2602.9M1033.57 2591.4V2602.9M978.39 2591.4V2602.9M923.21 2591.4V2602.9M868.04 2591.4V2602.9M812.86 2591.4V2602.9M757.5 2591.4V2602.9M702.14 2591.4V2602.9M646.79 2591.4V2602.9M591.43 2591.4V2602.9M536.25 2591.4V2602.9M481.07 2591.4V2602.9M425.89 2591.4V2602.9M370.71 2591.4V2602.9M315.44 2591.4V2602.9M260.17 2591.4V2602.9M370.71 2591.4V2610.9M591.43 2591.4V2610.9M812.86 2591.4V2610.9M1033.57 2591.4V2610.9M1254.86 2591.4V2610.9M1476.14 2591.4V2610.9" fill="none" stroke="#161616" stroke-width="3.0"/>
<path d="M250 1411.1H1604.57" fill="none" stroke="#161616" stroke-width="3.1" stroke-linecap="square"/>
<path d="M250 2591.4H1604.57" fill="none" stroke="#161616" stroke-width="3.1" stroke-linecap="square"/>
<path d="M250 1411.1V2593M1604.57 1411.1V2593" fill="none" stroke="#161616" stroke-width="3.0"/>
</g>
<g id="panel-c">
<rect x="596.43" y="2865.5" width="359.64" height="1134" fill="#d6dff2"/>
<path d="M582.14 3013L1357.14 3015" fill="none" stroke="#62a0a8" stroke-width="1.9" stroke-dasharray="10 6"/>
<path d="M835 2912.3L836.43 2913.3L837.86 2914.4L839.29 2915.5L840.71 2916.7L842.14 2918L843.57 2919.3L845 2920.7L846.43 2922.1L847.86 2923.5L849.29 2924.9L850.71 2926.4L852.14 2927.8L853.57 2929.3L855 2930.7L856.43 2932.1L857.86 2933.5L859.29 2934.8L860.71 2936.1L862.14 2937.4L863.57 2938.6L865 2939.9L866.43 2941.2L867.86 2942.5L869.29 2943.7L870.71 2945L872.14 2946.3L873.57 2947.5L875 2948.8L876.43 2950.1L877.86 2951.3L879.29 2952.6L880.71 2953.9L882.14 2955.1L883.57 2956.4L885 2957.6L886.43 2958.8L887.86 2960.1L889.29 2961.3L890.71 2962.5L892.14 2963.8L893.57 2965.1L895 2966.4L896.43 2967.7L897.86 2969L899.29 2970.3L900.71 2971.6L902.14 2972.9L903.57 2974.1L905 2975.3L906.43 2976.5L907.86 2977.7L909.29 2978.8L910.71 2979.9L912.14 2980.9L913.57 2981.9L915 2982.8L916.43 2983.7L917.86 2984.5L919.29 2985.4L920.71 2986.2L922.14 2987.1L923.57 2987.9L925 2988.8L926.43 2989.6L927.86 2990.4L929.29 2991.2L930.71 2992L932.14 2992.8L933.57 2993.6L935 2994.3L936.43 2995L937.86 2995.7L939.29 2996.4L940.71 2997L942.14 2997.7L943.57 2998.3L945 2998.9L946.43 2999.5L947.86 3000.1L949.29 3000.7L950.71 3001.2L952.14 3001.7L953.57 3002.3L955 3002.8L956.43 3003.3L957.86 3003.7L959.29 3004.2L960.71 3004.6L962.14 3005L963.57 3005.4L965 3005.8L966.43 3006.1L967.86 3006.5L969.29 3006.8L970.71 3007.1L972.14 3007.3L973.57 3007.6L975 3007.9L976.43 3008.2L977.86 3008.4L979.29 3008.7L980.71 3008.9L982.14 3009.1L983.57 3009.4L985 3009.6L986.43 3009.8L987.86 3010L989.29 3010.2L990.71 3010.4L992.14 3010.6L993.57 3010.7L995 3010.9L996.43 3011.1L997.86 3011.2L999.29 3011.4L1000.71 3011.5" fill="none" stroke="#6c6c6c" stroke-width="2.2" stroke-dasharray="0.1 7" stroke-linecap="round"/>
<path d="M842.14 3011.1L843.57 3011L845 3010.9L846.43 3010.7L847.86 3010.6L849.29 3010.5L850.71 3010.4L852.14 3010.2L853.57 3010.1L855 3009.9L856.43 3009.8L857.86 3009.6L859.29 3009.5L860.71 3009.3L862.14 3009.1L863.57 3008.9L865 3008.7L866.43 3008.5L867.86 3008.3L869.29 3008.1L870.71 3007.8L872.14 3007.6L873.57 3007.4L875 3007.1L876.43 3006.8L877.86 3006.6L879.29 3006.3L880.71 3006L882.14 3005.7L883.57 3005.4L885 3005.1L886.43 3004.7L887.86 3004.4L889.29 3004L890.71 3003.7L892.14 3003.3L893.57 3003L895 3002.6L896.43 3002.2L897.86 3001.9L899.29 3001.5L900.71 3001.1L902.14 3000.7L903.57 3000.3L905 2999.9L906.43 2999.5L907.86 2999.1L909.29 2998.6L910.71 2998.2L912.14 2997.7L913.57 2997.2L915 2996.6L916.43 2996L917.86 2995.4L919.29 2994.8L920.71 2994.2L922.14 2993.6L923.57 2993L925 2992.4L926.43 2991.8L927.86 2991.1L929.29 2990.5L930.71 2989.9L932.14 2989.2L933.57 2988.6L935 2987.9L936.43 2987.2L937.86 2986.5L939.29 2985.8L940.71 2985.1L942.14 2984.4L943.57 2983.7L945 2982.9L946.43 2982.2L947.86 2981.5L949.29 2980.7L950.71 2980L952.14 2979.2L953.57 2978.5L955 2977.8L956.43 2977L957.86 2976.3L959.29 2975.6L960.71 2974.9L962.14 2974.1L963.57 2973.3L965 2972.4L966.43 2971.4L967.86 2970.4L969.29 2969.4L970.71 2968.3L972.14 2967.2L973.57 2966.1L975 2965L976.43 2963.8L977.86 2962.7L979.29 2961.6L980.71 2960.5L982.14 2959.5L983.57 2958.4L985 2957.4L986.43 2956.3L987.86 2955.3L989.29 2954.2L990.71 2953.1L992.14 2952.1L993.57 2951L995 2949.9L996.43 2948.8L997.86 2947.8L999.29 2946.7L1000.71 2945.7L1002.14 2944.7L1003.57 2943.7L1005 2942.7L1006.43 2941.8" fill="none" stroke="#6c6c6c" stroke-width="2.2" stroke-dasharray="0.1 7" stroke-linecap="round"/>
<path d="M317.64 3010L321.57 3011L325.5 3013.4L329.43 3007.3L333.36 3012.3L337.29 3012.6L341.22 3014.1L345.14 3012.7L349.07 3015.7L353 3008.2L356.93 3016.5L360.86 3017.9L364.79 3009.7L368.72 3012.4L372.64 3013.2L376.57 3003.9L380.5 3010.5L384.43 3008.9L388.36 3008.6L392.28 3007.6L396.21 3007.8L400.14 3010.1L404.07 3010.9L407.99 3004.1L411.92 3007.2L415.85 3004.5L419.77 3003.3L423.71 3007.2L427.65 3013.4L431.58 3014.1L435.5 3008.7L439.42 3006.6L443.35 3005.9L447.28 3009.7L451.22 3014.3L455.15 3011.6L459.08 3013.1L463.01 3012.5L466.95 3016.9L470.84 3004L474.75 2998.6L478.7 3006.4L482.65 3012.5L486.57 3009.3L490.5 3011.3L494.41 3005.8L498.33 3003.2L502.27 3005.3L506.22 3012.5L510.16 3014L514.06 3008L518 3009.7L521.92 3007.5L525.85 3009L529.76 3005.3L533.7 3008.1L537.62 3006.7L541.56 3008.5L545.48 3006.9L549.4 3005.4L553.35 3008.9L557.28 3008.3L561.21 3009.2L565.13 3007.8L569.08 3011.4L572.98 3006.9L576.94 3011.4L580.93 3015.9L584.8 3010L589.12 3015.8L593.56 3019.2L597.03 3012.5L599.8 3002.3L603.15 2998.1L607.77 3002.7L613.11 3011.6L616.72 3008.5L620.53 3006.6L623.65 3001.6L626.69 2997.1L631.37 2999.3L633.99 2993.6L638.16 2993.6L643.02 2995.7L646.49 2993.1L650.6 2992.6L653.37 2987.8L657.96 2988.6L661.85 2987.1L662.66 2977.6L666.08 2975.3L670.34 2974.9L676.08 2977.5L679.78 2975.3L683.02 2972.1L686.18 2968.8L690.23 2967L694.3 2965.1L694.98 2958L695.39 2950.6L702.06 2952.7L705.07 2949.2L708.28 2946.1L711.29 2942.6L712.73 2936.7L714.72 2931.5L722.14 2935.1L727.08 2934.8L730.14 2931.5L732.07 2926.3L735.09 2922.8L737.18 2917.8L740.87 2915.4L743.55 2911.4L746.31 2907.4L750.87 2906.6L756.94 2909.8L756.29 2896.9L761.64 2900.1L766.22 2902.4L768.53 2893.8L773.1 2896.3L777.16 2896.4L780.66 2893L784.5 2891.3L788.2 2887L792.85 2898.2L796.51 2904.9L799.78 2902.8L804.23 2894.7L808.08 2895.5L811.58 2897.9L816.57 2895.1L820.16 2897.5L822.65 2903L827.19 2902.5L833 2898.5L836.74 2900.8L838.04 2909L841.65 2911.4L845.31 2913.8L845.72 2921.6L850.26 2922.6L855.69 2922L858.35 2926L857.8 2936.4L865.37 2930.9L865.98 2939.3L868.51 2943.9L874.7 2940.8L879.3 2940.9L880.33 2949L884.8 2949.3L890.06 2947.6L890.59 2957L895.4 2956.4L899.56 2957.4L903.52 2958.7L907.73 2959.1L911.11 2961.9L915.19 2961.7L918.67 2965.3L922.22 2969.4L926.15 2970.9L930.2 2971.9L934.3 2973.5L938.48 2971L942.3 2964.2L946.49 2968.4L949.7 2959.4L953.55 2959.1L958.03 2963.8L960.7 2956.5L966.65 2964.8L968.74 2957.7L970.54 2951.1L974.89 2951L978.86 2949.6L983.51 2950.1L987.28 2948.4L992.5 2950.1L994.94 2945L998.43 2942.6L1000.54 2936.7L1005.69 2938.4L1008.26 2933.5L1009.69 2925.8L1017.22 2933.7L1019.15 2927.1L1021.82 2922.1L1025.88 2920.9L1031.45 2925.1L1033.54 2917.3L1037.73 2917.3L1042.84 2921.1L1048.05 2926.1L1050.31 2918.1L1053.89 2915.6L1057.47 2911.5L1062.14 2921.5L1065.75 2916.4L1069.55 2913.6L1073.51 2914.3L1077.33 2910L1081.33 2912.2L1085.25 2908.2L1089.08 2917.8L1093.01 2915.2L1097.14 2913.6L1100.14 2919.8L1105.4 2913.2L1107.75 2921.5L1110.71 2926.7L1116.48 2919.1L1119.55 2923.3L1123.58 2923.9L1126.31 2928.3L1130.6 2928.6L1135.91 2926.5L1137.79 2932.9L1141.85 2934L1145.24 2936.7L1147.29 2942.2L1149.9 2946.3L1154.13 2947.3L1161.22 2943L1162.31 2950.2L1166.23 2951.9L1168.1 2957.8L1172.88 2957.6L1174.59 2964L1178.69 2965.2L1183.47 2964.9L1186.85 2967.6L1193.23 2963.2L1194.48 2971L1197.67 2974.3L1203.11 2971.5L1205.33 2977.4L1208.49 2980.9L1212.19 2982.8L1216.45 2982.9L1219.29 2987.5L1222.67 2990.4L1227.21 2989.6L1231.39 2989.8L1235.62 2989.8L1239.64 2990.4L1242.18 2996.4L1246.72 2995L1251.64 2991.5L1254.2 2998.1L1256.83 3004.9L1261.58 3001.9L1264.91 3005.7L1268.81 3006.8L1273.76 3001.3L1277.1 3005.5L1280.99 3006.4L1284.56 3009.7L1289.98 2997.4L1292.72 3008.1L1296.16 3013.2L1300.74 3006.9L1304.15 3013.3L1308.26 3011.4L1312.21 3011.5L1316 3015L1319.84 3018.2L1323.92 3014.2L1327.84 3014.9L1331.78 3014.8L1335.85 3009.8L1339.6 3018.1L1343.57 3017.9L1347.56 3014.2L1351.49 3017.2L1355.43 3016.3L1359.36 3011L1363.29 3015.9L1367.22 3014.2L1371.15 3015.2L1375.07 3017.4L1379 3017.8L1382.93 3021.7L1386.86 3016L1390.79 3012.2L1394.72 3009.4L1398.65 3009L1402.57 3014.5L1406.5 3015.3L1410.43 3009.7L1414.36 3008.9L1418.29 3010L1422.22 3018.5L1426.15 3011L1430.07 3012.9L1434 3006.5L1437.93 3009.5L1441.86 3018.1L1445.79 3009.5L1449.72 3015.7L1453.65 3006.5L1457.57 3010.4L1461.5 3008.2L1465.43 3011.1L1469.36 3011.7L1473.29 3015.7L1477.22 3014.9L1481.15 3013.8L1485.07 3010.7L1489 3013.8L1492.93 3010L1496.86 3009L1500.79 3009.2L1504.72 3014.2L1508.65 3022.8L1512.57 3015.6L1516.5 3020.5L1520.43 3011.2L1524.36 3008.9L1528.29 3014L1532.22 3015.9L1536.15 3016.7" fill="none" stroke="#1fc01f" stroke-width="1.9" stroke-linejoin="round" />
<path d="M317.64 3013L319.07 3013L320.5 3013L321.93 3013L323.36 3013L324.79 3013L326.21 3013L327.64 3013L329.07 3013L330.5 3013L331.93 3013L333.36 3013L334.79 3013L336.21 3013L337.64 3013L339.07 3013L340.5 3013L341.93 3013L343.36 3013L344.79 3013L346.21 3013L347.64 3013L349.07 3013L350.5 3013L351.93 3013L353.36 3013L354.79 3013L356.21 3013L357.64 3013L359.07 3013L360.5 3013L361.93 3013L363.36 3013L364.79 3013L366.21 3013L367.64 3013L369.07 3013L370.5 3013L371.93 3013L373.36 3013L374.79 3013L376.21 3013L377.64 3013L379.07 3013L380.5 3013L381.93 3013L383.36 3013L384.79 3013L386.21 3013L387.64 3013L389.07 3012.9L390.5 3012.9L391.93 3012.9L393.36 3012.9L394.79 3012.9L396.21 3012.9L397.64 3012.9L399.07 3012.9L400.5 3012.9L401.93 3012.9L403.36 3012.9L404.79 3012.9L406.21 3012.9L407.64 3012.9L409.07 3012.9L410.5 3012.9L411.93 3012.9L413.36 3012.9L414.79 3012.9L416.21 3012.9L417.64 3012.9L419.07 3012.9L420.5 3012.9L421.93 3012.9L423.36 3012.9L424.79 3012.9L426.21 3012.9L427.64 3012.9L429.07 3012.9L430.5 3012.9L431.93 3012.9L433.36 3012.8L434.79 3012.8L436.21 3012.8L437.64 3012.8L439.07 3012.8L440.5 3012.8L441.93 3012.8L443.36 3012.8L444.79 3012.8L446.21 3012.8L447.64 3012.8L449.07 3012.8L450.5 3012.8L451.93 3012.8L453.36 3012.8L454.79 3012.8L456.21 3012.8L457.64 3012.8L459.07 3012.8L460.5 3012.7L461.93 3012.7L463.36 3012.7L464.79 3012.7L466.21 3012.7L467.64 3012.7L469.07 3012.7L470.5 3012.7L471.93 3012.7L473.36 3012.7L474.79 3012.7L476.21 3012.7L477.64 3012.7L479.07 3012.7L480.5 3012.6L481.93 3012.6L483.36 3012.6L484.79 3012.6L486.21 3012.6L487.64 3012.6L489.07 3012.6L490.5 3012.6L491.93 3012.6L493.36 3012.6L494.79 3012.6L496.21 3012.6L497.64 3012.5L499.07 3012.5L500.5 3012.5L501.93 3012.5L503.36 3012.5L504.79 3012.5L506.21 3012.5L507.64 3012.5L509.07 3012.5L510.5 3012.5L511.93 3012.5L513.36 3012.4L514.79 3012.4L516.21 3012.4L517.64 3012.4L519.07 3012.4L520.5 3012.4L521.93 3012.4L523.36 3012.4L524.79 3012.4L526.21 3012.3L527.64 3012.3L529.07 3012.3L530.5 3012.3L531.93 3012.3L533.36 3012.3L534.79 3012.3L536.21 3012.3L537.64 3012.3L539.07 3012.2L540.5 3012.2L541.93 3012.2L543.36 3012.2L544.79 3012.2L546.21 3012.2L547.64 3012.2L549.07 3012.2L550.5 3012.1L551.93 3012.1L553.36 3012.1L554.79 3012.1L556.21 3012.1L557.64 3012.1L559.07 3012.1L560.5 3012L561.93 3012L563.36 3012L564.79 3012L566.21 3012L567.64 3012L569.07 3012L570.5 3011.9L571.93 3011.9L573.36 3011.9L574.79 3011.9L576.21 3011.9L577.64 3011.9L579.07 3011.8L580.5 3011.8L581.93 3011.8L583.36 3011.8L584.79 3011.7L586.21 3011.7L587.64 3011.6L589.07 3011.4L590.5 3011.3L591.93 3011.1L593.36 3010.9L594.79 3010.7L596.21 3010.5L597.64 3010.2L599.07 3010L600.5 3009.7L601.93 3009.4L603.36 3009.1L604.79 3008.8L606.21 3008.5L607.64 3008.2L609.07 3007.9L610.5 3007.6L611.93 3007.3L613.36 3006.9L614.79 3006.6L616.21 3006.3L617.64 3005.9L619.07 3005.5L620.5 3005.1L621.93 3004.7L623.36 3004.2L624.79 3003.7L626.21 3003.2L627.64 3002.7L629.07 3002.2L630.5 3001.7L631.93 3001.1L633.36 3000.5L634.79 2999.9L636.21 2999.3L637.64 2998.7L639.07 2998.1L640.5 2997.4L641.93 2996.8L643.36 2996.2L644.79 2995.5L646.21 2994.8L647.64 2994.2L649.07 2993.5L650.5 2992.8L651.93 2992.2L653.36 2991.5L654.79 2990.8L656.21 2990.1L657.64 2989.3L659.07 2988.6L660.5 2987.8L661.93 2987L663.36 2986.2L664.79 2985.4L666.21 2984.6L667.64 2983.7L669.07 2982.8L670.5 2981.9L671.93 2981L673.36 2980.1L674.79 2979.1L676.21 2978.1L677.64 2977.1L679.07 2976.1L680.5 2975L681.93 2973.8L683.36 2972.6L684.79 2971.4L686.21 2970.1L687.64 2968.8L689.07 2967.5L690.5 2966.1L691.93 2964.7L693.36 2963.3L694.79 2961.8L696.21 2960.4L697.64 2959L699.07 2957.5L700.5 2956.1L701.93 2954.7L703.36 2953.3L704.79 2951.9L706.21 2950.6L707.64 2949.3L709.07 2947.9L710.5 2946.6L711.93 2945.2L713.36 2943.8L714.79 2942.5L716.21 2941.1L717.64 2939.8L719.07 2938.4L720.5 2937.1L721.93 2935.7L723.36 2934.4L724.79 2933L726.21 2931.7L727.64 2930.4L729.07 2929.1L730.5 2927.8L731.93 2926.6L733.36 2925.3L734.79 2924L736.21 2922.7L737.64 2921.4L739.07 2920L740.5 2918.6L741.93 2917.2L743.36 2915.8L744.79 2914.4L746.21 2913.1L747.64 2911.8L749.07 2910.5L750.5 2909.3L751.93 2908.1L753.36 2907.1L754.79 2906.1L756.21 2905.2L757.64 2904.4L759.07 2903.7L760.5 2903.1L761.93 2902.6L763.36 2902.2L764.79 2901.7L766.21 2901.2L767.64 2900.8L769.07 2900.3L770.5 2899.9L771.93 2899.5L773.36 2899.1L774.79 2898.7L776.21 2898.3L777.64 2898L779.07 2897.6L780.5 2897.3L781.93 2897L783.36 2896.7L784.79 2896.5L786.21 2896.3L787.64 2896.1L789.07 2895.9L790.5 2895.7L791.93 2895.6L793.36 2895.5L794.79 2895.4L796.21 2895.4L797.64 2895.4L799.07 2895.5L800.5 2895.6L801.93 2895.8L803.36 2896L804.79 2896.3L806.21 2896.7L807.64 2897.1L809.07 2897.5L810.5 2898L811.93 2898.6L813.36 2899.2L814.79 2899.8L816.21 2900.4L817.64 2901.1L819.07 2901.8L820.5 2902.5L821.93 2903.2L823.36 2903.9L824.79 2904.7L826.21 2905.5L827.64 2906.2L829.07 2907L830.5 2907.8L831.93 2908.6L833.36 2909.3L834.79 2910.1L836.21 2911L837.64 2912L839.07 2913L840.5 2914.1L841.93 2915.3L843.36 2916.4L844.79 2917.7L846.21 2919L847.64 2920.2L849.07 2921.5L850.5 2922.9L851.93 2924.2L853.36 2925.5L854.79 2926.7L856.21 2928L857.64 2929.2L859.07 2930.4L860.5 2931.5L861.93 2932.6L863.36 2933.7L864.79 2934.7L866.21 2935.8L867.64 2936.9L869.07 2937.9L870.5 2938.9L871.93 2940L873.36 2941L874.79 2942L876.21 2943L877.64 2944L879.07 2945L880.5 2945.9L881.93 2946.9L883.36 2947.8L884.79 2948.7L886.21 2949.6L887.64 2950.5L889.07 2951.4L890.5 2952.3L891.93 2953.2L893.36 2954.1L894.79 2955.1L896.21 2956L897.64 2956.9L899.07 2957.9L900.5 2958.8L901.93 2959.7L903.36 2960.5L904.79 2961.3L906.21 2962.1L907.64 2962.8L909.07 2963.5L910.5 2964.1L911.93 2964.6L913.36 2965.1L914.79 2965.5L916.21 2965.8L917.64 2966.1L919.07 2966.3L920.5 2966.6L921.93 2966.8L923.36 2967.1L924.79 2967.3L926.21 2967.5L927.64 2967.7L929.07 2967.8L930.5 2968L931.93 2968.1L933.36 2968.2L934.79 2968.3L936.21 2968.3L937.64 2968.3L939.07 2968.3L940.5 2968.2L941.93 2968.2L943.36 2968.1L944.79 2967.9L946.21 2967.8L947.64 2967.6L949.07 2967.5L950.5 2967.3L951.93 2967.1L953.36 2966.8L954.79 2966.6L956.21 2966.4L957.64 2966.1L959.07 2965.9L960.5 2965.6L961.93 2965.2L963.36 2964.8L964.79 2964.3L966.21 2963.6L967.64 2963L969.07 2962.3L970.5 2961.5L971.93 2960.7L973.36 2959.8L974.79 2959L976.21 2958.1L977.64 2957.2L979.07 2956.4L980.5 2955.5L981.93 2954.7L983.36 2953.9L984.79 2953.1L986.21 2952.2L987.64 2951.4L989.07 2950.5L990.5 2949.6L991.93 2948.7L993.36 2947.8L994.79 2946.9L996.21 2946L997.64 2945L999.07 2944.1L1000.5 2943.2L1001.93 2942.4L1003.36 2941.5L1004.79 2940.7L1006.21 2939.8L1007.64 2939L1009.07 2938.2L1010.5 2937.3L1011.93 2936.5L1013.36 2935.6L1014.79 2934.8L1016.21 2934L1017.64 2933.1L1019.07 2932.3L1020.5 2931.5L1021.93 2930.7L1023.36 2930L1024.79 2929.2L1026.21 2928.5L1027.64 2927.8L1029.07 2927.2L1030.5 2926.5L1031.93 2925.9L1033.36 2925.4L1034.79 2924.8L1036.21 2924.2L1037.64 2923.7L1039.07 2923.1L1040.5 2922.6L1041.93 2922L1043.36 2921.5L1044.79 2921L1046.21 2920.5L1047.64 2920L1049.07 2919.5L1050.5 2919.1L1051.93 2918.7L1053.36 2918.4L1054.79 2918L1056.21 2917.8L1057.64 2917.5L1059.07 2917.3L1060.5 2917.2L1061.93 2917.1L1063.36 2917L1064.79 2916.9L1066.21 2916.8L1067.64 2916.7L1069.07 2916.6L1070.5 2916.5L1071.93 2916.4L1073.36 2916.3L1074.79 2916.2L1076.21 2916.2L1077.64 2916.1L1079.07 2916.1L1080.5 2916L1081.93 2916L1083.36 2915.9L1084.79 2915.9L1086.21 2915.9L1087.64 2915.9L1089.07 2915.9L1090.5 2916L1091.93 2916.1L1093.36 2916.3L1094.79 2916.5L1096.21 2916.8L1097.64 2917L1099.07 2917.4L1100.5 2917.7L1101.93 2918.1L1103.36 2918.5L1104.79 2918.9L1106.21 2919.4L1107.64 2919.8L1109.07 2920.3L1110.5 2920.7L1111.93 2921.2L1113.36 2921.7L1114.79 2922.2L1116.21 2922.6L1117.64 2923.2L1119.07 2923.7L1120.5 2924.3L1121.93 2925L1123.36 2925.7L1124.79 2926.4L1126.21 2927.1L1127.64 2927.9L1129.07 2928.7L1130.5 2929.6L1131.93 2930.4L1133.36 2931.3L1134.79 2932.1L1136.21 2933L1137.64 2933.9L1139.07 2934.8L1140.5 2935.7L1141.93 2936.6L1143.36 2937.5L1144.79 2938.4L1146.21 2939.4L1147.64 2940.4L1149.07 2941.4L1150.5 2942.5L1151.93 2943.6L1153.36 2944.7L1154.79 2945.8L1156.21 2946.9L1157.64 2948L1159.07 2949.1L1160.5 2950.3L1161.93 2951.4L1163.36 2952.5L1164.79 2953.6L1166.21 2954.7L1167.64 2955.7L1169.07 2956.7L1170.5 2957.7L1171.93 2958.7L1173.36 2959.7L1174.79 2960.7L1176.21 2961.7L1177.64 2962.7L1179.07 2963.7L1180.5 2964.6L1181.93 2965.6L1183.36 2966.5L1184.79 2967.5L1186.21 2968.4L1187.64 2969.4L1189.07 2970.3L1190.5 2971.2L1191.93 2972.1L1193.36 2972.9L1194.79 2973.8L1196.21 2974.6L1197.64 2975.5L1199.07 2976.3L1200.5 2977.1L1201.93 2977.9L1203.36 2978.7L1204.79 2979.4L1206.21 2980.2L1207.64 2981L1209.07 2981.7L1210.5 2982.4L1211.93 2983.2L1213.36 2983.9L1214.79 2984.6L1216.21 2985.3L1217.64 2986L1219.07 2986.7L1220.5 2987.4L1221.93 2988.1L1223.36 2988.7L1224.79 2989.4L1226.21 2990.1L1227.64 2990.7L1229.07 2991.4L1230.5 2992L1231.93 2992.7L1233.36 2993.3L1234.79 2994L1236.21 2994.6L1237.64 2995.2L1239.07 2995.8L1240.5 2996.4L1241.93 2997L1243.36 2997.6L1244.79 2998.2L1246.21 2998.8L1247.64 2999.3L1249.07 2999.8L1250.5 3000.3L1251.93 3000.8L1253.36 3001.3L1254.79 3001.8L1256.21 3002.3L1257.64 3002.7L1259.07 3003.2L1260.5 3003.6L1261.93 3004.1L1263.36 3004.5L1264.79 3004.9L1266.21 3005.4L1267.64 3005.8L1269.07 3006.2L1270.5 3006.5L1271.93 3006.9L1273.36 3007.3L1274.79 3007.6L1276.21 3007.9L1277.64 3008.2L1279.07 3008.5L1280.5 3008.8L1281.93 3009L1283.36 3009.3L1284.79 3009.6L1286.21 3009.8L1287.64 3010.1L1289.07 3010.3L1290.5 3010.6L1291.93 3010.8L1293.36 3011.1L1294.79 3011.3L1296.21 3011.5L1297.64 3011.7L1299.07 3011.9L1300.5 3012.1L1301.93 3012.3L1303.36 3012.5L1304.79 3012.7L1306.21 3012.9L1307.64 3013L1309.07 3013.2L1310.5 3013.3L1311.93 3013.4L1313.36 3013.5L1314.79 3013.6L1316.21 3013.7L1317.64 3013.8L1319.07 3013.9L1320.5 3013.9L1321.93 3014L1323.36 3014.1L1324.79 3014.2L1326.21 3014.2L1327.64 3014.3L1329.07 3014.4L1330.5 3014.4L1331.93 3014.5L1333.36 3014.6L1334.79 3014.6L1336.21 3014.7L1337.64 3014.7L1339.07 3014.8L1340.5 3014.8L1341.93 3014.9L1343.36 3014.9L1344.79 3014.9L1346.21 3014.9L1347.64 3015L1349.07 3015L1350.5 3015L1351.93 3015L1353.36 3015L1354.79 3015L1356.21 3015L1357.64 3015L1359.07 3015L1360.5 3015L1361.93 3015L1363.36 3015L1364.79 3015L1366.21 3015L1367.64 3015L1369.07 3015L1370.5 3015L1371.93 3015L1373.36 3015L1374.79 3015L1376.21 3015L1377.64 3015L1379.07 3015L1380.5 3015L1381.93 3015L1383.36 3015L1384.79 3015L1386.21 3015L1387.64 3015L1389.07 3015L1390.5 3015L1391.93 3015L1393.36 3015L1394.79 3015L1396.21 3015L1397.64 3015L1399.07 3015L1400.5 3015L1401.93 3015L1403.36 3015L1404.79 3015L1406.21 3015L1407.64 3015L1409.07 3015L1410.5 3015L1411.93 3015L1413.36 3015L1414.79 3015L1416.21 3015L1417.64 3015L1419.07 3015L1420.5 3015L1421.93 3015L1423.36 3015L1424.79 3015L1426.21 3015L1427.64 3015L1429.07 3015L1430.5 3015L1431.93 3015L1433.36 3015L1434.79 3015L1436.21 3015L1437.64 3015L1439.07 3015L1440.5 3015L1441.93 3015L1443.36 3015L1444.79 3015L1446.21 3015L1447.64 3015L1449.07 3015L1450.5 3015L1451.93 3015L1453.36 3015L1454.79 3015L1456.21 3015L1457.64 3015L1459.07 3015L1460.5 3015L1461.93 3015L1463.36 3015L1464.79 3015L1466.21 3015L1467.64 3015L1469.07 3015L1470.5 3015L1471.93 3015L1473.36 3015L1474.79 3015L1476.21 3015L1477.64 3015L1479.07 3015L1480.5 3015L1481.93 3015L1483.36 3015L1484.79 3015L1486.21 3015L1487.64 3015L1489.07 3015L1490.5 3015L1491.93 3015L1493.36 3015L1494.79 3015L1496.21 3015L1497.64 3015L1499.07 3015L1500.5 3015L1501.93 3015L1503.36 3015L1504.79 3015L1506.21 3015L1507.64 3015L1509.07 3015L1510.5 3015L1511.93 3015L1513.36 3015L1514.79 3015L1516.21 3015L1517.64 3015L1519.07 3015L1520.5 3015L1521.93 3015L1523.36 3015L1524.79 3015L1526.21 3015L1527.64 3015L1529.07 3015L1530.5 3015L1531.93 3015L1533.36 3015L1534.79 3015L1536.21 3015L1537.64 3015L1538.86 3015" fill="none" stroke="#ff4612" stroke-width="2" stroke-linejoin="round" />
<path d="M557.14 3475L1342.86 3478" fill="none" stroke="#62a0a8" stroke-width="1.9" stroke-dasharray="10 6"/>
<path d="M918.57 3466.3L920 3466.4L921.43 3466.6L922.86 3466.7L924.29 3466.8L925.71 3467L927.14 3467.1L928.57 3467.2L930 3467.3L931.43 3467.4L932.86 3467.4L934.29 3467.5L935.71 3467.5L937.14 3467.5L938.57 3467.5L940 3467.5L941.43 3467.4L942.86 3467.4L944.29 3467.3L945.71 3467.3L947.14 3467.3L948.57 3467.2L950 3467.2L951.43 3467.1L952.86 3467.1L954.29 3467.1L955.71 3467L957.14 3467L958.57 3467L960 3467L961.43 3467L962.86 3467.1L964.29 3467.1L965.71 3467.1L967.14 3467.2L968.57 3467.2L970 3467.2L971.43 3467.2L972.86 3467.3L974.29 3467.3L975.71 3467.3L977.14 3467.3L978.57 3467.4L980 3467.4L981.43 3467.4L982.86 3467.5L984.29 3467.5L985.71 3467.6L987.14 3467.6L988.57 3467.7L990 3467.7L991.43 3467.8L992.86 3467.9L994.29 3468L995.71 3468.1L997.14 3468.1L998.57 3468.2L1000 3468.3L1001.43 3468.4L1002.86 3468.5L1004.29 3468.6L1005.71 3468.7L1007.14 3468.8L1008.57 3468.9L1010 3469L1011.43 3469.1L1012.86 3469.2L1014.29 3469.3L1015.71 3469.4L1017.14 3469.5L1018.57 3469.6L1020 3469.7L1021.43 3469.8L1022.86 3469.9L1024.29 3470L1025.71 3470.1L1027.14 3470.2L1028.57 3470.3L1030 3470.4L1031.43 3470.6L1032.86 3470.7L1034.29 3470.8L1035.71 3470.9L1037.14 3471L1038.57 3471.1L1040 3471.2L1041.43 3471.3L1042.86 3471.4L1044.29 3471.5L1045.71 3471.6L1047.14 3471.7L1048.57 3471.8L1050 3471.9L1051.43 3472L1052.86 3472.1L1054.29 3472.2L1055.71 3472.3L1057.14 3472.4L1058.57 3472.4L1060 3472.5L1061.43 3472.6L1062.86 3472.7L1064.29 3472.8L1065.71 3472.9L1067.14 3472.9L1068.57 3473L1070 3473.1L1071.43 3473.2L1072.86 3473.2L1074.29 3473.3L1075.71 3473.4L1077.14 3473.5L1078.57 3473.5L1080 3473.6L1081.43 3473.6L1082.86 3473.7L1084.29 3473.8L1085.71 3473.8L1087.14 3473.9L1088.57 3473.9L1090 3474L1091.43 3474L1092.86 3474.1L1094.29 3474.2L1095.71 3474.2L1097.14 3474.3L1098.57 3474.3L1100 3474.4L1101.43 3474.4L1102.86 3474.5L1104.29 3474.5L1105.71 3474.6" fill="none" stroke="#6c6c6c" stroke-width="2.2" stroke-dasharray="0.1 7" stroke-linecap="round"/>
<path d="M925.71 3473.8L927.14 3473.7L928.57 3473.6L930 3473.5L931.43 3473.4L932.86 3473.2L934.29 3473.1L935.71 3472.9L937.14 3472.7L938.57 3472.5L940 3472.3L941.43 3472.1L942.86 3471.8L944.29 3471.5L945.71 3471.3L947.14 3471L948.57 3470.7L950 3470.3L951.43 3470L952.86 3469.6L954.29 3469.3L955.71 3468.9L957.14 3468.5L958.57 3468.1L960 3467.7L961.43 3467.3L962.86 3466.8L964.29 3466.4L965.71 3466L967.14 3465.5L968.57 3465L970 3464.5L971.43 3463.9L972.86 3463.4L974.29 3462.8L975.71 3462.2L977.14 3461.6L978.57 3461L980 3460.3L981.43 3459.6L982.86 3459L984.29 3458.3L985.71 3457.6L987.14 3456.8L988.57 3456.1L990 3455.4L991.43 3454.6L992.86 3453.9L994.29 3453.2L995.71 3452.4L997.14 3451.7L998.57 3450.9L1000 3450.2L1001.43 3449.4L1002.86 3448.6L1004.29 3447.8L1005.71 3447.1L1007.14 3446.2L1008.57 3445.4L1010 3444.6L1011.43 3443.8L1012.86 3442.9L1014.29 3442.1L1015.71 3441.3L1017.14 3440.4L1018.57 3439.6L1020 3438.8L1021.43 3437.9L1022.86 3437.1L1024.29 3436.3L1025.71 3435.5L1027.14 3434.7L1028.57 3433.9L1030 3433.2L1031.43 3432.4L1032.86 3431.7L1034.29 3431L1035.71 3430.3L1037.14 3429.6L1038.57 3428.9L1040 3428.2L1041.43 3427.6L1042.86 3426.9L1044.29 3426.2L1045.71 3425.6L1047.14 3424.9L1048.57 3424.3L1050 3423.7L1051.43 3423.1L1052.86 3422.5L1054.29 3421.9L1055.71 3421.3L1057.14 3420.7L1058.57 3420.2L1060 3419.6L1061.43 3419.1L1062.86 3418.6L1064.29 3418.1L1065.71 3417.6L1067.14 3417.1L1068.57 3416.7L1070 3416.2L1071.43 3415.8L1072.86 3415.4L1074.29 3415L1075.71 3414.5L1077.14 3414.1L1078.57 3413.7L1080 3413.3L1081.43 3412.9L1082.86 3412.5L1084.29 3412.1L1085.71 3411.7L1087.14 3411.3L1088.57 3410.9L1090 3410.6L1091.43 3410.3L1092.86 3410L1094.29 3409.7L1095.71 3409.4L1097.14 3409.1L1098.57 3408.9L1100 3408.7L1101.43 3408.6L1102.86 3408.4L1104.29 3408.3L1105.71 3408.2L1107.14 3408.2L1108.57 3408.2L1110 3408.2L1111.43 3408.3L1112.86 3408.4L1114.29 3408.5L1115.71 3408.6L1117.14 3408.8L1118.57 3408.9L1120 3409.1L1121.43 3409.4L1122.86 3409.6L1124.29 3409.9" fill="none" stroke="#6c6c6c" stroke-width="2.2" stroke-dasharray="0.1 7" stroke-linecap="round"/>
<path d="M548.46 3478.5L552.43 3479.2L556.25 3475.5L560.26 3477L563.96 3472.3L567.5 3465.3L572.17 3477.8L576.09 3477.3L579.21 3464.8L583.14 3465.1L587.23 3467.8L591.54 3471.8L596.08 3476.4L599.66 3472.8L602.99 3467.7L607.21 3469.6L610.92 3467.4L614.9 3467.5L618.61 3464.1L622.39 3460.4L626.8 3469.6L630.56 3466.1L634.47 3465.5L638.29 3462.9L642.19 3461.9L646.15 3462.5L650.25 3466.7L654.3 3470.2L658.15 3468L661.89 3462.3L666.21 3474.4L670.02 3470.8L673.87 3468.3L677.62 3462.2L681.53 3461.2L685.56 3465L689.27 3456.3L693.22 3456.9L697.3 3463L701.45 3472.8L705.25 3467.2L708.99 3458.3L712.86 3455.4L716.97 3464.1L720.81 3459.6L724.73 3459L728.86 3469L732.69 3464.2L736.53 3459.8L740.41 3457.3L744.5 3465.3L748.49 3468L752.25 3459.7L756.06 3453.8L760.08 3458L764.17 3465.8L768.06 3463.9L771.82 3455.7L775.83 3459.6L779.83 3463.4L783.71 3460.6L787.63 3460.2L791.55 3459.7L795.44 3457.3L799.35 3455.9L803.24 3452.7L807.18 3452.3L811.1 3450.3L815.11 3458.4L819.06 3461.5L822.98 3459.8L826.91 3460.7L830.83 3459.7L834.77 3455.8L838.69 3458.6L842.64 3457.9L846.58 3457.8L850.78 3450.3L854.6 3454.4L858.28 3460.7L862.29 3459.1L866.38 3456.2L870.53 3452.7L874.3 3455.8L877.67 3466.1L881.9 3460.9L885.59 3465.3L889.74 3461.7L893.43 3466.2L897.59 3462.1L901.43 3464L905.26 3466.6L909.19 3467.1L913.34 3460.8L917.23 3461.3L921.16 3460.1L925.03 3462.5L928.93 3462.8L932.8 3462.7L936.98 3465.9L940.26 3459.7L943.88 3457.7L947.86 3457.9L951.98 3458.6L955.48 3455.7L960.18 3459.1L963.14 3453.4L968.88 3461.4L972.1 3457L976.51 3457.6L978.31 3448.9L982.04 3447.3L986.57 3448.2L992.37 3453.1L994.8 3447.3L999.47 3448.6L1001.22 3440.5L1006.71 3444.2L1008.68 3437L1010.08 3428.5L1013.05 3424.5L1019.38 3430.3L1023.45 3429.5L1027.54 3428.8L1031.07 3426.5L1035.3 3426.6L1040.41 3430.1L1042.71 3423.1L1046.35 3421.1L1049.66 3417.8L1052.04 3410.3L1056.81 3412.9L1062.53 3420.5L1064.99 3412.6L1070.46 3420.9L1073.83 3417.2L1077.25 3413.5L1081.41 3414.4L1084.77 3410.4L1088.47 3408.4L1092.98 3412.9L1096.11 3405.7L1100.02 3404.8L1103.91 3401L1107.96 3404.9L1111.16 3419L1114.98 3415.8L1119.9 3405.2L1124.68 3399.7L1127.43 3408.8L1130.69 3413.4L1135.4 3409.4L1138.19 3416.4L1142.15 3416.4L1145.84 3417.6L1149.33 3419.6L1152.53 3422.5L1157.9 3419.1L1162.56 3418.3L1163.62 3427.3L1168.34 3426.5L1174.08 3423L1176.09 3429.4L1180.14 3430.4L1183.03 3434.3L1182.06 3447.2L1186.17 3448L1193.7 3441.3L1199.51 3438.5L1201.63 3444.1L1205.96 3444.5L1208.3 3449.8L1211.32 3453.5L1214.47 3456.9L1218.82 3457L1224.58 3453.4L1227.19 3458.2L1230.06 3462.4L1233.49 3465.1L1236.09 3470.8L1241.94 3465.2L1245.55 3467.1L1249.47 3467.7L1253.59 3467.2L1256.42 3473.8L1260.82 3471.8L1263.34 3481.3L1269.35 3467.7L1271.9 3478.6L1276.04 3477.6L1280.4 3471.6L1284.03 3476.2L1287.9 3478.2L1291.73 3481.8L1295.6 3484.2L1299.74 3476.5L1303.66 3477L1307.54 3479.6L1311.47 3479.5L1315.44 3477.2L1319.28 3483.6L1323.25 3481.6L1327.25 3473.5L1331.14 3477.9L1335.07 3478" fill="none" stroke="#c00000" stroke-width="2.1" stroke-linejoin="round" />
<path d="M548.36 3475L549.79 3474.9L551.21 3474.9L552.64 3474.8L554.07 3474.7L555.5 3474.7L556.93 3474.6L558.36 3474.5L559.79 3474.4L561.21 3474.3L562.64 3474.2L564.07 3474.1L565.5 3474L566.93 3473.8L568.36 3473.7L569.79 3473.6L571.21 3473.5L572.64 3473.3L574.07 3473.2L575.5 3473.1L576.93 3472.9L578.36 3472.8L579.79 3472.6L581.21 3472.5L582.64 3472.3L584.07 3472.2L585.5 3472L586.93 3471.9L588.36 3471.7L589.79 3471.5L591.21 3471.3L592.64 3471L594.07 3470.8L595.5 3470.5L596.93 3470.3L598.36 3470L599.79 3469.7L601.21 3469.4L602.64 3469.2L604.07 3468.9L605.5 3468.6L606.93 3468.3L608.36 3468.1L609.79 3467.8L611.21 3467.6L612.64 3467.4L614.07 3467.1L615.5 3467L616.93 3466.8L618.36 3466.6L619.79 3466.5L621.21 3466.4L622.64 3466.3L624.07 3466.2L625.5 3466.1L626.93 3466L628.36 3465.9L629.79 3465.8L631.21 3465.7L632.64 3465.6L634.07 3465.5L635.5 3465.4L636.93 3465.3L638.36 3465.2L639.79 3465.1L641.21 3465L642.64 3464.9L644.07 3464.8L645.5 3464.7L646.93 3464.7L648.36 3464.6L649.79 3464.5L651.21 3464.4L652.64 3464.3L654.07 3464.3L655.5 3464.2L656.93 3464.1L658.36 3464L659.79 3464L661.21 3463.9L662.64 3463.8L664.07 3463.7L665.5 3463.7L666.93 3463.6L668.36 3463.5L669.79 3463.5L671.21 3463.4L672.64 3463.3L674.07 3463.3L675.5 3463.2L676.93 3463.2L678.36 3463.1L679.79 3463L681.21 3463L682.64 3462.9L684.07 3462.9L685.5 3462.8L686.93 3462.8L688.36 3462.7L689.79 3462.7L691.21 3462.6L692.64 3462.6L694.07 3462.5L695.5 3462.4L696.93 3462.4L698.36 3462.3L699.79 3462.3L701.21 3462.3L702.64 3462.2L704.07 3462.2L705.5 3462.1L706.93 3462.1L708.36 3462L709.79 3462L711.21 3461.9L712.64 3461.9L714.07 3461.8L715.5 3461.8L716.93 3461.7L718.36 3461.7L719.79 3461.7L721.21 3461.6L722.64 3461.6L724.07 3461.5L725.5 3461.5L726.93 3461.4L728.36 3461.4L729.79 3461.4L731.21 3461.3L732.64 3461.3L734.07 3461.2L735.5 3461.2L736.93 3461.1L738.36 3461.1L739.79 3461.1L741.21 3461L742.64 3461L744.07 3460.9L745.5 3460.9L746.93 3460.8L748.36 3460.8L749.79 3460.7L751.21 3460.7L752.64 3460.7L754.07 3460.6L755.5 3460.6L756.93 3460.5L758.36 3460.5L759.79 3460.4L761.21 3460.4L762.64 3460.3L764.07 3460.3L765.5 3460.3L766.93 3460.2L768.36 3460.2L769.79 3460.1L771.21 3460.1L772.64 3460L774.07 3460L775.5 3459.9L776.93 3459.9L778.36 3459.9L779.79 3459.8L781.21 3459.8L782.64 3459.7L784.07 3459.7L785.5 3459.7L786.93 3459.6L788.36 3459.6L789.79 3459.5L791.21 3459.5L792.64 3459.5L794.07 3459.4L795.5 3459.4L796.93 3459.4L798.36 3459.3L799.79 3459.3L801.21 3459.3L802.64 3459.2L804.07 3459.2L805.5 3459.2L806.93 3459.2L808.36 3459.1L809.79 3459.1L811.21 3459.1L812.64 3459.1L814.07 3459L815.5 3459L816.93 3459L818.36 3459L819.79 3459L821.21 3459L822.64 3458.9L824.07 3458.9L825.5 3458.9L826.93 3458.9L828.36 3458.9L829.79 3458.9L831.21 3458.9L832.64 3458.9L834.07 3458.9L835.5 3458.9L836.93 3458.9L838.36 3459L839.79 3459L841.21 3459L842.64 3459.1L844.07 3459.1L845.5 3459.2L846.93 3459.2L848.36 3459.3L849.79 3459.4L851.21 3459.4L852.64 3459.5L854.07 3459.6L855.5 3459.7L856.93 3459.8L858.36 3459.9L859.79 3460L861.21 3460.1L862.64 3460.2L864.07 3460.3L865.5 3460.4L866.93 3460.5L868.36 3460.6L869.79 3460.7L871.21 3460.8L872.64 3461L874.07 3461.1L875.5 3461.2L876.93 3461.3L878.36 3461.4L879.79 3461.6L881.21 3461.7L882.64 3461.8L884.07 3461.9L885.5 3462.1L886.93 3462.2L888.36 3462.3L889.79 3462.4L891.21 3462.5L892.64 3462.7L894.07 3462.8L895.5 3462.9L896.93 3463L898.36 3463.1L899.79 3463.2L901.21 3463.3L902.64 3463.4L904.07 3463.5L905.5 3463.6L906.93 3463.7L908.36 3463.8L909.79 3463.8L911.21 3463.9L912.64 3464L914.07 3464.1L915.5 3464.1L916.93 3464.2L918.36 3464.2L919.79 3464.3L921.21 3464.3L922.64 3464.3L924.07 3464.4L925.5 3464.4L926.93 3464.4L928.36 3464.4L929.79 3464.4L931.21 3464.3L932.64 3464.2L934.07 3464.1L935.5 3464L936.93 3463.8L938.36 3463.6L939.79 3463.3L941.21 3463.1L942.64 3462.8L944.07 3462.5L945.5 3462.1L946.93 3461.8L948.36 3461.4L949.79 3461.1L951.21 3460.7L952.64 3460.3L954.07 3459.9L955.5 3459.5L956.93 3459.1L958.36 3458.6L959.79 3458.2L961.21 3457.8L962.64 3457.4L964.07 3457L965.5 3456.6L966.93 3456.1L968.36 3455.7L969.79 3455.2L971.21 3454.7L972.64 3454.1L974.07 3453.6L975.5 3453L976.93 3452.4L978.36 3451.8L979.79 3451.2L981.21 3450.5L982.64 3449.9L984.07 3449.2L985.5 3448.6L986.93 3447.9L988.36 3447.3L989.79 3446.6L991.21 3445.9L992.64 3445.2L994.07 3444.6L995.5 3443.9L996.93 3443.2L998.36 3442.6L999.79 3441.9L1001.21 3441.2L1002.64 3440.6L1004.07 3439.9L1005.5 3439.2L1006.93 3438.5L1008.36 3437.7L1009.79 3437L1011.21 3436.3L1012.64 3435.5L1014.07 3434.8L1015.5 3434L1016.93 3433.3L1018.36 3432.6L1019.79 3431.8L1021.21 3431.1L1022.64 3430.4L1024.07 3429.6L1025.5 3428.9L1026.93 3428.2L1028.36 3427.6L1029.79 3426.9L1031.21 3426.3L1032.64 3425.6L1034.07 3425L1035.5 3424.4L1036.93 3423.8L1038.36 3423.3L1039.79 3422.7L1041.21 3422.1L1042.64 3421.5L1044.07 3421L1045.5 3420.4L1046.93 3419.9L1048.36 3419.3L1049.79 3418.8L1051.21 3418.3L1052.64 3417.7L1054.07 3417.2L1055.5 3416.7L1056.93 3416.2L1058.36 3415.7L1059.79 3415.3L1061.21 3414.8L1062.64 3414.4L1064.07 3414L1065.5 3413.5L1066.93 3413.2L1068.36 3412.8L1069.79 3412.4L1071.21 3412.1L1072.64 3411.7L1074.07 3411.4L1075.5 3411L1076.93 3410.6L1078.36 3410.3L1079.79 3409.9L1081.21 3409.6L1082.64 3409.2L1084.07 3408.9L1085.5 3408.5L1086.93 3408.2L1088.36 3407.9L1089.79 3407.6L1091.21 3407.3L1092.64 3407L1094.07 3406.8L1095.5 3406.6L1096.93 3406.4L1098.36 3406.2L1099.79 3406L1101.21 3405.9L1102.64 3405.8L1104.07 3405.7L1105.5 3405.7L1106.93 3405.7L1108.36 3405.7L1109.79 3405.8L1111.21 3405.9L1112.64 3406L1114.07 3406.2L1115.5 3406.3L1116.93 3406.5L1118.36 3406.7L1119.79 3407L1121.21 3407.2L1122.64 3407.5L1124.07 3407.8L1125.5 3408.1L1126.93 3408.4L1128.36 3408.8L1129.79 3409.1L1131.21 3409.5L1132.64 3409.8L1134.07 3410.2L1135.5 3410.6L1136.93 3410.9L1138.36 3411.3L1139.79 3411.7L1141.21 3412.1L1142.64 3412.5L1144.07 3412.9L1145.5 3413.4L1146.93 3413.9L1148.36 3414.4L1149.79 3415L1151.21 3415.6L1152.64 3416.3L1154.07 3416.9L1155.5 3417.6L1156.93 3418.4L1158.36 3419.1L1159.79 3419.8L1161.21 3420.6L1162.64 3421.4L1164.07 3422.2L1165.5 3423L1166.93 3423.8L1168.36 3424.6L1169.79 3425.4L1171.21 3426.3L1172.64 3427.1L1174.07 3427.9L1175.5 3428.7L1176.93 3429.5L1178.36 3430.3L1179.79 3431.1L1181.21 3431.9L1182.64 3432.8L1184.07 3433.7L1185.5 3434.6L1186.93 3435.5L1188.36 3436.5L1189.79 3437.4L1191.21 3438.3L1192.64 3439.3L1194.07 3440.2L1195.5 3441.2L1196.93 3442.2L1198.36 3443.1L1199.79 3444.1L1201.21 3445L1202.64 3445.9L1204.07 3446.9L1205.5 3447.8L1206.93 3448.7L1208.36 3449.5L1209.79 3450.4L1211.21 3451.2L1212.64 3452L1214.07 3452.8L1215.5 3453.6L1216.93 3454.4L1218.36 3455.2L1219.79 3456L1221.21 3456.8L1222.64 3457.6L1224.07 3458.4L1225.5 3459.2L1226.93 3460L1228.36 3460.8L1229.79 3461.5L1231.21 3462.3L1232.64 3463L1234.07 3463.7L1235.5 3464.4L1236.93 3465.1L1238.36 3465.7L1239.79 3466.4L1241.21 3467L1242.64 3467.5L1244.07 3468.1L1245.5 3468.6L1246.93 3469L1248.36 3469.5L1249.79 3469.9L1251.21 3470.3L1252.64 3470.7L1254.07 3471.1L1255.5 3471.5L1256.93 3471.9L1258.36 3472.3L1259.79 3472.7L1261.21 3473L1262.64 3473.4L1264.07 3473.7L1265.5 3474.1L1266.93 3474.4L1268.36 3474.7L1269.79 3475L1271.21 3475.3L1272.64 3475.5L1274.07 3475.8L1275.5 3476L1276.93 3476.2L1278.36 3476.4L1279.79 3476.5L1281.21 3476.6L1282.64 3476.7L1284.07 3476.8L1285.5 3476.9L1286.93 3477L1288.36 3477L1289.79 3477.1L1291.21 3477.2L1292.64 3477.2L1294.07 3477.3L1295.5 3477.3L1296.93 3477.4L1298.36 3477.5L1299.79 3477.5L1301.21 3477.6L1302.64 3477.6L1304.07 3477.7L1305.5 3477.7L1306.93 3477.8L1308.36 3477.8L1309.79 3477.9L1311.21 3477.9L1312.64 3477.9L1314.07 3478L1315.5 3478L1316.93 3478L1318.36 3478.1L1319.79 3478.1L1321.21 3478.1L1322.64 3478.2L1324.07 3478.2L1325.5 3478.2L1326.93 3478.2L1328.36 3478.2L1329.79 3478.3L1331.21 3478.3L1332.64 3478.3L1334.07 3478.3L1335.5 3478.3L1336.93 3478.3L1338.36 3478.3L1338.71 3478.3" fill="none" stroke="#ff4612" stroke-width="2" stroke-linejoin="round" />
<path d="M981.43 3930L1357.14 3940" fill="none" stroke="#62a0a8" stroke-width="1.9" stroke-dasharray="10 6"/>
<path d="M1057.14 3801.3L1058.57 3795.8L1060 3790.4L1061.43 3784.9L1062.86 3779.2L1064.29 3773.4L1065.71 3767.5L1067.14 3761.5L1068.57 3755.5L1070 3749.6L1071.43 3743.7L1072.86 3737.9L1074.29 3732.2L1075.71 3726.7L1077.14 3721.5L1078.57 3716.4L1080 3711.4L1081.43 3706.4L1082.86 3701.5L1084.29 3696.7L1085.71 3692.2L1087.14 3687.9L1088.57 3683.9L1090 3680.4L1091.43 3677.2L1092.86 3674.5L1094.29 3672.4L1095.71 3670.8L1097.14 3669.7L1098.57 3669.1L1100 3668.9L1101.43 3669L1102.86 3669.5L1104.29 3670.4L1105.71 3671.6L1107.14 3673.2L1108.57 3675L1110 3677.1L1111.43 3679.5L1112.86 3682.2L1114.29 3685.1L1115.71 3688.4L1117.14 3692L1118.57 3695.9L1120 3700.1L1121.43 3704.5L1122.86 3709.2L1124.29 3714.1L1125.71 3719.1L1127.14 3724.2L1128.57 3729.5L1130 3734.9L1131.43 3740.3L1132.86 3745.7L1134.29 3751.1L1135.71 3756.6L1137.14 3762L1138.57 3767.6L1140 3773.1L1141.43 3778.7L1142.86 3784.3L1144.29 3789.9L1145.71 3795.5L1147.14 3801.2L1148.57 3806.8L1150 3812.3L1151.43 3817.8L1152.86 3823.1L1154.29 3828.2L1155.71 3833.3L1157.14 3838.3L1158.57 3843.1L1160 3847.9L1161.43 3852.5L1162.86 3857.1L1164.29 3861.4L1165.71 3865.6L1167.14 3869.7L1168.57 3873.5L1170 3877.1L1171.43 3880.6L1172.86 3884L1174.29 3887.1L1175.71 3890.2L1177.14 3893L1178.57 3895.8L1180 3898.4L1181.43 3900.9L1182.86 3903.3L1184.29 3905.5L1185.71 3907.6L1187.14 3909.6L1188.57 3911.4L1190 3913.2L1191.43 3914.8L1192.86 3916.3L1194.29 3917.8L1195.71 3919.2L1197.14 3920.5L1198.57 3921.7L1200 3922.8L1201.43 3923.9L1202.86 3924.9L1204.29 3925.8L1205.71 3926.7L1207.14 3927.5L1208.57 3928.2L1210 3929L1211.43 3929.6L1212.86 3930.2L1214.29 3930.8L1215.71 3931.3L1217.14 3931.8L1218.57 3932.3L1220 3932.7L1221.43 3933.1L1222.86 3933.4L1224.29 3933.7" fill="none" stroke="#6c6c6c" stroke-width="3.2" stroke-dasharray="0.1 8.5" stroke-linecap="round"/>
<path d="M1060 3929.3L1061.43 3929L1062.86 3928.6L1064.29 3928.2L1065.71 3927.7L1067.14 3927.2L1068.57 3926.6L1070 3926L1071.43 3925.3L1072.86 3924.5L1074.29 3923.6L1075.71 3922.6L1077.14 3921.6L1078.57 3920.4L1080 3919.1L1081.43 3917.7L1082.86 3916.2L1084.29 3914.5L1085.71 3912.6L1087.14 3910.6L1088.57 3908.5L1090 3906.1L1091.43 3903.6L1092.86 3900.9L1094.29 3898L1095.71 3895L1097.14 3891.8L1098.57 3888.3L1100 3884.7L1101.43 3880.8L1102.86 3876.7L1104.29 3872.4L1105.71 3867.8L1107.14 3862.9L1108.57 3857.8L1110 3852.5L1111.43 3846.8L1112.86 3840.9L1114.29 3834.7L1115.71 3828.2L1117.14 3821.5L1118.57 3814.5L1120 3807.3L1121.43 3799.9L1122.86 3792.3L1124.29 3784.4L1125.71 3776.2L1127.14 3767.9L1128.57 3759.3L1130 3750.5L1131.43 3741.5L1132.86 3732.2L1134.29 3722.6L1135.71 3712.8L1137.14 3702.9L1138.57 3692.8L1140 3682.6L1141.43 3672.4L1142.86 3662.2L1144.29 3652L1145.71 3642L1147.14 3632.1L1148.57 3622.5L1150 3613L1151.43 3603.5L1152.86 3594.2L1154.29 3585L1155.71 3576L1157.14 3567.3L1158.57 3559.1L1160 3551.3L1161.43 3544L1162.86 3537.3L1164.29 3531.1L1165.71 3525.1L1167.14 3519.4L1168.57 3514L1170 3508.8L1171.43 3504.1L1172.86 3499.7L1174.29 3495.7L1175.71 3492.2L1177.14 3489.2L1178.57 3486.8L1180 3484.9L1181.43 3483.6L1182.86 3482.7L1184.29 3482.4L1185.71 3482.4L1187.14 3482.8L1188.57 3483.4L1190 3484.3L1191.43 3485.4L1192.86 3487L1194.29 3489.5L1195.71 3492.7L1197.14 3496.6L1198.57 3501.1L1200 3506.1L1201.43 3511.5L1202.86 3517.2L1204.29 3523.1L1205.71 3529.1L1207.14 3535.6L1208.57 3542.8L1210 3550.7L1211.43 3559L1212.86 3567.7L1214.29 3576.7L1215.71 3585.9L1217.14 3595.2L1218.57 3604.5L1220 3613.7L1221.43 3623L1222.86 3632.6L1224.29 3642.4L1225.71 3652.3L1227.14 3662.3" fill="none" stroke="#6c6c6c" stroke-width="3.2" stroke-dasharray="0.1 8.5" stroke-linecap="round"/>
<path d="M856.72 3935.5L861.71 3930.1L866.72 3931.6L871.72 3932.2L876.67 3926.2L881.71 3930.6L886.73 3932.4L891.74 3932.2L896.82 3937.2L901.79 3934.8L906.66 3927.5L911.63 3925.9L916.74 3931.6L921.67 3927.4L926.67 3927.5L931.75 3931.1L936.63 3926.6L941.65 3927.2L946.79 3930.7L951.65 3927.2L956.35 3925.1L961.83 3927.2L966.12 3922.3L970.59 3918.4L976.92 3922.7L982.21 3921.9L985.34 3914.1L990.4 3912.3L998.53 3915.1L1000.39 3906.3L1004.87 3902L1011.21 3899.8L1013.67 3892.6L1017.37 3888.6L1019.61 3883.3L1024.69 3881.4L1030.12 3879.4L1029.61 3871.3L1030.95 3865.3L1034.67 3861.3L1036.52 3855.7L1039.55 3851L1040.97 3845.2L1043.99 3840.3L1046.23 3834.8L1047.79 3828.9L1050.3 3823.4L1052.77 3817.2L1053.01 3810.1L1055.15 3803.8L1057.98 3797.7L1058.77 3790.8L1061.32 3784.6L1061.82 3777.7L1062.16 3770.6L1064.67 3764.4L1065.74 3757.6L1068.47 3751.4L1070.09 3744.8L1072.21 3738.4L1072 3731.2L1071.82 3724.1L1075.48 3718.1L1076.17 3711.3L1078.18 3704.8L1079.26 3698.1L1080.58 3691.4L1083.55 3685.3L1084.44 3678.5L1084.15 3671.2L1085.59 3664.6L1089.04 3658.7L1090.75 3652.2L1092.29 3645.6L1093.81 3639L1095.53 3632.6L1097.25 3626.1L1098.16 3619.2L1101.66 3613.8L1104.94 3608.3L1104.52 3600.5L1107.78 3595L1113.22 3591L1117.82 3586.5L1117.16 3578.5L1118.97 3572.1L1123.56 3567.7L1126.9 3562.3L1127.85 3555.3L1130.62 3549.5L1132.78 3543.3L1134.67 3537L1136.47 3530.6L1138.99 3524.5L1140.81 3518.1L1143.02 3511.8L1145.11 3505.5L1148.02 3499.5L1151.85 3494.1L1152.68 3487.1L1152.85 3479.7L1155.15 3473.5L1157.56 3467.3L1158.46 3459.6L1163.26 3455.9L1167.91 3448.7L1173.48 3441.2L1177.03 3438.4L1180.93 3446.1L1183.89 3455.7L1188.85 3459.9L1192.69 3464.9L1195.09 3471.2L1197 3477.7L1197.49 3484.8L1199.54 3491.2L1201.78 3497.7L1203.53 3504.3L1203.13 3511.6L1204.81 3518.2L1207.08 3524.7L1208.88 3531.3L1209.47 3538.3L1210.88 3545L1212.5 3551.7L1214.8 3558.3L1216.33 3565L1215.36 3572.3L1214.66 3579.6L1217.62 3586L1218.42 3592.8L1218.25 3599.9L1216.53 3607.4L1219.58 3613.8L1222.85 3620.1L1224.01 3626.9L1223.44 3634.1L1223.01 3641.3L1225.09 3647.9L1225.18 3654.9L1224.43 3662.1L1227.47 3668.5L1229.1 3675.3L1230.13 3682.1L1232.01 3688.8L1233.11 3695.6L1233.79 3702.5L1235.67 3709.1L1236.22 3716.1L1235.64 3723.3L1237.76 3729.8L1239.5 3736.5L1240.64 3743.3L1240.71 3750.4L1241.41 3757.3L1241.8 3764.3L1243.42 3771L1246.43 3777.3L1246.37 3784.4L1247.07 3791.3L1247.46 3798.3L1248.18 3805.2L1252.84 3811L1255.56 3817.4L1254.51 3824.7L1255.27 3831.6L1258.48 3837.8L1259.18 3844.7L1257.87 3852.2L1258.93 3859.1L1262.48 3864.9L1264.25 3871.4L1264.7 3878.5L1267.58 3884.5L1268.5 3891.5L1272.4 3896.7L1273.65 3903.8L1274.97 3911.2L1280.25 3914.8L1285.22 3918.2L1289.65 3922L1295.19 3923.2L1298.16 3929.3L1301.18 3936.2L1306.44 3938.2L1312.17 3937.8L1317.45 3937.1L1322.65 3934.1L1327.68 3933.3L1332.7 3931.8L1337.52 3936.2L1342.5 3936.1L1347.47 3938.6L1352.47 3937.6L1357.5 3940.8L1362.55 3945.3L1367.55 3945.4L1372.54 3944.1L1377.49 3938.9L1382.45 3935.9L1387.44 3934.5L1392.47 3936.8L1397.53 3942.9" fill="none" stroke="#000" stroke-width="3.2" stroke-linejoin="round" />
<path d="M856.71 3931L858.14 3931L859.57 3931.1L861 3931.1L862.43 3931.2L863.86 3931.2L865.29 3931.2L866.71 3931.3L868.14 3931.3L869.57 3931.3L871 3931.3L872.43 3931.4L873.86 3931.4L875.29 3931.4L876.71 3931.4L878.14 3931.5L879.57 3931.5L881 3931.5L882.43 3931.5L883.86 3931.5L885.29 3931.5L886.71 3931.6L888.14 3931.6L889.57 3931.6L891 3931.6L892.43 3931.6L893.86 3931.6L895.29 3931.6L896.71 3931.6L898.14 3931.6L899.57 3931.7L901 3931.7L902.43 3931.7L903.86 3931.7L905.29 3931.7L906.71 3931.7L908.14 3931.7L909.57 3931.7L911 3931.7L912.43 3931.7L913.86 3931.7L915.29 3931.7L916.71 3931.7L918.14 3931.7L919.57 3931.7L921 3931.7L922.43 3931.7L923.86 3931.7L925.29 3931.7L926.71 3931.7L928.14 3931.7L929.57 3931.7L931 3931.7L932.43 3931.7L933.86 3931.7L935.29 3931.7L936.71 3931.6L938.14 3931.6L939.57 3931.6L941 3931.6L942.43 3931.5L943.86 3931.5L945.29 3931.5L946.71 3931.4L948.14 3931.4L949.57 3931.3L951 3931.3L952.43 3931.2L953.86 3931.2L955.29 3931.1L956.71 3931L958.14 3931L959.57 3930.9L961 3930.8L962.43 3930.7L963.86 3930.7L965.29 3930.6L966.71 3930.5L968.14 3930.4L969.57 3930.3L971 3930.2L972.43 3930.1L973.86 3930L975.29 3929.9L976.71 3929.7L978.14 3929.6L979.57 3929.5L981 3929.4L982.43 3929.2L983.86 3929L985.29 3928.7L986.71 3928.3L988.14 3927.9L989.57 3927.4L991 3926.8L992.43 3926.1L993.86 3925.4L995.29 3924.6L996.71 3923.7L998.14 3922.9L999.57 3921.9L1001 3921L1002.43 3920L1003.86 3918.9L1005.29 3917.9L1006.71 3916.8L1008.14 3915.6L1009.57 3914.2L1011 3912.6L1012.43 3910.9L1013.86 3909L1015.29 3907L1016.71 3904.8L1018.14 3902.6L1019.57 3900.2L1021 3897.9L1022.43 3895.4L1023.86 3893L1025.29 3890.5L1026.71 3887.9L1028.14 3885.2L1029.57 3882.4L1031 3879.5L1032.43 3876.4L1033.86 3873.2L1035.29 3869.9L1036.71 3866.5L1038.14 3863L1039.57 3859.3L1041 3855.5L1042.43 3851.6L1043.86 3847.5L1045.29 3843L1046.71 3838.3L1048.14 3833.4L1049.57 3828.3L1051 3823.1L1052.43 3817.7L1053.86 3812.1L1055.29 3806.5L1056.71 3800.8L1058.14 3795.1L1059.57 3789.3L1061 3783.5L1062.43 3777.5L1063.86 3771.3L1065.29 3764.9L1066.71 3758.4L1068.14 3751.8L1069.57 3745.2L1071 3738.5L1072.43 3731.9L1073.86 3725.3L1075.29 3718.8L1076.71 3712.4L1078.14 3706.1L1079.57 3699.8L1081 3693.4L1082.43 3686.9L1083.86 3680.4L1085.29 3673.9L1086.71 3667.6L1088.14 3661.4L1089.57 3655.3L1091 3649.5L1092.43 3644L1093.86 3638.9L1095.29 3634.1L1096.71 3629.7L1098.14 3625.5L1099.57 3621.5L1101 3617.7L1102.43 3614.1L1103.86 3610.5L1105.29 3607.1L1106.71 3603.8L1108.14 3600.5L1109.57 3597.2L1111 3593.9L1112.43 3590.6L1113.86 3587.2L1115.29 3583.9L1116.71 3580.8L1118.14 3577.7L1119.57 3574.6L1121 3571.6L1122.43 3568.6L1123.86 3565.6L1125.29 3562.4L1126.71 3559.3L1128.14 3556L1129.57 3552.5L1131 3548.9L1132.43 3545.1L1133.86 3541L1135.29 3536.6L1136.71 3532.2L1138.14 3527.6L1139.57 3522.9L1141 3518.2L1142.43 3513.5L1143.86 3508.9L1145.29 3504.4L1146.71 3500.1L1148.14 3496L1149.57 3492L1151 3488L1152.43 3483.9L1153.86 3479.8L1155.29 3475.8L1156.71 3472L1158.14 3468.4L1159.57 3465.2L1161 3462.4L1162.43 3460.1L1163.86 3458.2L1165.29 3456.4L1166.71 3454.6L1168.14 3452.9L1169.57 3451.4L1171 3450L1172.43 3448.8L1173.86 3447.9L1175.29 3447.3L1176.71 3447L1178.14 3447.1L1179.57 3447.7L1181 3448.7L1182.43 3450.1L1183.86 3451.9L1185.29 3453.9L1186.71 3456.1L1188.14 3458.6L1189.57 3461.1L1191 3463.7L1192.43 3466.6L1193.86 3470.3L1195.29 3474.7L1196.71 3479.7L1198.14 3485.3L1199.57 3491.2L1201 3497.6L1202.43 3504.2L1203.86 3510.9L1205.29 3517.7L1206.71 3524.8L1208.14 3532.5L1209.57 3540.9L1211 3549.7L1212.43 3558.9L1213.86 3568.4L1215.29 3578.1L1216.71 3587.8L1218.14 3597.6L1219.57 3607.2L1221 3616.8L1222.43 3626.6L1223.86 3636.6L1225.29 3646.8L1226.71 3657L1228.14 3667.2L1229.57 3677.4L1231 3687.5L1232.43 3697.4L1233.86 3707L1235.29 3716.6L1236.71 3726.1L1238.14 3735.6L1239.57 3745L1241 3754.3L1242.43 3763.4L1243.86 3772.3L1245.29 3781L1246.71 3789.4L1248.14 3797.5L1249.57 3805.4L1251 3813.3L1252.43 3821.1L1253.86 3828.8L1255.29 3836.2L1256.71 3843.4L1258.14 3850.1L1259.57 3856.4L1261 3862.2L1262.43 3867.3L1263.86 3872.1L1265.29 3876.7L1266.71 3881L1268.14 3885.2L1269.57 3889L1271 3892.7L1272.43 3896.1L1273.86 3899.2L1275.29 3902.1L1276.71 3904.6L1278.14 3907.1L1279.57 3909.4L1281 3911.6L1282.43 3913.7L1283.86 3915.7L1285.29 3917.6L1286.71 3919.3L1288.14 3921L1289.57 3922.5L1291 3924L1292.43 3925.3L1293.86 3926.4L1295.29 3927.5L1296.71 3928.5L1298.14 3929.5L1299.57 3930.5L1301 3931.5L1302.43 3932.4L1303.86 3933.2L1305.29 3934L1306.71 3934.8L1308.14 3935.5L1309.57 3936.1L1311 3936.6L1312.43 3937L1313.86 3937.4L1315.29 3937.7L1316.71 3937.8L1318.14 3938L1319.57 3938.2L1321 3938.3L1322.43 3938.5L1323.86 3938.6L1325.29 3938.8L1326.71 3938.9L1328.14 3939L1329.57 3939.1L1331 3939.3L1332.43 3939.4L1333.86 3939.5L1335.29 3939.6L1336.71 3939.6L1338.14 3939.7L1339.57 3939.8L1341 3939.9L1342.43 3939.9L1343.86 3940L1345.29 3940L1346.71 3940.1L1348.14 3940.1L1349.57 3940.2L1351 3940.2L1352.43 3940.2L1353.86 3940.2L1355.29 3940.2L1356.71 3940.2L1358.14 3940.2L1359.57 3940.2L1361 3940.2L1362.43 3940.2L1363.86 3940.2L1365.29 3940.2L1366.71 3940.2L1368.14 3940.2L1369.57 3940.2L1371 3940.2L1372.43 3940.2L1373.86 3940.2L1375.29 3940.2L1376.71 3940.2L1378.14 3940.2L1379.57 3940.2L1381 3940.2L1382.43 3940.2L1383.86 3940.2L1385.29 3940.2L1386.71 3940.2L1388.14 3940.2L1389.57 3940.2L1391 3940.2L1392.43 3940.2L1393.86 3940.2L1395.29 3940.2L1396.71 3940.2L1398.14 3940.2L1399.07 3940.2" fill="none" stroke="#ff4612" stroke-width="2.7" stroke-linejoin="round" />
<polygon points="959.65,3793.5 1050.42,3851.8 1047.52,3860.6 1075.36,3862 1056.45,3833.4 1053.55,3842.2 962.78,3783.9" fill="#000"/>
<polygon points="1276.56,3859.7 1243.98,3881 1240.94,3872 1223.5,3900 1250.04,3899.2 1247.01,3890.1 1279.59,3868.7" fill="#000"/>
<rect x="1465.5" y="2824.1" width="140.29" height="90.7" fill="#fff" stroke="#111" stroke-width="3.4"/>
<path d="M226.79 4014.3H237.86M226.79 3977.2H237.86M226.79 3940.2H237.86M226.79 3903.4H237.86M226.79 3866.5H237.86M226.79 3829.7H237.86M226.79 3792.8H237.86M226.79 3756H237.86M226.79 3718.7H237.86M226.79 3681.5H237.86M226.79 3644.2H237.86M226.79 3607H237.86M226.79 3569.7H237.86M226.79 3533H237.86M226.79 3496.3H237.86M226.79 3459.6H237.86M226.79 3422.9H237.86M226.79 3386.2H237.86M226.79 3348.6H237.86M226.79 3310.9H237.86M226.79 3273.3H237.86M226.79 3235.6H237.86M226.79 3198H237.86M226.79 3161.4H237.86M226.79 3124.7H237.86M226.79 3088.1H237.86M226.79 3051.4H237.86M226.79 3014.8H237.86M226.79 2977.8H237.86M226.79 2940.8H237.86M226.79 2903.8H237.86M226.79 2866.8H237.86M226.79 2829.8H237.86M217.14 3940.2H237.86M217.14 3756H237.86M217.14 3569.7H237.86M217.14 3386.2H237.86M217.14 3198H237.86M217.14 3014.8H237.86M217.14 2829.8H237.86" fill="none" stroke="#161616" stroke-width="2.6"/>
<path d="M1578.69 4017.8V4027.8M1533.24 4017.8V4027.8M1487.79 4017.8V4027.8M1442.36 4017.8V4027.8M1396.94 4017.8V4027.8M1351.52 4017.8V4027.8M1306.1 4017.8V4027.8M1260.68 4017.8V4027.8M1215.26 4017.8V4027.8M1169.84 4017.8V4027.8M1124.41 4017.8V4027.8M1078.99 4017.8V4027.8M1033.57 4017.8V4027.8M988.09 4017.8V4027.8M942.61 4017.8V4027.8M897.14 4017.8V4027.8M851.66 4017.8V4027.8M806.18 4017.8V4027.8M760.7 4017.8V4027.8M715.22 4017.8V4027.8M669.74 4017.8V4027.8M624.26 4017.8V4027.8M578.79 4017.8V4027.8M533.34 4017.8V4027.8M487.89 4017.8V4027.8M442.44 4017.8V4027.8M396.99 4017.8V4027.8M351.54 4017.8V4027.8M306.09 4017.8V4027.8M260.64 4017.8V4027.8M578.79 4017.8V4034.8M1033.57 4017.8V4034.8M1487.79 4017.8V4034.8" fill="none" stroke="#161616" stroke-width="3.9"/>
<path d="M237.86 2807.9H1619.29" fill="none" stroke="#757575" stroke-width="3.0" stroke-linecap="square"/>
<path d="M237.86 4017.8H1619.29" fill="none" stroke="#161616" stroke-width="3.0" stroke-linecap="square"/>
<path d="M237.86 2807.9V4019.3M1619.29 2807.9V4019.3" fill="none" stroke="#161616" stroke-width="3.9"/>
</g>
</g>
<path d="M190.5 1461.5L184 1472.5" stroke="#f0922a" stroke-width="3.4" fill="none"/><path d="M193.6 1462L187.4 1472.8" stroke="#0b2f7a" stroke-width="3" fill="none"/>
<g id="labels">
<text transform="matrix(1.465 0 0 1 255.96 1151.88)" font-family='"Liberation Sans", sans-serif' font-size="41.8" font-weight="normal" fill="#1f1f1f">0</text>
<text transform="matrix(1.465 0 0 1 153.7 934.18)" font-family='"Liberation Sans", sans-serif' font-size="41.8" font-weight="normal" fill="#1f1f1f">1000</text>
<text transform="matrix(1.465 0 0 1 153.7 715.98)" font-family='"Liberation Sans", sans-serif' font-size="41.8" font-weight="normal" fill="#1f1f1f">2000</text>
<text transform="matrix(1.465 0 0 1 153.7 498.08)" font-family='"Liberation Sans", sans-serif' font-size="41.8" font-weight="normal" fill="#1f1f1f">3000</text>
<text transform="matrix(1.465 0 0 1 153.7 280.38)" font-family='"Liberation Sans", sans-serif' font-size="41.8" font-weight="normal" fill="#1f1f1f">4000</text>
<text transform="matrix(1.465 0 0 1 153.7 65.08)" font-family='"Liberation Sans", sans-serif' font-size="41.8" font-weight="normal" fill="#1f1f1f">5000</text>
<text transform="matrix(1.47 0 0 1 441.54 1277.38)" font-family='"Liberation Sans", sans-serif' font-size="41.8" font-weight="normal" fill="#1f1f1f">295</text>
<text transform="matrix(1.47 0 0 1 985.89 1277.38)" font-family='"Liberation Sans", sans-serif' font-size="41.8" font-weight="normal" fill="#1f1f1f">290</text>
<text transform="matrix(1.47 0 0 1 1534.54 1277.38)" font-family='"Liberation Sans", sans-serif' font-size="41.8" font-weight="normal" fill="#1f1f1f">285</text>
<text transform="matrix(1.47 0 0 1 2078.89 1277.38)" font-family='"Liberation Sans", sans-serif' font-size="41.8" font-weight="normal" fill="#1f1f1f">280</text>
<text transform="matrix(1.1608 0 0 1 407.87 129)" font-family='"DejaVu Sans", "Liberation Sans", sans-serif' font-size="54" font-weight="bold" fill="#000">(a)</text>
<text transform="matrix(1.2922 0 0 1 1635.93 191.6)" font-family='"DejaVu Sans", "Liberation Sans", sans-serif' font-size="46.99" font-weight="normal" fill="#00b050" stroke="#00b050" stroke-width="0.8" stroke-linejoin="round">LFP cycled @ 40°C</text>
<text transform="matrix(1.2938 0 0 1 1705.26 588.4)" font-family='"DejaVu Sans", "Liberation Sans", sans-serif' font-size="48.22" font-weight="normal" fill="#ff0000" stroke="#ff0000" stroke-width="0.8" stroke-linejoin="round">LFP cycled @ RT</text>
<text transform="matrix(1.3307 0 0 1 1787.11 1063.9)" font-family='"DejaVu Sans", "Liberation Sans", sans-serif' font-size="46.71" font-weight="normal" fill="#000" stroke="#000" stroke-width="0.8" stroke-linejoin="round">pristine LFP</text>
<text transform="matrix(1.4163 0 0 1 2096.35 88.4)" font-family='"DejaVu Sans", "Liberation Sans", sans-serif' font-size="33.97" font-weight="normal" fill="#000" stroke="#000" stroke-width="1.6" stroke-linejoin="round">C1s</text>
<text transform="matrix(1.4295 0 0 1 984.4 1354.2)" font-family='"Liberation Sans", sans-serif' font-size="48.99" font-weight="normal" fill="#1f1f1f">Binding Energy [eV]</text>
<text transform="translate(107.4 764.98) rotate(-90) scale(0.9958 1.4087)" font-family='"Liberation Sans", sans-serif' font-size="50" fill="#1f1f1f">Intensity [cps]</text>
<text transform="matrix(1.465 0 0 1 258.46 2540.98)" font-family='"Liberation Sans", sans-serif' font-size="41.8" font-weight="normal" fill="#1f1f1f">0</text>
<text transform="matrix(1.465 0 0 1 156.2 2322.78)" font-family='"Liberation Sans", sans-serif' font-size="41.8" font-weight="normal" fill="#1f1f1f">2000</text>
<text transform="matrix(1.465 0 0 1 156.2 2107.38)" font-family='"Liberation Sans", sans-serif' font-size="41.8" font-weight="normal" fill="#1f1f1f">4000</text>
<text transform="matrix(1.465 0 0 1 156.2 1890.48)" font-family='"Liberation Sans", sans-serif' font-size="41.8" font-weight="normal" fill="#1f1f1f">6000</text>
<text transform="matrix(1.465 0 0 1 156.2 1675.38)" font-family='"Liberation Sans", sans-serif' font-size="41.8" font-weight="normal" fill="#1f1f1f">8000</text>
<text transform="matrix(1.465 0 0 1 122.21 1457.98)" font-family='"Liberation Sans", sans-serif' font-size="41.8" font-weight="normal" fill="#1f1f1f">10000</text>
<text transform="matrix(1.47 0 0 1 467.69 2666.08)" font-family='"Liberation Sans", sans-serif' font-size="41.8" font-weight="normal" fill="#1f1f1f">692</text>
<text transform="matrix(1.47 0 0 1 776.39 2666.08)" font-family='"Liberation Sans", sans-serif' font-size="41.8" font-weight="normal" fill="#1f1f1f">690</text>
<text transform="matrix(1.47 0 0 1 1086.54 2666.08)" font-family='"Liberation Sans", sans-serif' font-size="41.8" font-weight="normal" fill="#1f1f1f">688</text>
<text transform="matrix(1.47 0 0 1 1395.54 2666.08)" font-family='"Liberation Sans", sans-serif' font-size="41.8" font-weight="normal" fill="#1f1f1f">686</text>
<text transform="matrix(1.47 0 0 1 1704.88 2666.08)" font-family='"Liberation Sans", sans-serif' font-size="41.8" font-weight="normal" fill="#1f1f1f">684</text>
<text transform="matrix(1.47 0 0 1 2015.29 2666.08)" font-family='"Liberation Sans", sans-serif' font-size="41.8" font-weight="normal" fill="#1f1f1f">682</text>
<text transform="matrix(1.1366 0 0 1 449.04 1509)" font-family='"DejaVu Sans", "Liberation Sans", sans-serif' font-size="55.5" font-weight="bold" fill="#000">(b)</text>
<text transform="matrix(1.3746 0 0 1 1652.36 1571.3)" font-family='"DejaVu Sans", "Liberation Sans", sans-serif' font-size="44.66" font-weight="normal" fill="#00b050" stroke="#00b050" stroke-width="0.5" stroke-linejoin="round">LFP cycled @ 40°C</text>
<text transform="matrix(1.1676 0 0 1 1443.19 1770.3)" font-family='"DejaVu Sans", "Liberation Sans", sans-serif' font-size="53.42" font-weight="bold" fill="#ff0000">Li-P-F / Li-F</text>
<text transform="matrix(1.357 0 0 1 1669.21 1972.3)" font-family='"DejaVu Sans", "Liberation Sans", sans-serif' font-size="45.62" font-weight="normal" fill="#ff0000" stroke="#ff0000" stroke-width="0.5" stroke-linejoin="round">LFP cycled @ RT</text>
<text transform="matrix(1.2331 0 0 1 426.73 2267.1)" font-family='"DejaVu Sans", "Liberation Sans", sans-serif' font-size="49.73" font-weight="bold" fill="#000">C-F (PVDF)</text>
<text transform="matrix(1.3599 0 0 1 1690.88 2451.9)" font-family='"DejaVu Sans", "Liberation Sans", sans-serif' font-size="45.89" font-weight="normal" fill="#000" stroke="#000" stroke-width="0.5" stroke-linejoin="round">pristine LFP</text>
<text transform="matrix(1.2187 0 0 1 2099.11 1479.7)" font-family='"DejaVu Sans", "Liberation Sans", sans-serif' font-size="34.52" font-weight="bold" fill="#000">F1s</text>
<text transform="matrix(1.4169 0 0 1 982.3 2743.4)" font-family='"Liberation Sans", sans-serif' font-size="50.29" font-weight="normal" fill="#1f1f1f">Binding Energy [eV]</text>
<text transform="translate(72.4 2153.52) rotate(-90) scale(1.0045 1.4899)" font-family='"Liberation Sans", sans-serif' font-size="50" fill="#1f1f1f">Intensity [cps]</text>
<text transform="matrix(1.62 0 0 1 245.6 3956.82)" font-family='"Liberation Sans", sans-serif' font-size="38" font-weight="normal" fill="#1f1f1f">0</text>
<text transform="matrix(1.62 0 0 1 176.96 3772.62)" font-family='"Liberation Sans", sans-serif' font-size="38" font-weight="normal" fill="#1f1f1f">100</text>
<text transform="matrix(1.62 0 0 1 176.96 3586.32)" font-family='"Liberation Sans", sans-serif' font-size="38" font-weight="normal" fill="#1f1f1f">200</text>
<text transform="matrix(1.62 0 0 1 176.96 3402.82)" font-family='"Liberation Sans", sans-serif' font-size="38" font-weight="normal" fill="#1f1f1f">300</text>
<text transform="matrix(1.62 0 0 1 176.96 3214.62)" font-family='"Liberation Sans", sans-serif' font-size="38" font-weight="normal" fill="#1f1f1f">400</text>
<text transform="matrix(1.62 0 0 1 176.96 3031.42)" font-family='"Liberation Sans", sans-serif' font-size="38" font-weight="normal" fill="#1f1f1f">500</text>
<text transform="matrix(1.62 0 0 1 176.96 2846.42)" font-family='"Liberation Sans", sans-serif' font-size="38" font-weight="normal" fill="#1f1f1f">600</text>
<text transform="matrix(1.56 0 0 1 759.76 4084.62)" font-family='"Liberation Sans", sans-serif' font-size="38" font-weight="normal" fill="#1f1f1f">140</text>
<text transform="matrix(1.56 0 0 1 1396.61 4084.62)" font-family='"Liberation Sans", sans-serif' font-size="38" font-weight="normal" fill="#1f1f1f">135</text>
<text transform="matrix(1.56 0 0 1 2032.36 4084.62)" font-family='"Liberation Sans", sans-serif' font-size="38" font-weight="normal" fill="#1f1f1f">130</text>
<text transform="matrix(1.1106 0 0 1 394.49 2899)" font-family='"DejaVu Sans", "Liberation Sans", sans-serif' font-size="69" font-weight="bold" fill="#000">(c)</text>
<text transform="matrix(1.3193 0 0 1 1492.78 3118.7)" font-family='"DejaVu Sans", "Liberation Sans", sans-serif' font-size="58.49" font-weight="normal" fill="#00b050" stroke="#00b050" stroke-width="0.7" stroke-linejoin="round">LFP cycled @ 40°C</text>
<text transform="matrix(1.3437 0 0 1 1589.51 3362.1)" font-family='"DejaVu Sans", "Liberation Sans", sans-serif' font-size="57.95" font-weight="normal" fill="#ff0000" stroke="#ff0000" stroke-width="0.7" stroke-linejoin="round">LFP cycled @ RT</text>
<text transform="matrix(1.3749 0 0 1 1766.13 3649.7)" font-family='"DejaVu Sans", "Liberation Sans", sans-serif' font-size="57.12" font-weight="normal" fill="#000" stroke="#000" stroke-width="0.7" stroke-linejoin="round">pristine LFP</text>
<text transform="matrix(1.1849 0 0 1 963.06 3598.4)" font-family='"DejaVu Sans", "Liberation Sans", sans-serif' font-size="71.64" font-weight="bold" fill="#00b0f0">Li-F-P</text>
<text transform="matrix(1.3274 0 0 1 2087.18 2885)" font-family='"DejaVu Sans", "Liberation Sans", sans-serif' font-size="42.88" font-weight="bold" fill="#000">P2p</text>
<text transform="matrix(1.4331 0 0 1 1221.37 3754.1)" font-family='"DejaVu Sans", "Liberation Sans", sans-serif' font-size="56.03" fill="#000" stroke="#000" stroke-width="0.7">P2p<tspan font-size="40.5" dy="14.9">1/2</tspan></text>
<text transform="matrix(1.4032 0 0 1 1779.97 3827.7)" font-family='"DejaVu Sans", "Liberation Sans", sans-serif' font-size="57.26" fill="#000" stroke="#000" stroke-width="0.7">P2p<tspan font-size="41.5" dy="14.9">3/2</tspan></text>
<text transform="matrix(1.4912 0 0 1 990.6 4157)" font-family='"Liberation Sans", sans-serif' font-size="46.96" font-weight="normal" fill="#1f1f1f">Binding Energy [eV]</text>
<text transform="translate(126.6 3552.79) rotate(-90) scale(0.932 1.3565)" font-family='"Liberation Sans", sans-serif' font-size="50" fill="#1f1f1f">Intensity [cps]</text>
</g>
</svg></body></html>
